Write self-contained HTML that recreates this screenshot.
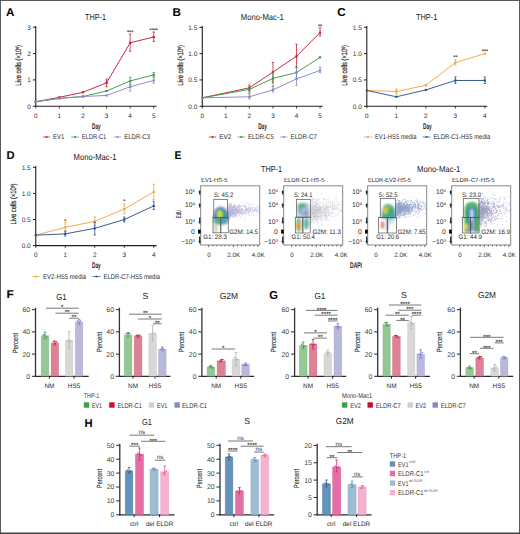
<!DOCTYPE html>
<html><head><meta charset="utf-8"><style>
html,body{margin:0;padding:0;background:#fff;overflow:hidden;}
svg{display:block;}
text{font-family:"Liberation Sans",sans-serif;text-rendering:geometricPrecision;}
</style></head><body>
<svg width="520" height="534" viewBox="0 0 520 534">
<rect x="0" y="0" width="520" height="534" fill="#fff"/>
<line x1="35.75" y1="26.00" x2="35.75" y2="106.75" stroke="#231f20" stroke-width="1.1"/>
<line x1="35.25" y1="106.25" x2="156.50" y2="106.25" stroke="#231f20" stroke-width="1.1"/>
<line x1="32.95" y1="106.25" x2="35.75" y2="106.25" stroke="#231f20" stroke-width="1.0"/>
<text x="30.75" y="108.58" font-size="6.5" text-anchor="end" fill="#333">0</text>
<line x1="32.95" y1="79.92" x2="35.75" y2="79.92" stroke="#231f20" stroke-width="1.0"/>
<text x="30.75" y="82.25" font-size="6.5" text-anchor="end" fill="#333">1</text>
<line x1="32.95" y1="53.59" x2="35.75" y2="53.59" stroke="#231f20" stroke-width="1.0"/>
<text x="30.75" y="55.92" font-size="6.5" text-anchor="end" fill="#333">2</text>
<line x1="32.95" y1="27.26" x2="35.75" y2="27.26" stroke="#231f20" stroke-width="1.0"/>
<text x="30.75" y="29.59" font-size="6.5" text-anchor="end" fill="#333">3</text>
<line x1="35.75" y1="106.25" x2="35.75" y2="108.45" stroke="#231f20" stroke-width="0.9"/>
<text x="35.75" y="117.54" font-size="6.4" text-anchor="middle" fill="#333">0</text>
<line x1="59.35" y1="106.25" x2="59.35" y2="108.45" stroke="#231f20" stroke-width="0.9"/>
<text x="59.35" y="117.54" font-size="6.4" text-anchor="middle" fill="#333">1</text>
<line x1="82.95" y1="106.25" x2="82.95" y2="108.45" stroke="#231f20" stroke-width="0.9"/>
<text x="82.95" y="117.54" font-size="6.4" text-anchor="middle" fill="#333">2</text>
<line x1="106.55" y1="106.25" x2="106.55" y2="108.45" stroke="#231f20" stroke-width="0.9"/>
<text x="106.55" y="117.54" font-size="6.4" text-anchor="middle" fill="#333">3</text>
<line x1="130.15" y1="106.25" x2="130.15" y2="108.45" stroke="#231f20" stroke-width="0.9"/>
<text x="130.15" y="117.54" font-size="6.4" text-anchor="middle" fill="#333">4</text>
<line x1="153.75" y1="106.25" x2="153.75" y2="108.45" stroke="#231f20" stroke-width="0.9"/>
<text x="153.75" y="117.54" font-size="6.4" text-anchor="middle" fill="#333">5</text>
<text x="95.50" y="20.08" font-size="8.6" text-anchor="middle" textLength="20.90" lengthAdjust="spacingAndGlyphs" fill="#222">THP-1</text>
<text x="0" y="2.83" font-size="7.9" text-anchor="middle" textLength="40.60" lengthAdjust="spacingAndGlyphs" fill="#222" stroke="#222" stroke-width="0.18" transform="translate(18.40,65.40) rotate(-90)">Live cells (×10<tspan font-size="4.4" dy="-2.4">6</tspan><tspan dy="2.4">)</tspan></text>
<text x="96.40" y="128.54" font-size="8.2" text-anchor="middle" font-weight="bold" textLength="8.60" lengthAdjust="spacingAndGlyphs" fill="#222">Day</text>
<path d="M35.75,101.77 L59.35,97.30 L82.95,92.30 L106.55,82.82 L130.15,42.79 L153.75,37.00" fill="none" stroke="#c81e3c" stroke-width="0.95"/>
<rect x="34.65" y="100.67" width="2.20" height="2.20" fill="#c81e3c"/>
<rect x="58.25" y="96.20" width="2.20" height="2.20" fill="#c81e3c"/>
<rect x="81.85" y="91.20" width="2.20" height="2.20" fill="#c81e3c"/>
<rect x="105.45" y="81.72" width="2.20" height="2.20" fill="#c81e3c"/>
<rect x="129.05" y="41.69" width="2.20" height="2.20" fill="#c81e3c"/>
<rect x="152.65" y="35.90" width="2.20" height="2.20" fill="#c81e3c"/>
<line x1="106.55" y1="79.10" x2="106.55" y2="86.80" stroke="#c81e3c" stroke-width="0.8"/>
<line x1="105.35" y1="79.10" x2="107.75" y2="79.10" stroke="#c81e3c" stroke-width="0.8"/>
<line x1="105.35" y1="86.80" x2="107.75" y2="86.80" stroke="#c81e3c" stroke-width="0.8"/>
<line x1="130.15" y1="34.10" x2="130.15" y2="51.30" stroke="#c81e3c" stroke-width="0.8"/>
<line x1="128.95" y1="34.10" x2="131.35" y2="34.10" stroke="#c81e3c" stroke-width="0.8"/>
<line x1="128.95" y1="51.30" x2="131.35" y2="51.30" stroke="#c81e3c" stroke-width="0.8"/>
<line x1="153.75" y1="32.00" x2="153.75" y2="41.40" stroke="#c81e3c" stroke-width="0.8"/>
<line x1="152.55" y1="32.00" x2="154.95" y2="32.00" stroke="#c81e3c" stroke-width="0.8"/>
<line x1="152.55" y1="41.40" x2="154.95" y2="41.40" stroke="#c81e3c" stroke-width="0.8"/>
<text x="130.15" y="33.93" font-size="5.4" text-anchor="middle" fill="#333" stroke="#333" stroke-width="0.12">***</text>
<text x="153.75" y="31.83" font-size="5.4" text-anchor="middle" fill="#333" stroke="#333" stroke-width="0.12">****</text>
<path d="M35.75,101.77 L59.35,98.35 L82.95,96.51 L106.55,90.98 L130.15,80.97 L153.75,74.92" fill="none" stroke="#3c9a48" stroke-width="0.95"/>
<rect x="34.65" y="100.67" width="2.20" height="2.20" fill="#3c9a48"/>
<rect x="58.25" y="97.25" width="2.20" height="2.20" fill="#3c9a48"/>
<rect x="81.85" y="95.41" width="2.20" height="2.20" fill="#3c9a48"/>
<rect x="105.45" y="89.88" width="2.20" height="2.20" fill="#3c9a48"/>
<rect x="129.05" y="79.87" width="2.20" height="2.20" fill="#3c9a48"/>
<rect x="152.65" y="73.82" width="2.20" height="2.20" fill="#3c9a48"/>
<line x1="130.15" y1="77.30" x2="130.15" y2="84.50" stroke="#3c9a48" stroke-width="0.8"/>
<line x1="128.95" y1="77.30" x2="131.35" y2="77.30" stroke="#3c9a48" stroke-width="0.8"/>
<line x1="128.95" y1="84.50" x2="131.35" y2="84.50" stroke="#3c9a48" stroke-width="0.8"/>
<line x1="153.75" y1="72.50" x2="153.75" y2="77.00" stroke="#3c9a48" stroke-width="0.8"/>
<line x1="152.55" y1="72.50" x2="154.95" y2="72.50" stroke="#3c9a48" stroke-width="0.8"/>
<line x1="152.55" y1="77.00" x2="154.95" y2="77.00" stroke="#3c9a48" stroke-width="0.8"/>
<path d="M35.75,101.77 L59.35,98.35 L82.95,96.51 L106.55,95.45 L130.15,86.77 L153.75,80.45" fill="none" stroke="#8a86c8" stroke-width="0.95"/>
<rect x="34.65" y="100.67" width="2.20" height="2.20" fill="#8a86c8"/>
<rect x="58.25" y="97.25" width="2.20" height="2.20" fill="#8a86c8"/>
<rect x="81.85" y="95.41" width="2.20" height="2.20" fill="#8a86c8"/>
<rect x="105.45" y="94.35" width="2.20" height="2.20" fill="#8a86c8"/>
<rect x="129.05" y="85.67" width="2.20" height="2.20" fill="#8a86c8"/>
<rect x="152.65" y="79.35" width="2.20" height="2.20" fill="#8a86c8"/>
<line x1="130.15" y1="81.20" x2="130.15" y2="91.00" stroke="#8a86c8" stroke-width="0.8"/>
<line x1="128.95" y1="81.20" x2="131.35" y2="81.20" stroke="#8a86c8" stroke-width="0.8"/>
<line x1="128.95" y1="91.00" x2="131.35" y2="91.00" stroke="#8a86c8" stroke-width="0.8"/>
<line x1="153.75" y1="77.70" x2="153.75" y2="83.30" stroke="#8a86c8" stroke-width="0.8"/>
<line x1="152.55" y1="77.70" x2="154.95" y2="77.70" stroke="#8a86c8" stroke-width="0.8"/>
<line x1="152.55" y1="83.30" x2="154.95" y2="83.30" stroke="#8a86c8" stroke-width="0.8"/>
<line x1="43.00" y1="137.00" x2="50.00" y2="137.00" stroke="#c81e3c" stroke-width="0.9" stroke-opacity="0.8"/>
<rect x="45.60" y="136.10" width="1.80" height="1.80" fill="#c81e3c"/>
<text x="53.00" y="139.47" font-size="6.9" textLength="11.25" lengthAdjust="spacingAndGlyphs" fill="#2a2a2a">EV1</text>
<line x1="71.25" y1="137.00" x2="78.75" y2="137.00" stroke="#3c9a48" stroke-width="0.9" stroke-opacity="0.8"/>
<rect x="74.10" y="136.10" width="1.80" height="1.80" fill="#3c9a48"/>
<text x="81.75" y="139.47" font-size="6.9" textLength="24.50" lengthAdjust="spacingAndGlyphs" fill="#2a2a2a">ELDR-C1</text>
<line x1="113.75" y1="137.00" x2="121.25" y2="137.00" stroke="#8a86c8" stroke-width="0.9" stroke-opacity="0.8"/>
<rect x="116.60" y="136.10" width="1.80" height="1.80" fill="#8a86c8"/>
<text x="124.25" y="139.47" font-size="6.9" textLength="25.75" lengthAdjust="spacingAndGlyphs" fill="#2a2a2a">ELDR-C3</text>
<line x1="202.30" y1="26.00" x2="202.30" y2="106.75" stroke="#231f20" stroke-width="1.1"/>
<line x1="201.80" y1="106.25" x2="322.70" y2="106.25" stroke="#231f20" stroke-width="1.1"/>
<line x1="199.50" y1="106.25" x2="202.30" y2="106.25" stroke="#231f20" stroke-width="1.0"/>
<text x="197.30" y="108.58" font-size="6.5" text-anchor="end" fill="#333">0.0</text>
<line x1="199.50" y1="79.95" x2="202.30" y2="79.95" stroke="#231f20" stroke-width="1.0"/>
<text x="197.30" y="82.28" font-size="6.5" text-anchor="end" fill="#333">0.5</text>
<line x1="199.50" y1="53.65" x2="202.30" y2="53.65" stroke="#231f20" stroke-width="1.0"/>
<text x="197.30" y="55.98" font-size="6.5" text-anchor="end" fill="#333">1.0</text>
<line x1="199.50" y1="27.35" x2="202.30" y2="27.35" stroke="#231f20" stroke-width="1.0"/>
<text x="197.30" y="29.68" font-size="6.5" text-anchor="end" fill="#333">1.5</text>
<line x1="202.30" y1="106.25" x2="202.30" y2="108.45" stroke="#231f20" stroke-width="0.9"/>
<text x="202.30" y="117.54" font-size="6.4" text-anchor="middle" fill="#333">0</text>
<line x1="225.85" y1="106.25" x2="225.85" y2="108.45" stroke="#231f20" stroke-width="0.9"/>
<text x="225.85" y="117.54" font-size="6.4" text-anchor="middle" fill="#333">1</text>
<line x1="249.40" y1="106.25" x2="249.40" y2="108.45" stroke="#231f20" stroke-width="0.9"/>
<text x="249.40" y="117.54" font-size="6.4" text-anchor="middle" fill="#333">2</text>
<line x1="272.95" y1="106.25" x2="272.95" y2="108.45" stroke="#231f20" stroke-width="0.9"/>
<text x="272.95" y="117.54" font-size="6.4" text-anchor="middle" fill="#333">3</text>
<line x1="296.50" y1="106.25" x2="296.50" y2="108.45" stroke="#231f20" stroke-width="0.9"/>
<text x="296.50" y="117.54" font-size="6.4" text-anchor="middle" fill="#333">4</text>
<line x1="320.05" y1="106.25" x2="320.05" y2="108.45" stroke="#231f20" stroke-width="0.9"/>
<text x="320.05" y="117.54" font-size="6.4" text-anchor="middle" fill="#333">5</text>
<text x="262.30" y="20.08" font-size="8.6" text-anchor="middle" textLength="42.90" lengthAdjust="spacingAndGlyphs" fill="#222">Mono-Mac-1</text>
<text x="0" y="2.83" font-size="7.9" text-anchor="middle" textLength="40.60" lengthAdjust="spacingAndGlyphs" fill="#222" stroke="#222" stroke-width="0.18" transform="translate(180.20,65.40) rotate(-90)">Live cells (×10<tspan font-size="4.4" dy="-2.4">6</tspan><tspan dy="2.4">)</tspan></text>
<text x="262.50" y="128.54" font-size="8.2" text-anchor="middle" font-weight="bold" textLength="8.60" lengthAdjust="spacingAndGlyphs" fill="#222">Day</text>
<path d="M202.30,97.83 L249.40,87.84 L272.95,72.06 L296.50,56.28 L320.05,32.61" fill="none" stroke="#c81e3c" stroke-width="0.95"/>
<rect x="201.20" y="96.73" width="2.20" height="2.20" fill="#c81e3c"/>
<rect x="248.30" y="86.74" width="2.20" height="2.20" fill="#c81e3c"/>
<rect x="271.85" y="70.96" width="2.20" height="2.20" fill="#c81e3c"/>
<rect x="295.40" y="55.18" width="2.20" height="2.20" fill="#c81e3c"/>
<rect x="318.95" y="31.51" width="2.20" height="2.20" fill="#c81e3c"/>
<line x1="249.40" y1="85.00" x2="249.40" y2="91.00" stroke="#c81e3c" stroke-width="0.8"/>
<line x1="248.20" y1="85.00" x2="250.60" y2="85.00" stroke="#c81e3c" stroke-width="0.8"/>
<line x1="248.20" y1="91.00" x2="250.60" y2="91.00" stroke="#c81e3c" stroke-width="0.8"/>
<line x1="272.95" y1="62.40" x2="272.95" y2="82.30" stroke="#c81e3c" stroke-width="0.8"/>
<line x1="271.75" y1="62.40" x2="274.15" y2="62.40" stroke="#c81e3c" stroke-width="0.8"/>
<line x1="271.75" y1="82.30" x2="274.15" y2="82.30" stroke="#c81e3c" stroke-width="0.8"/>
<line x1="296.50" y1="44.20" x2="296.50" y2="67.60" stroke="#c81e3c" stroke-width="0.8"/>
<line x1="295.30" y1="44.20" x2="297.70" y2="44.20" stroke="#c81e3c" stroke-width="0.8"/>
<line x1="295.30" y1="67.60" x2="297.70" y2="67.60" stroke="#c81e3c" stroke-width="0.8"/>
<line x1="320.05" y1="27.80" x2="320.05" y2="35.90" stroke="#c81e3c" stroke-width="0.8"/>
<line x1="318.85" y1="27.80" x2="321.25" y2="27.80" stroke="#c81e3c" stroke-width="0.8"/>
<line x1="318.85" y1="35.90" x2="321.25" y2="35.90" stroke="#c81e3c" stroke-width="0.8"/>
<text x="320.05" y="27.83" font-size="5.4" text-anchor="middle" fill="#333" stroke="#333" stroke-width="0.12">**</text>
<path d="M202.30,97.83 L249.40,89.42 L272.95,78.37 L296.50,72.59 L320.05,57.33" fill="none" stroke="#3c9a48" stroke-width="0.95"/>
<rect x="201.20" y="96.73" width="2.20" height="2.20" fill="#3c9a48"/>
<rect x="248.30" y="88.32" width="2.20" height="2.20" fill="#3c9a48"/>
<rect x="271.85" y="77.27" width="2.20" height="2.20" fill="#3c9a48"/>
<rect x="295.40" y="71.49" width="2.20" height="2.20" fill="#3c9a48"/>
<rect x="318.95" y="56.23" width="2.20" height="2.20" fill="#3c9a48"/>
<line x1="249.40" y1="87.00" x2="249.40" y2="93.00" stroke="#3c9a48" stroke-width="0.8"/>
<line x1="248.20" y1="87.00" x2="250.60" y2="87.00" stroke="#3c9a48" stroke-width="0.8"/>
<line x1="248.20" y1="93.00" x2="250.60" y2="93.00" stroke="#3c9a48" stroke-width="0.8"/>
<line x1="272.95" y1="72.00" x2="272.95" y2="86.60" stroke="#3c9a48" stroke-width="0.8"/>
<line x1="271.75" y1="72.00" x2="274.15" y2="72.00" stroke="#3c9a48" stroke-width="0.8"/>
<line x1="271.75" y1="86.60" x2="274.15" y2="86.60" stroke="#3c9a48" stroke-width="0.8"/>
<line x1="296.50" y1="66.70" x2="296.50" y2="78.00" stroke="#3c9a48" stroke-width="0.8"/>
<line x1="295.30" y1="66.70" x2="297.70" y2="66.70" stroke="#3c9a48" stroke-width="0.8"/>
<line x1="295.30" y1="78.00" x2="297.70" y2="78.00" stroke="#3c9a48" stroke-width="0.8"/>
<path d="M202.30,97.83 L249.40,96.78 L272.95,89.94 L296.50,78.90 L320.05,70.48" fill="none" stroke="#8a86c8" stroke-width="0.95"/>
<rect x="201.20" y="96.73" width="2.20" height="2.20" fill="#8a86c8"/>
<rect x="248.30" y="95.68" width="2.20" height="2.20" fill="#8a86c8"/>
<rect x="271.85" y="88.84" width="2.20" height="2.20" fill="#8a86c8"/>
<rect x="295.40" y="77.80" width="2.20" height="2.20" fill="#8a86c8"/>
<rect x="318.95" y="69.38" width="2.20" height="2.20" fill="#8a86c8"/>
<line x1="249.40" y1="94.00" x2="249.40" y2="99.00" stroke="#8a86c8" stroke-width="0.8"/>
<line x1="248.20" y1="94.00" x2="250.60" y2="94.00" stroke="#8a86c8" stroke-width="0.8"/>
<line x1="248.20" y1="99.00" x2="250.60" y2="99.00" stroke="#8a86c8" stroke-width="0.8"/>
<line x1="272.95" y1="88.00" x2="272.95" y2="92.00" stroke="#8a86c8" stroke-width="0.8"/>
<line x1="271.75" y1="88.00" x2="274.15" y2="88.00" stroke="#8a86c8" stroke-width="0.8"/>
<line x1="271.75" y1="92.00" x2="274.15" y2="92.00" stroke="#8a86c8" stroke-width="0.8"/>
<line x1="296.50" y1="67.70" x2="296.50" y2="85.40" stroke="#8a86c8" stroke-width="0.8"/>
<line x1="295.30" y1="67.70" x2="297.70" y2="67.70" stroke="#8a86c8" stroke-width="0.8"/>
<line x1="295.30" y1="85.40" x2="297.70" y2="85.40" stroke="#8a86c8" stroke-width="0.8"/>
<line x1="320.05" y1="67.00" x2="320.05" y2="72.80" stroke="#8a86c8" stroke-width="0.8"/>
<line x1="318.85" y1="67.00" x2="321.25" y2="67.00" stroke="#8a86c8" stroke-width="0.8"/>
<line x1="318.85" y1="72.80" x2="321.25" y2="72.80" stroke="#8a86c8" stroke-width="0.8"/>
<line x1="208.75" y1="137.00" x2="216.25" y2="137.00" stroke="#c81e3c" stroke-width="0.9" stroke-opacity="0.8"/>
<rect x="211.60" y="136.10" width="1.80" height="1.80" fill="#c81e3c"/>
<text x="219.25" y="139.47" font-size="6.9" textLength="12.00" lengthAdjust="spacingAndGlyphs" fill="#2a2a2a">EV2</text>
<line x1="237.50" y1="137.00" x2="245.00" y2="137.00" stroke="#3c9a48" stroke-width="0.9" stroke-opacity="0.8"/>
<rect x="240.35" y="136.10" width="1.80" height="1.80" fill="#3c9a48"/>
<text x="248.00" y="139.47" font-size="6.9" textLength="25.75" lengthAdjust="spacingAndGlyphs" fill="#2a2a2a">ELDR-C5</text>
<line x1="280.00" y1="137.00" x2="287.50" y2="137.00" stroke="#8a86c8" stroke-width="0.9" stroke-opacity="0.8"/>
<rect x="282.85" y="136.10" width="1.80" height="1.80" fill="#8a86c8"/>
<text x="290.50" y="139.47" font-size="6.9" textLength="26.50" lengthAdjust="spacingAndGlyphs" fill="#2a2a2a">ELDR-C7</text>
<line x1="366.80" y1="26.00" x2="366.80" y2="106.75" stroke="#231f20" stroke-width="1.1"/>
<line x1="366.30" y1="106.25" x2="487.30" y2="106.25" stroke="#231f20" stroke-width="1.1"/>
<line x1="364.00" y1="106.25" x2="366.80" y2="106.25" stroke="#231f20" stroke-width="1.0"/>
<text x="361.80" y="108.58" font-size="6.5" text-anchor="end" fill="#333">0.0</text>
<line x1="364.00" y1="79.95" x2="366.80" y2="79.95" stroke="#231f20" stroke-width="1.0"/>
<text x="361.80" y="82.28" font-size="6.5" text-anchor="end" fill="#333">0.5</text>
<line x1="364.00" y1="53.65" x2="366.80" y2="53.65" stroke="#231f20" stroke-width="1.0"/>
<text x="361.80" y="55.98" font-size="6.5" text-anchor="end" fill="#333">1.0</text>
<line x1="364.00" y1="27.35" x2="366.80" y2="27.35" stroke="#231f20" stroke-width="1.0"/>
<text x="361.80" y="29.68" font-size="6.5" text-anchor="end" fill="#333">1.5</text>
<line x1="366.90" y1="106.25" x2="366.90" y2="108.45" stroke="#231f20" stroke-width="0.9"/>
<text x="366.90" y="117.54" font-size="6.4" text-anchor="middle" fill="#333">0</text>
<line x1="396.40" y1="106.25" x2="396.40" y2="108.45" stroke="#231f20" stroke-width="0.9"/>
<text x="396.40" y="117.54" font-size="6.4" text-anchor="middle" fill="#333">1</text>
<line x1="425.90" y1="106.25" x2="425.90" y2="108.45" stroke="#231f20" stroke-width="0.9"/>
<text x="425.90" y="117.54" font-size="6.4" text-anchor="middle" fill="#333">2</text>
<line x1="455.40" y1="106.25" x2="455.40" y2="108.45" stroke="#231f20" stroke-width="0.9"/>
<text x="455.40" y="117.54" font-size="6.4" text-anchor="middle" fill="#333">3</text>
<line x1="484.90" y1="106.25" x2="484.90" y2="108.45" stroke="#231f20" stroke-width="0.9"/>
<text x="484.90" y="117.54" font-size="6.4" text-anchor="middle" fill="#333">4</text>
<text x="426.70" y="20.08" font-size="8.6" text-anchor="middle" textLength="21.30" lengthAdjust="spacingAndGlyphs" fill="#222">THP-1</text>
<text x="0" y="2.83" font-size="7.9" text-anchor="middle" textLength="40.60" lengthAdjust="spacingAndGlyphs" fill="#222" stroke="#222" stroke-width="0.18" transform="translate(344.40,65.40) rotate(-90)">Live cells (×10<tspan font-size="4.4" dy="-2.4">6</tspan><tspan dy="2.4">)</tspan></text>
<text x="427.30" y="128.84" font-size="8.2" text-anchor="middle" font-weight="bold" textLength="8.60" lengthAdjust="spacingAndGlyphs" fill="#222">Day</text>
<path d="M366.90,90.47 L396.40,91.52 L425.90,85.21 L455.40,62.59 L484.90,53.65" fill="none" stroke="#f2a640" stroke-width="0.95"/>
<rect x="365.80" y="89.37" width="2.20" height="2.20" fill="#f2a640"/>
<rect x="395.30" y="90.42" width="2.20" height="2.20" fill="#f2a640"/>
<rect x="424.80" y="84.11" width="2.20" height="2.20" fill="#f2a640"/>
<rect x="454.30" y="61.49" width="2.20" height="2.20" fill="#f2a640"/>
<rect x="483.80" y="52.55" width="2.20" height="2.20" fill="#f2a640"/>
<line x1="396.40" y1="89.00" x2="396.40" y2="94.00" stroke="#f2a640" stroke-width="0.8"/>
<line x1="395.20" y1="89.00" x2="397.60" y2="89.00" stroke="#f2a640" stroke-width="0.8"/>
<line x1="395.20" y1="94.00" x2="397.60" y2="94.00" stroke="#f2a640" stroke-width="0.8"/>
<line x1="455.40" y1="59.50" x2="455.40" y2="65.00" stroke="#f2a640" stroke-width="0.8"/>
<line x1="454.20" y1="59.50" x2="456.60" y2="59.50" stroke="#f2a640" stroke-width="0.8"/>
<line x1="454.20" y1="65.00" x2="456.60" y2="65.00" stroke="#f2a640" stroke-width="0.8"/>
<text x="455.40" y="58.83" font-size="5.4" text-anchor="middle" fill="#333" stroke="#333" stroke-width="0.12">**</text>
<text x="484.90" y="52.63" font-size="5.4" text-anchor="middle" fill="#333" stroke="#333" stroke-width="0.12">***</text>
<path d="M366.90,90.47 L396.40,96.78 L425.90,89.94 L455.40,80.48 L484.90,80.48" fill="none" stroke="#2c5688" stroke-width="0.95"/>
<rect x="365.80" y="89.37" width="2.20" height="2.20" fill="#2c5688"/>
<rect x="395.30" y="95.68" width="2.20" height="2.20" fill="#2c5688"/>
<rect x="424.80" y="88.84" width="2.20" height="2.20" fill="#2c5688"/>
<rect x="454.30" y="79.38" width="2.20" height="2.20" fill="#2c5688"/>
<rect x="483.80" y="79.38" width="2.20" height="2.20" fill="#2c5688"/>
<line x1="455.40" y1="76.90" x2="455.40" y2="83.50" stroke="#2c5688" stroke-width="0.8"/>
<line x1="454.20" y1="76.90" x2="456.60" y2="76.90" stroke="#2c5688" stroke-width="0.8"/>
<line x1="454.20" y1="83.50" x2="456.60" y2="83.50" stroke="#2c5688" stroke-width="0.8"/>
<line x1="484.90" y1="77.00" x2="484.90" y2="83.50" stroke="#2c5688" stroke-width="0.8"/>
<line x1="483.70" y1="77.00" x2="486.10" y2="77.00" stroke="#2c5688" stroke-width="0.8"/>
<line x1="483.70" y1="83.50" x2="486.10" y2="83.50" stroke="#2c5688" stroke-width="0.8"/>
<line x1="363.50" y1="137.00" x2="372.00" y2="137.00" stroke="#f2a640" stroke-width="0.9" stroke-opacity="0.8"/>
<rect x="366.85" y="136.10" width="1.80" height="1.80" fill="#f2a640"/>
<text x="375.00" y="139.47" font-size="6.9" textLength="41.50" lengthAdjust="spacingAndGlyphs" fill="#2a2a2a">EV1-HS5 media</text>
<line x1="422.70" y1="137.00" x2="430.40" y2="137.00" stroke="#2c5688" stroke-width="0.9" stroke-opacity="0.8"/>
<rect x="425.65" y="136.10" width="1.80" height="1.80" fill="#2c5688"/>
<text x="433.40" y="139.47" font-size="6.9" textLength="57.00" lengthAdjust="spacingAndGlyphs" fill="#2a2a2a">ELDR-C1-HS5 media</text>
<line x1="35.75" y1="166.00" x2="35.75" y2="246.10" stroke="#231f20" stroke-width="1.1"/>
<line x1="35.25" y1="245.60" x2="156.50" y2="245.60" stroke="#231f20" stroke-width="1.1"/>
<line x1="32.95" y1="245.60" x2="35.75" y2="245.60" stroke="#231f20" stroke-width="1.0"/>
<text x="30.75" y="247.93" font-size="6.5" text-anchor="end" fill="#333">0.0</text>
<line x1="32.95" y1="219.50" x2="35.75" y2="219.50" stroke="#231f20" stroke-width="1.0"/>
<text x="30.75" y="221.83" font-size="6.5" text-anchor="end" fill="#333">0.5</text>
<line x1="32.95" y1="193.40" x2="35.75" y2="193.40" stroke="#231f20" stroke-width="1.0"/>
<text x="30.75" y="195.73" font-size="6.5" text-anchor="end" fill="#333">1.0</text>
<line x1="32.95" y1="167.30" x2="35.75" y2="167.30" stroke="#231f20" stroke-width="1.0"/>
<text x="30.75" y="169.63" font-size="6.5" text-anchor="end" fill="#333">1.5</text>
<line x1="35.75" y1="245.60" x2="35.75" y2="247.80" stroke="#231f20" stroke-width="0.9"/>
<text x="35.75" y="256.89" font-size="6.4" text-anchor="middle" fill="#333">0</text>
<line x1="65.25" y1="245.60" x2="65.25" y2="247.80" stroke="#231f20" stroke-width="0.9"/>
<text x="65.25" y="256.89" font-size="6.4" text-anchor="middle" fill="#333">1</text>
<line x1="94.75" y1="245.60" x2="94.75" y2="247.80" stroke="#231f20" stroke-width="0.9"/>
<text x="94.75" y="256.89" font-size="6.4" text-anchor="middle" fill="#333">2</text>
<line x1="124.25" y1="245.60" x2="124.25" y2="247.80" stroke="#231f20" stroke-width="0.9"/>
<text x="124.25" y="256.89" font-size="6.4" text-anchor="middle" fill="#333">3</text>
<line x1="153.75" y1="245.60" x2="153.75" y2="247.80" stroke="#231f20" stroke-width="0.9"/>
<text x="153.75" y="256.89" font-size="6.4" text-anchor="middle" fill="#333">4</text>
<text x="95.00" y="160.08" font-size="8.6" text-anchor="middle" textLength="43.00" lengthAdjust="spacingAndGlyphs" fill="#222">Mono-Mac-1</text>
<text x="0" y="2.83" font-size="7.9" text-anchor="middle" textLength="41.00" lengthAdjust="spacingAndGlyphs" fill="#222" stroke="#222" stroke-width="0.18" transform="translate(13.50,204.00) rotate(-90)">Live cells (×10<tspan font-size="4.4" dy="-2.4">6</tspan><tspan dy="2.4">)</tspan></text>
<text x="96.40" y="268.14" font-size="8.2" text-anchor="middle" font-weight="bold" textLength="8.60" lengthAdjust="spacingAndGlyphs" fill="#222">Day</text>
<path d="M35.75,235.16 L65.25,227.33 L94.75,221.33 L124.25,209.06 L153.75,191.83" fill="none" stroke="#f2a640" stroke-width="0.95"/>
<rect x="34.65" y="234.06" width="2.20" height="2.20" fill="#f2a640"/>
<rect x="64.15" y="226.23" width="2.20" height="2.20" fill="#f2a640"/>
<rect x="93.65" y="220.23" width="2.20" height="2.20" fill="#f2a640"/>
<rect x="123.15" y="207.96" width="2.20" height="2.20" fill="#f2a640"/>
<rect x="152.65" y="190.73" width="2.20" height="2.20" fill="#f2a640"/>
<line x1="65.25" y1="222.50" x2="65.25" y2="231.00" stroke="#f2a640" stroke-width="0.8"/>
<line x1="64.05" y1="222.50" x2="66.45" y2="222.50" stroke="#f2a640" stroke-width="0.8"/>
<line x1="64.05" y1="231.00" x2="66.45" y2="231.00" stroke="#f2a640" stroke-width="0.8"/>
<line x1="94.75" y1="217.00" x2="94.75" y2="225.50" stroke="#f2a640" stroke-width="0.8"/>
<line x1="93.55" y1="217.00" x2="95.95" y2="217.00" stroke="#f2a640" stroke-width="0.8"/>
<line x1="93.55" y1="225.50" x2="95.95" y2="225.50" stroke="#f2a640" stroke-width="0.8"/>
<line x1="124.25" y1="203.75" x2="124.25" y2="213.75" stroke="#f2a640" stroke-width="0.8"/>
<line x1="123.05" y1="203.75" x2="125.45" y2="203.75" stroke="#f2a640" stroke-width="0.8"/>
<line x1="123.05" y1="213.75" x2="125.45" y2="213.75" stroke="#f2a640" stroke-width="0.8"/>
<line x1="153.75" y1="184.25" x2="153.75" y2="199.50" stroke="#f2a640" stroke-width="0.8"/>
<line x1="152.55" y1="184.25" x2="154.95" y2="184.25" stroke="#f2a640" stroke-width="0.8"/>
<line x1="152.55" y1="199.50" x2="154.95" y2="199.50" stroke="#f2a640" stroke-width="0.8"/>
<text x="65.25" y="223.03" font-size="5.4" text-anchor="middle" fill="#333" stroke="#333" stroke-width="0.12">*</text>
<text x="124.25" y="202.53" font-size="5.4" text-anchor="middle" fill="#333" stroke="#333" stroke-width="0.12">*</text>
<path d="M35.75,235.16 L65.25,233.85 L94.75,228.37 L124.25,219.50 L153.75,205.93" fill="none" stroke="#2c5688" stroke-width="0.95"/>
<rect x="34.65" y="234.06" width="2.20" height="2.20" fill="#2c5688"/>
<rect x="64.15" y="232.75" width="2.20" height="2.20" fill="#2c5688"/>
<rect x="93.65" y="227.27" width="2.20" height="2.20" fill="#2c5688"/>
<rect x="123.15" y="218.40" width="2.20" height="2.20" fill="#2c5688"/>
<rect x="152.65" y="204.83" width="2.20" height="2.20" fill="#2c5688"/>
<line x1="65.25" y1="231.00" x2="65.25" y2="236.00" stroke="#2c5688" stroke-width="0.8"/>
<line x1="64.05" y1="231.00" x2="66.45" y2="231.00" stroke="#2c5688" stroke-width="0.8"/>
<line x1="64.05" y1="236.00" x2="66.45" y2="236.00" stroke="#2c5688" stroke-width="0.8"/>
<line x1="94.75" y1="222.50" x2="94.75" y2="235.00" stroke="#2c5688" stroke-width="0.8"/>
<line x1="93.55" y1="222.50" x2="95.95" y2="222.50" stroke="#2c5688" stroke-width="0.8"/>
<line x1="93.55" y1="235.00" x2="95.95" y2="235.00" stroke="#2c5688" stroke-width="0.8"/>
<line x1="124.25" y1="217.00" x2="124.25" y2="222.00" stroke="#2c5688" stroke-width="0.8"/>
<line x1="123.05" y1="217.00" x2="125.45" y2="217.00" stroke="#2c5688" stroke-width="0.8"/>
<line x1="123.05" y1="222.00" x2="125.45" y2="222.00" stroke="#2c5688" stroke-width="0.8"/>
<line x1="153.75" y1="201.25" x2="153.75" y2="209.50" stroke="#2c5688" stroke-width="0.8"/>
<line x1="152.55" y1="201.25" x2="154.95" y2="201.25" stroke="#2c5688" stroke-width="0.8"/>
<line x1="152.55" y1="209.50" x2="154.95" y2="209.50" stroke="#2c5688" stroke-width="0.8"/>
<line x1="32.30" y1="276.50" x2="40.00" y2="276.50" stroke="#f2a640" stroke-width="0.9" stroke-opacity="0.8"/>
<rect x="35.25" y="275.60" width="1.80" height="1.80" fill="#f2a640"/>
<text x="43.00" y="278.97" font-size="6.9" textLength="43.20" lengthAdjust="spacingAndGlyphs" fill="#2a2a2a">EV2-HS5 media</text>
<line x1="92.30" y1="276.50" x2="100.60" y2="276.50" stroke="#2c5688" stroke-width="0.9" stroke-opacity="0.8"/>
<rect x="95.55" y="275.60" width="1.80" height="1.80" fill="#2c5688"/>
<text x="103.60" y="278.97" font-size="6.9" textLength="56.40" lengthAdjust="spacingAndGlyphs" fill="#2a2a2a">ELDR-C7-HS5 media</text>
<text x="6.10" y="15.98" font-size="11.4" font-weight="bold" textLength="8.40" lengthAdjust="spacingAndGlyphs" fill="#000">A</text>
<text x="172.60" y="15.78" font-size="11.4" font-weight="bold" textLength="8.40" lengthAdjust="spacingAndGlyphs" fill="#000">B</text>
<text x="337.30" y="16.08" font-size="11.4" font-weight="bold" textLength="8.40" lengthAdjust="spacingAndGlyphs" fill="#000">C</text>
<text x="6.40" y="158.83" font-size="11.4" font-weight="bold" textLength="8.10" lengthAdjust="spacingAndGlyphs" fill="#000">D</text>
<text x="174.60" y="158.68" font-size="11.4" font-weight="bold" textLength="7.00" lengthAdjust="spacingAndGlyphs" fill="#000">E</text>
<text x="6.40" y="297.93" font-size="11.4" font-weight="bold" textLength="7.30" lengthAdjust="spacingAndGlyphs" fill="#000">F</text>
<text x="269.30" y="299.28" font-size="11.4" font-weight="bold" textLength="8.70" lengthAdjust="spacingAndGlyphs" fill="#000">G</text>
<text x="84.60" y="426.93" font-size="11.4" font-weight="bold" textLength="8.10" lengthAdjust="spacingAndGlyphs" fill="#000">H</text>
<defs><filter id="bl" x="-50%" y="-50%" width="200%" height="200%"><feGaussianBlur stdDeviation="1.1"/></filter><filter id="bl2" x="-50%" y="-50%" width="200%" height="200%"><feGaussianBlur stdDeviation="0.9"/></filter></defs>
<rect x="200.70" y="185.80" width="59.0" height="59.2" fill="#fff" stroke="#7a7a7a" stroke-width="0.9"/>
<g fill="#5858a8" opacity="0.35"><circle cx="230.2" cy="213.7" r="0.5"/><circle cx="228.0" cy="214.8" r="0.5"/><circle cx="232.9" cy="210.6" r="0.5"/><circle cx="232.5" cy="212.0" r="0.5"/><circle cx="227.8" cy="210.5" r="0.5"/><circle cx="228.2" cy="211.9" r="0.5"/><circle cx="231.4" cy="212.0" r="0.5"/><circle cx="229.3" cy="210.1" r="0.5"/><circle cx="234.4" cy="214.6" r="0.5"/><circle cx="231.0" cy="210.1" r="0.5"/><circle cx="253.7" cy="215.5" r="0.5"/><circle cx="229.9" cy="213.0" r="0.5"/><circle cx="228.6" cy="213.2" r="0.5"/><circle cx="239.4" cy="212.5" r="0.5"/><circle cx="228.9" cy="207.9" r="0.5"/><circle cx="230.8" cy="209.4" r="0.5"/><circle cx="233.1" cy="212.1" r="0.5"/><circle cx="229.1" cy="211.8" r="0.5"/><circle cx="235.5" cy="208.9" r="0.5"/><circle cx="233.7" cy="212.3" r="0.5"/><circle cx="231.7" cy="209.8" r="0.5"/><circle cx="235.9" cy="215.8" r="0.5"/><circle cx="229.5" cy="208.4" r="0.5"/><circle cx="242.1" cy="209.2" r="0.5"/><circle cx="236.7" cy="209.2" r="0.5"/><circle cx="228.4" cy="219.1" r="0.5"/><circle cx="231.3" cy="211.4" r="0.5"/><circle cx="232.2" cy="209.7" r="0.5"/><circle cx="227.8" cy="209.1" r="0.5"/><circle cx="233.5" cy="207.1" r="0.5"/><circle cx="242.1" cy="209.1" r="0.5"/><circle cx="233.8" cy="215.2" r="0.5"/><circle cx="233.6" cy="206.0" r="0.5"/><circle cx="247.8" cy="211.9" r="0.5"/><circle cx="232.0" cy="210.8" r="0.5"/><circle cx="236.0" cy="210.2" r="0.5"/><circle cx="234.8" cy="216.3" r="0.5"/><circle cx="229.8" cy="211.2" r="0.5"/><circle cx="230.9" cy="211.0" r="0.5"/><circle cx="231.8" cy="210.8" r="0.5"/><circle cx="228.8" cy="212.2" r="0.5"/><circle cx="237.7" cy="211.6" r="0.5"/><circle cx="228.5" cy="211.5" r="0.5"/><circle cx="241.9" cy="213.6" r="0.5"/><circle cx="228.1" cy="208.1" r="0.5"/><circle cx="242.5" cy="211.9" r="0.5"/><circle cx="239.5" cy="212.4" r="0.5"/><circle cx="231.3" cy="209.6" r="0.5"/><circle cx="230.6" cy="216.6" r="0.5"/><circle cx="228.6" cy="206.8" r="0.5"/><circle cx="228.9" cy="211.7" r="0.5"/><circle cx="232.1" cy="213.3" r="0.5"/><circle cx="233.7" cy="211.2" r="0.5"/><circle cx="231.3" cy="211.6" r="0.5"/><circle cx="230.7" cy="205.0" r="0.5"/><circle cx="235.7" cy="208.3" r="0.5"/><circle cx="232.6" cy="208.1" r="0.5"/><circle cx="227.9" cy="208.6" r="0.5"/><circle cx="243.6" cy="211.8" r="0.5"/><circle cx="238.7" cy="205.3" r="0.5"/><circle cx="231.0" cy="210.3" r="0.5"/><circle cx="234.5" cy="211.9" r="0.5"/><circle cx="227.9" cy="213.2" r="0.5"/><circle cx="228.7" cy="212.2" r="0.5"/><circle cx="230.4" cy="211.4" r="0.5"/><circle cx="228.6" cy="211.5" r="0.5"/><circle cx="228.2" cy="211.0" r="0.5"/><circle cx="242.0" cy="211.3" r="0.5"/><circle cx="234.2" cy="212.4" r="0.5"/><circle cx="230.5" cy="213.1" r="0.5"/><circle cx="230.7" cy="215.2" r="0.5"/><circle cx="231.9" cy="210.1" r="0.5"/><circle cx="228.3" cy="211.6" r="0.5"/><circle cx="230.4" cy="210.9" r="0.5"/><circle cx="228.7" cy="216.7" r="0.5"/><circle cx="227.7" cy="214.8" r="0.5"/><circle cx="228.6" cy="210.4" r="0.5"/><circle cx="233.0" cy="214.6" r="0.5"/><circle cx="254.4" cy="210.7" r="0.5"/><circle cx="241.4" cy="210.1" r="0.5"/><circle cx="230.7" cy="209.3" r="0.5"/><circle cx="228.8" cy="211.9" r="0.5"/><circle cx="238.1" cy="207.6" r="0.5"/><circle cx="230.3" cy="212.2" r="0.5"/><circle cx="256.9" cy="215.1" r="0.5"/><circle cx="240.9" cy="212.6" r="0.5"/><circle cx="236.9" cy="206.2" r="0.5"/><circle cx="229.3" cy="208.8" r="0.5"/><circle cx="227.7" cy="211.2" r="0.5"/><circle cx="227.7" cy="211.1" r="0.5"/><circle cx="235.8" cy="213.2" r="0.5"/><circle cx="249.4" cy="204.2" r="0.5"/><circle cx="258.5" cy="212.1" r="0.5"/><circle cx="249.2" cy="209.1" r="0.5"/><circle cx="229.3" cy="212.9" r="0.5"/><circle cx="229.0" cy="212.5" r="0.5"/><circle cx="243.6" cy="214.4" r="0.5"/><circle cx="240.3" cy="206.8" r="0.5"/><circle cx="238.8" cy="211.5" r="0.5"/><circle cx="228.1" cy="208.2" r="0.5"/><circle cx="238.2" cy="205.8" r="0.5"/><circle cx="237.2" cy="209.3" r="0.5"/><circle cx="238.4" cy="211.2" r="0.5"/><circle cx="230.3" cy="213.7" r="0.5"/><circle cx="231.0" cy="204.2" r="0.5"/><circle cx="231.1" cy="215.6" r="0.5"/><circle cx="228.8" cy="210.0" r="0.5"/><circle cx="228.5" cy="215.0" r="0.5"/><circle cx="239.0" cy="215.9" r="0.5"/><circle cx="228.6" cy="215.1" r="0.5"/><circle cx="235.0" cy="204.2" r="0.5"/><circle cx="230.5" cy="209.9" r="0.5"/><circle cx="227.6" cy="211.0" r="0.5"/><circle cx="252.3" cy="208.2" r="0.5"/><circle cx="246.5" cy="207.8" r="0.5"/><circle cx="231.5" cy="214.9" r="0.5"/><circle cx="229.2" cy="207.6" r="0.5"/><circle cx="229.5" cy="210.8" r="0.5"/><circle cx="233.7" cy="213.2" r="0.5"/><circle cx="229.6" cy="210.1" r="0.5"/><circle cx="244.4" cy="211.4" r="0.5"/><circle cx="230.6" cy="207.8" r="0.5"/><circle cx="243.9" cy="211.6" r="0.5"/><circle cx="231.3" cy="214.2" r="0.5"/><circle cx="232.8" cy="209.6" r="0.5"/><circle cx="232.7" cy="214.2" r="0.5"/><circle cx="228.9" cy="211.8" r="0.5"/><circle cx="227.5" cy="212.0" r="0.5"/><circle cx="232.0" cy="209.6" r="0.5"/><circle cx="236.5" cy="208.7" r="0.5"/><circle cx="232.6" cy="210.4" r="0.5"/><circle cx="233.2" cy="211.5" r="0.5"/><circle cx="233.3" cy="209.9" r="0.5"/><circle cx="229.5" cy="210.6" r="0.5"/><circle cx="232.5" cy="216.0" r="0.5"/><circle cx="233.3" cy="211.6" r="0.5"/><circle cx="231.6" cy="205.1" r="0.5"/><circle cx="234.1" cy="207.8" r="0.5"/><circle cx="235.8" cy="211.0" r="0.5"/><circle cx="231.7" cy="208.2" r="0.5"/><circle cx="247.4" cy="209.8" r="0.5"/><circle cx="235.9" cy="215.9" r="0.5"/><circle cx="229.6" cy="206.7" r="0.5"/><circle cx="233.2" cy="216.2" r="0.5"/><circle cx="228.5" cy="209.6" r="0.5"/><circle cx="228.4" cy="210.4" r="0.5"/><circle cx="229.4" cy="211.8" r="0.5"/><circle cx="228.0" cy="209.1" r="0.5"/><circle cx="243.4" cy="206.4" r="0.5"/><circle cx="228.7" cy="210.6" r="0.5"/><circle cx="228.6" cy="207.4" r="0.5"/><circle cx="242.5" cy="212.7" r="0.5"/><circle cx="248.8" cy="210.0" r="0.5"/><circle cx="231.1" cy="202.9" r="0.5"/><circle cx="240.0" cy="211.6" r="0.5"/><circle cx="228.7" cy="208.4" r="0.5"/><circle cx="230.4" cy="212.8" r="0.5"/><circle cx="229.0" cy="209.6" r="0.5"/><circle cx="227.6" cy="215.6" r="0.5"/><circle cx="233.2" cy="210.7" r="0.5"/><circle cx="230.3" cy="211.6" r="0.5"/><circle cx="234.3" cy="210.1" r="0.5"/><circle cx="256.9" cy="209.9" r="0.5"/><circle cx="238.4" cy="212.3" r="0.5"/><circle cx="229.7" cy="211.2" r="0.5"/><circle cx="227.8" cy="211.9" r="0.5"/><circle cx="228.5" cy="209.3" r="0.5"/><circle cx="231.3" cy="215.7" r="0.5"/><circle cx="229.6" cy="208.7" r="0.5"/><circle cx="228.6" cy="214.6" r="0.5"/><circle cx="235.9" cy="209.3" r="0.5"/><circle cx="228.2" cy="215.5" r="0.5"/><circle cx="231.4" cy="212.8" r="0.5"/><circle cx="228.0" cy="215.2" r="0.5"/><circle cx="238.8" cy="209.4" r="0.5"/><circle cx="228.1" cy="212.1" r="0.5"/><circle cx="241.4" cy="210.0" r="0.5"/><circle cx="231.7" cy="209.4" r="0.5"/><circle cx="245.8" cy="213.6" r="0.5"/><circle cx="229.7" cy="213.7" r="0.5"/><circle cx="229.4" cy="213.9" r="0.5"/><circle cx="228.3" cy="211.9" r="0.5"/><circle cx="229.1" cy="212.2" r="0.5"/><circle cx="230.1" cy="209.8" r="0.5"/><circle cx="229.9" cy="215.8" r="0.5"/><circle cx="232.4" cy="212.4" r="0.5"/><circle cx="227.6" cy="213.8" r="0.5"/><circle cx="229.5" cy="215.9" r="0.5"/><circle cx="233.1" cy="211.7" r="0.5"/><circle cx="229.0" cy="205.0" r="0.5"/><circle cx="228.3" cy="212.5" r="0.5"/><circle cx="239.5" cy="207.9" r="0.5"/><circle cx="240.1" cy="212.2" r="0.5"/><circle cx="231.0" cy="207.1" r="0.5"/><circle cx="255.8" cy="209.9" r="0.5"/><circle cx="230.4" cy="213.5" r="0.5"/><circle cx="234.6" cy="207.3" r="0.5"/><circle cx="231.1" cy="210.8" r="0.5"/><circle cx="228.5" cy="212.2" r="0.5"/><circle cx="228.0" cy="211.4" r="0.5"/><circle cx="228.7" cy="209.3" r="0.5"/><circle cx="228.1" cy="214.5" r="0.5"/><circle cx="235.3" cy="206.4" r="0.5"/><circle cx="229.8" cy="211.5" r="0.5"/><circle cx="231.8" cy="213.6" r="0.5"/><circle cx="228.7" cy="209.4" r="0.5"/><circle cx="250.4" cy="211.1" r="0.5"/><circle cx="252.7" cy="208.2" r="0.5"/><circle cx="251.1" cy="209.7" r="0.5"/><circle cx="230.1" cy="211.3" r="0.5"/><circle cx="230.9" cy="211.4" r="0.5"/><circle cx="232.0" cy="209.4" r="0.5"/><circle cx="232.4" cy="211.2" r="0.5"/><circle cx="227.5" cy="211.4" r="0.5"/><circle cx="231.1" cy="212.5" r="0.5"/><circle cx="227.8" cy="213.8" r="0.5"/><circle cx="229.4" cy="211.7" r="0.5"/><circle cx="233.7" cy="206.6" r="0.5"/><circle cx="235.0" cy="210.3" r="0.5"/><circle cx="236.3" cy="213.1" r="0.5"/><circle cx="230.3" cy="209.4" r="0.5"/><circle cx="256.8" cy="212.7" r="0.5"/><circle cx="234.7" cy="214.8" r="0.5"/><circle cx="227.8" cy="214.5" r="0.5"/><circle cx="234.4" cy="206.1" r="0.5"/><circle cx="236.8" cy="211.6" r="0.5"/><circle cx="232.7" cy="209.8" r="0.5"/><circle cx="232.4" cy="213.8" r="0.5"/><circle cx="239.8" cy="206.5" r="0.5"/><circle cx="233.6" cy="214.5" r="0.5"/><circle cx="235.8" cy="208.4" r="0.5"/><circle cx="229.3" cy="212.9" r="0.5"/><circle cx="230.6" cy="211.6" r="0.5"/><circle cx="228.3" cy="213.3" r="0.5"/><circle cx="234.4" cy="208.1" r="0.5"/><circle cx="234.4" cy="209.8" r="0.5"/><circle cx="227.5" cy="208.6" r="0.5"/><circle cx="238.7" cy="210.9" r="0.5"/><circle cx="232.9" cy="207.9" r="0.5"/><circle cx="235.0" cy="215.3" r="0.5"/><circle cx="229.5" cy="213.2" r="0.5"/><circle cx="228.0" cy="211.0" r="0.5"/><circle cx="229.1" cy="215.9" r="0.5"/><circle cx="236.9" cy="214.3" r="0.5"/><circle cx="230.9" cy="210.8" r="0.5"/><circle cx="232.1" cy="209.3" r="0.5"/><circle cx="234.2" cy="206.8" r="0.5"/><circle cx="234.7" cy="212.5" r="0.5"/><circle cx="229.6" cy="212.1" r="0.5"/><circle cx="237.0" cy="209.8" r="0.5"/><circle cx="227.6" cy="214.9" r="0.5"/><circle cx="227.9" cy="211.0" r="0.5"/><circle cx="235.7" cy="215.2" r="0.5"/><circle cx="235.4" cy="210.2" r="0.5"/><circle cx="231.9" cy="214.5" r="0.5"/><circle cx="231.9" cy="215.6" r="0.5"/><circle cx="229.1" cy="215.4" r="0.5"/><circle cx="254.3" cy="210.6" r="0.5"/><circle cx="231.8" cy="211.1" r="0.5"/><circle cx="239.5" cy="213.9" r="0.5"/><circle cx="229.7" cy="210.8" r="0.5"/><circle cx="229.1" cy="213.2" r="0.5"/><circle cx="233.6" cy="210.5" r="0.5"/><circle cx="228.6" cy="204.6" r="0.5"/><circle cx="228.5" cy="210.4" r="0.5"/><circle cx="239.5" cy="205.1" r="0.5"/><circle cx="236.0" cy="210.8" r="0.5"/><circle cx="229.3" cy="214.0" r="0.5"/><circle cx="227.7" cy="209.6" r="0.5"/><circle cx="227.5" cy="208.4" r="0.5"/><circle cx="230.0" cy="211.5" r="0.5"/><circle cx="228.6" cy="210.1" r="0.5"/><circle cx="240.3" cy="212.9" r="0.5"/><circle cx="227.5" cy="211.5" r="0.5"/><circle cx="228.4" cy="206.1" r="0.5"/><circle cx="245.8" cy="209.2" r="0.5"/><circle cx="229.9" cy="205.5" r="0.5"/><circle cx="230.8" cy="203.3" r="0.5"/><circle cx="233.7" cy="217.6" r="0.5"/><circle cx="230.6" cy="209.3" r="0.5"/><circle cx="227.8" cy="212.5" r="0.5"/><circle cx="228.3" cy="212.6" r="0.5"/><circle cx="246.7" cy="208.6" r="0.5"/><circle cx="229.5" cy="211.1" r="0.5"/><circle cx="229.0" cy="214.8" r="0.5"/><circle cx="230.8" cy="216.9" r="0.5"/><circle cx="239.2" cy="209.3" r="0.5"/><circle cx="234.5" cy="216.8" r="0.5"/><circle cx="233.1" cy="207.8" r="0.5"/><circle cx="236.4" cy="215.4" r="0.5"/><circle cx="231.7" cy="212.7" r="0.5"/><circle cx="237.3" cy="209.6" r="0.5"/><circle cx="227.9" cy="209.7" r="0.5"/><circle cx="245.8" cy="212.8" r="0.5"/><circle cx="230.4" cy="213.6" r="0.5"/><circle cx="230.0" cy="210.8" r="0.5"/><circle cx="229.6" cy="203.8" r="0.5"/><circle cx="235.0" cy="210.0" r="0.5"/><circle cx="231.0" cy="214.7" r="0.5"/><circle cx="228.8" cy="212.4" r="0.5"/><circle cx="244.0" cy="212.3" r="0.5"/><circle cx="232.3" cy="212.4" r="0.5"/><circle cx="231.7" cy="212.5" r="0.5"/><circle cx="228.2" cy="212.9" r="0.5"/><circle cx="230.4" cy="213.1" r="0.5"/><circle cx="229.6" cy="212.5" r="0.5"/><circle cx="233.4" cy="214.7" r="0.5"/><circle cx="231.2" cy="208.3" r="0.5"/><circle cx="231.2" cy="208.6" r="0.5"/><circle cx="230.4" cy="210.9" r="0.5"/><circle cx="227.9" cy="210.2" r="0.5"/><circle cx="228.4" cy="218.7" r="0.5"/><circle cx="232.4" cy="207.4" r="0.5"/><circle cx="229.2" cy="207.4" r="0.5"/><circle cx="229.7" cy="211.4" r="0.5"/><circle cx="231.6" cy="214.1" r="0.5"/><circle cx="249.0" cy="213.7" r="0.5"/><circle cx="227.7" cy="206.9" r="0.5"/><circle cx="227.7" cy="210.0" r="0.5"/><circle cx="232.0" cy="205.5" r="0.5"/><circle cx="233.7" cy="214.0" r="0.5"/><circle cx="245.8" cy="210.6" r="0.5"/><circle cx="239.7" cy="215.5" r="0.5"/><circle cx="229.5" cy="205.5" r="0.5"/><circle cx="228.3" cy="213.4" r="0.5"/><circle cx="235.5" cy="213.9" r="0.5"/><circle cx="247.4" cy="209.8" r="0.5"/><circle cx="237.6" cy="207.0" r="0.5"/><circle cx="231.8" cy="210.5" r="0.5"/><circle cx="238.2" cy="210.7" r="0.5"/><circle cx="229.4" cy="214.9" r="0.5"/><circle cx="230.0" cy="209.4" r="0.5"/><circle cx="228.5" cy="211.4" r="0.5"/><circle cx="235.9" cy="215.1" r="0.5"/><circle cx="228.3" cy="214.5" r="0.5"/><circle cx="233.6" cy="212.7" r="0.5"/><circle cx="230.9" cy="212.0" r="0.5"/><circle cx="227.6" cy="215.2" r="0.5"/><circle cx="230.0" cy="204.5" r="0.5"/><circle cx="234.7" cy="212.9" r="0.5"/><circle cx="242.6" cy="208.7" r="0.5"/><circle cx="229.5" cy="211.7" r="0.5"/><circle cx="250.1" cy="209.7" r="0.5"/><circle cx="227.7" cy="209.2" r="0.5"/><circle cx="232.3" cy="209.9" r="0.5"/><circle cx="229.6" cy="208.8" r="0.5"/><circle cx="235.2" cy="212.9" r="0.5"/><circle cx="227.7" cy="210.6" r="0.5"/><circle cx="230.4" cy="207.6" r="0.5"/><circle cx="229.0" cy="213.5" r="0.5"/><circle cx="238.7" cy="210.7" r="0.5"/><circle cx="229.1" cy="208.1" r="0.5"/><circle cx="252.0" cy="208.3" r="0.5"/><circle cx="229.3" cy="216.2" r="0.5"/><circle cx="229.3" cy="211.6" r="0.5"/><circle cx="248.7" cy="208.1" r="0.5"/><circle cx="232.3" cy="212.0" r="0.5"/><circle cx="231.3" cy="213.1" r="0.5"/><circle cx="235.2" cy="212.6" r="0.5"/><circle cx="231.0" cy="210.8" r="0.5"/><circle cx="229.2" cy="212.9" r="0.5"/><circle cx="227.9" cy="211.2" r="0.5"/><circle cx="227.9" cy="206.8" r="0.5"/><circle cx="242.6" cy="214.5" r="0.5"/><circle cx="236.7" cy="217.5" r="0.5"/><circle cx="230.3" cy="211.3" r="0.5"/><circle cx="228.9" cy="215.7" r="0.5"/><circle cx="227.7" cy="209.7" r="0.5"/><circle cx="235.1" cy="209.2" r="0.5"/><circle cx="230.3" cy="213.2" r="0.5"/><circle cx="228.8" cy="213.7" r="0.5"/><circle cx="230.5" cy="211.4" r="0.5"/><circle cx="249.3" cy="215.6" r="0.5"/><circle cx="229.1" cy="216.5" r="0.5"/><circle cx="230.6" cy="213.6" r="0.5"/><circle cx="231.5" cy="206.6" r="0.5"/><circle cx="227.9" cy="208.8" r="0.5"/><circle cx="245.1" cy="211.1" r="0.5"/><circle cx="229.0" cy="207.5" r="0.5"/><circle cx="227.7" cy="216.0" r="0.5"/><circle cx="231.2" cy="213.1" r="0.5"/><circle cx="227.8" cy="207.1" r="0.5"/><circle cx="227.7" cy="217.3" r="0.5"/><circle cx="229.6" cy="213.8" r="0.5"/><circle cx="237.1" cy="213.1" r="0.5"/><circle cx="229.7" cy="209.9" r="0.5"/><circle cx="249.6" cy="208.8" r="0.5"/><circle cx="236.3" cy="209.6" r="0.5"/><circle cx="230.2" cy="211.3" r="0.5"/><circle cx="237.4" cy="211.2" r="0.5"/><circle cx="244.9" cy="206.2" r="0.5"/><circle cx="227.7" cy="206.5" r="0.5"/><circle cx="229.4" cy="204.5" r="0.5"/><circle cx="249.0" cy="211.5" r="0.5"/><circle cx="230.9" cy="211.3" r="0.5"/><circle cx="232.3" cy="214.2" r="0.5"/><circle cx="245.9" cy="212.6" r="0.5"/><circle cx="236.9" cy="215.6" r="0.5"/><circle cx="239.6" cy="211.4" r="0.5"/><circle cx="230.3" cy="207.6" r="0.5"/><circle cx="230.2" cy="208.2" r="0.5"/><circle cx="228.1" cy="215.2" r="0.5"/><circle cx="229.0" cy="211.5" r="0.5"/><circle cx="228.0" cy="209.4" r="0.5"/><circle cx="227.7" cy="209.1" r="0.5"/><circle cx="255.0" cy="209.3" r="0.5"/><circle cx="242.5" cy="212.9" r="0.5"/><circle cx="228.1" cy="211.3" r="0.5"/><circle cx="228.2" cy="207.1" r="0.5"/><circle cx="231.6" cy="211.3" r="0.5"/><circle cx="229.4" cy="208.0" r="0.5"/><circle cx="235.3" cy="213.1" r="0.5"/><circle cx="237.1" cy="213.4" r="0.5"/><circle cx="228.4" cy="208.1" r="0.5"/><circle cx="240.4" cy="209.9" r="0.5"/><circle cx="230.8" cy="214.8" r="0.5"/><circle cx="236.9" cy="211.7" r="0.5"/><circle cx="229.5" cy="213.4" r="0.5"/><circle cx="228.7" cy="214.2" r="0.5"/><circle cx="230.3" cy="208.9" r="0.5"/><circle cx="231.0" cy="214.7" r="0.5"/><circle cx="229.3" cy="211.2" r="0.5"/><circle cx="239.1" cy="206.0" r="0.5"/><circle cx="228.3" cy="204.4" r="0.5"/><circle cx="232.0" cy="213.5" r="0.5"/><circle cx="244.7" cy="205.8" r="0.5"/><circle cx="227.8" cy="211.1" r="0.5"/><circle cx="229.0" cy="212.8" r="0.5"/><circle cx="252.8" cy="204.6" r="0.5"/><circle cx="230.8" cy="208.1" r="0.5"/><circle cx="241.6" cy="208.7" r="0.5"/><circle cx="238.0" cy="211.7" r="0.5"/><circle cx="247.9" cy="213.4" r="0.5"/><circle cx="234.3" cy="213.5" r="0.5"/><circle cx="229.2" cy="210.4" r="0.5"/><circle cx="229.1" cy="212.6" r="0.5"/><circle cx="229.6" cy="208.1" r="0.5"/><circle cx="229.1" cy="209.0" r="0.5"/><circle cx="227.6" cy="209.5" r="0.5"/><circle cx="228.9" cy="215.2" r="0.5"/><circle cx="230.1" cy="212.8" r="0.5"/><circle cx="233.1" cy="216.0" r="0.5"/><circle cx="228.0" cy="213.7" r="0.5"/><circle cx="233.1" cy="212.9" r="0.5"/><circle cx="234.6" cy="212.6" r="0.5"/><circle cx="235.8" cy="212.0" r="0.5"/><circle cx="231.2" cy="210.8" r="0.5"/><circle cx="248.9" cy="212.8" r="0.5"/></g>
<g fill="#7878b0" opacity="0.3"><circle cx="236.0" cy="207.4" r="0.5"/><circle cx="238.6" cy="208.8" r="0.5"/><circle cx="233.5" cy="210.2" r="0.5"/><circle cx="250.8" cy="209.3" r="0.5"/><circle cx="238.8" cy="211.4" r="0.5"/><circle cx="239.9" cy="210.2" r="0.5"/><circle cx="242.8" cy="210.2" r="0.5"/><circle cx="246.4" cy="210.7" r="0.5"/><circle cx="245.6" cy="208.8" r="0.5"/><circle cx="237.4" cy="208.3" r="0.5"/><circle cx="235.3" cy="210.1" r="0.5"/><circle cx="241.8" cy="211.2" r="0.5"/><circle cx="240.8" cy="209.2" r="0.5"/><circle cx="256.1" cy="211.0" r="0.5"/><circle cx="232.2" cy="209.9" r="0.5"/><circle cx="230.9" cy="209.9" r="0.5"/><circle cx="245.5" cy="214.1" r="0.5"/><circle cx="257.8" cy="211.8" r="0.5"/><circle cx="234.0" cy="215.0" r="0.5"/><circle cx="238.3" cy="213.4" r="0.5"/><circle cx="233.2" cy="205.4" r="0.5"/><circle cx="233.9" cy="207.1" r="0.5"/><circle cx="237.7" cy="212.3" r="0.5"/><circle cx="232.1" cy="210.5" r="0.5"/><circle cx="230.7" cy="205.5" r="0.5"/><circle cx="230.6" cy="208.4" r="0.5"/><circle cx="242.8" cy="212.7" r="0.5"/><circle cx="245.8" cy="208.4" r="0.5"/><circle cx="244.0" cy="212.8" r="0.5"/><circle cx="238.9" cy="208.1" r="0.5"/><circle cx="239.2" cy="207.0" r="0.5"/><circle cx="230.4" cy="207.8" r="0.5"/><circle cx="234.3" cy="207.7" r="0.5"/><circle cx="253.1" cy="209.8" r="0.5"/><circle cx="233.2" cy="206.8" r="0.5"/><circle cx="240.3" cy="211.2" r="0.5"/><circle cx="239.0" cy="211.0" r="0.5"/><circle cx="231.5" cy="206.8" r="0.5"/><circle cx="230.7" cy="211.8" r="0.5"/><circle cx="246.2" cy="214.1" r="0.5"/><circle cx="254.1" cy="211.6" r="0.5"/><circle cx="241.5" cy="213.4" r="0.5"/><circle cx="237.6" cy="211.3" r="0.5"/><circle cx="251.1" cy="210.1" r="0.5"/><circle cx="240.8" cy="216.7" r="0.5"/><circle cx="232.9" cy="208.4" r="0.5"/><circle cx="254.8" cy="210.1" r="0.5"/><circle cx="236.9" cy="209.6" r="0.5"/><circle cx="252.6" cy="212.8" r="0.5"/><circle cx="235.1" cy="215.9" r="0.5"/><circle cx="257.1" cy="211.2" r="0.5"/><circle cx="233.7" cy="210.0" r="0.5"/><circle cx="236.1" cy="213.9" r="0.5"/><circle cx="230.6" cy="211.2" r="0.5"/><circle cx="248.2" cy="210.9" r="0.5"/><circle cx="254.6" cy="207.8" r="0.5"/><circle cx="232.0" cy="205.9" r="0.5"/><circle cx="237.1" cy="209.2" r="0.5"/><circle cx="231.8" cy="214.9" r="0.5"/><circle cx="238.0" cy="209.8" r="0.5"/><circle cx="255.6" cy="208.1" r="0.5"/><circle cx="243.8" cy="219.4" r="0.5"/><circle cx="237.1" cy="210.4" r="0.5"/><circle cx="233.1" cy="206.9" r="0.5"/><circle cx="251.8" cy="214.8" r="0.5"/><circle cx="234.7" cy="212.0" r="0.5"/><circle cx="246.3" cy="213.7" r="0.5"/><circle cx="247.4" cy="209.0" r="0.5"/><circle cx="236.0" cy="211.0" r="0.5"/><circle cx="232.6" cy="210.4" r="0.5"/><circle cx="245.3" cy="206.1" r="0.5"/><circle cx="232.3" cy="211.0" r="0.5"/><circle cx="230.4" cy="215.1" r="0.5"/><circle cx="230.0" cy="209.6" r="0.5"/><circle cx="237.1" cy="211.3" r="0.5"/><circle cx="234.1" cy="206.6" r="0.5"/><circle cx="233.7" cy="208.1" r="0.5"/><circle cx="245.6" cy="207.9" r="0.5"/><circle cx="234.5" cy="211.1" r="0.5"/><circle cx="246.3" cy="210.7" r="0.5"/><circle cx="234.9" cy="207.0" r="0.5"/><circle cx="230.2" cy="208.0" r="0.5"/><circle cx="236.9" cy="206.8" r="0.5"/><circle cx="246.6" cy="202.4" r="0.5"/><circle cx="251.2" cy="211.8" r="0.5"/><circle cx="234.6" cy="211.0" r="0.5"/><circle cx="242.1" cy="209.2" r="0.5"/><circle cx="238.3" cy="210.1" r="0.5"/><circle cx="254.1" cy="210.2" r="0.5"/><circle cx="230.2" cy="203.3" r="0.5"/><circle cx="232.5" cy="208.0" r="0.5"/><circle cx="233.6" cy="207.3" r="0.5"/><circle cx="246.4" cy="207.1" r="0.5"/><circle cx="256.9" cy="210.1" r="0.5"/><circle cx="235.7" cy="212.6" r="0.5"/><circle cx="230.8" cy="214.7" r="0.5"/><circle cx="250.1" cy="205.7" r="0.5"/><circle cx="230.1" cy="213.5" r="0.5"/><circle cx="240.0" cy="205.5" r="0.5"/><circle cx="251.7" cy="207.0" r="0.5"/><circle cx="231.8" cy="211.1" r="0.5"/><circle cx="234.2" cy="213.1" r="0.5"/><circle cx="252.2" cy="209.9" r="0.5"/><circle cx="249.0" cy="212.2" r="0.5"/><circle cx="234.9" cy="206.0" r="0.5"/><circle cx="242.9" cy="204.5" r="0.5"/><circle cx="241.9" cy="212.0" r="0.5"/><circle cx="234.9" cy="205.0" r="0.5"/><circle cx="233.9" cy="203.8" r="0.5"/><circle cx="234.3" cy="210.5" r="0.5"/><circle cx="251.8" cy="214.2" r="0.5"/><circle cx="236.3" cy="208.3" r="0.5"/><circle cx="245.9" cy="207.9" r="0.5"/><circle cx="240.1" cy="212.5" r="0.5"/><circle cx="239.2" cy="209.3" r="0.5"/><circle cx="235.9" cy="206.0" r="0.5"/><circle cx="233.8" cy="209.3" r="0.5"/><circle cx="232.5" cy="211.8" r="0.5"/><circle cx="236.8" cy="210.6" r="0.5"/><circle cx="230.7" cy="211.1" r="0.5"/><circle cx="248.9" cy="206.1" r="0.5"/><circle cx="251.4" cy="205.5" r="0.5"/><circle cx="231.1" cy="207.9" r="0.5"/><circle cx="257.2" cy="207.2" r="0.5"/><circle cx="257.4" cy="209.8" r="0.5"/><circle cx="233.7" cy="209.8" r="0.5"/><circle cx="231.9" cy="216.4" r="0.5"/><circle cx="256.7" cy="210.2" r="0.5"/><circle cx="246.1" cy="211.6" r="0.5"/><circle cx="235.4" cy="206.1" r="0.5"/><circle cx="231.7" cy="214.8" r="0.5"/><circle cx="233.7" cy="213.4" r="0.5"/><circle cx="236.2" cy="209.5" r="0.5"/><circle cx="234.7" cy="210.5" r="0.5"/><circle cx="235.3" cy="209.5" r="0.5"/><circle cx="236.2" cy="207.1" r="0.5"/><circle cx="245.4" cy="209.4" r="0.5"/><circle cx="230.5" cy="207.5" r="0.5"/><circle cx="253.7" cy="210.9" r="0.5"/><circle cx="236.8" cy="209.0" r="0.5"/><circle cx="233.9" cy="206.4" r="0.5"/><circle cx="233.0" cy="213.5" r="0.5"/><circle cx="230.0" cy="212.1" r="0.5"/><circle cx="230.1" cy="206.8" r="0.5"/><circle cx="255.5" cy="209.2" r="0.5"/><circle cx="233.3" cy="207.4" r="0.5"/><circle cx="258.5" cy="208.9" r="0.5"/><circle cx="234.8" cy="212.7" r="0.5"/><circle cx="233.9" cy="209.4" r="0.5"/><circle cx="249.2" cy="207.8" r="0.5"/><circle cx="246.2" cy="209.5" r="0.5"/><circle cx="231.3" cy="211.6" r="0.5"/><circle cx="254.7" cy="204.2" r="0.5"/><circle cx="245.8" cy="207.6" r="0.5"/><circle cx="238.0" cy="212.6" r="0.5"/><circle cx="230.4" cy="213.9" r="0.5"/><circle cx="233.7" cy="209.7" r="0.5"/><circle cx="241.1" cy="216.7" r="0.5"/><circle cx="237.6" cy="211.8" r="0.5"/><circle cx="239.9" cy="208.4" r="0.5"/><circle cx="242.1" cy="209.9" r="0.5"/><circle cx="246.6" cy="204.2" r="0.5"/><circle cx="236.9" cy="209.2" r="0.5"/><circle cx="247.4" cy="209.4" r="0.5"/><circle cx="239.2" cy="208.0" r="0.5"/><circle cx="253.8" cy="207.6" r="0.5"/><circle cx="239.9" cy="209.1" r="0.5"/><circle cx="235.7" cy="212.2" r="0.5"/><circle cx="249.4" cy="210.4" r="0.5"/><circle cx="232.7" cy="208.8" r="0.5"/><circle cx="234.6" cy="208.4" r="0.5"/><circle cx="232.8" cy="213.8" r="0.5"/><circle cx="236.4" cy="213.4" r="0.5"/><circle cx="250.9" cy="217.3" r="0.5"/><circle cx="231.7" cy="211.8" r="0.5"/><circle cx="237.8" cy="209.7" r="0.5"/><circle cx="239.1" cy="205.0" r="0.5"/><circle cx="233.5" cy="209.3" r="0.5"/><circle cx="233.7" cy="209.1" r="0.5"/><circle cx="237.9" cy="213.2" r="0.5"/><circle cx="255.0" cy="209.7" r="0.5"/><circle cx="248.9" cy="204.8" r="0.5"/><circle cx="240.0" cy="209.9" r="0.5"/><circle cx="232.4" cy="207.8" r="0.5"/><circle cx="251.6" cy="207.2" r="0.5"/><circle cx="252.1" cy="211.0" r="0.5"/><circle cx="238.7" cy="210.7" r="0.5"/><circle cx="253.8" cy="207.1" r="0.5"/><circle cx="248.2" cy="203.5" r="0.5"/><circle cx="246.4" cy="206.9" r="0.5"/><circle cx="245.8" cy="210.3" r="0.5"/><circle cx="231.6" cy="205.5" r="0.5"/><circle cx="250.0" cy="212.0" r="0.5"/><circle cx="245.9" cy="209.5" r="0.5"/><circle cx="239.7" cy="213.3" r="0.5"/><circle cx="245.5" cy="205.5" r="0.5"/><circle cx="233.2" cy="207.2" r="0.5"/><circle cx="237.9" cy="205.4" r="0.5"/><circle cx="240.8" cy="210.7" r="0.5"/><circle cx="242.5" cy="209.6" r="0.5"/><circle cx="232.8" cy="211.8" r="0.5"/><circle cx="241.7" cy="202.3" r="0.5"/><circle cx="231.7" cy="206.8" r="0.5"/><circle cx="250.2" cy="207.5" r="0.5"/><circle cx="241.5" cy="206.0" r="0.5"/><circle cx="241.8" cy="205.2" r="0.5"/><circle cx="238.5" cy="212.1" r="0.5"/><circle cx="248.5" cy="208.7" r="0.5"/><circle cx="238.0" cy="210.2" r="0.5"/><circle cx="237.0" cy="212.5" r="0.5"/><circle cx="238.2" cy="210.9" r="0.5"/><circle cx="230.2" cy="207.6" r="0.5"/><circle cx="249.2" cy="211.0" r="0.5"/><circle cx="236.9" cy="209.9" r="0.5"/><circle cx="251.6" cy="211.5" r="0.5"/><circle cx="255.9" cy="208.6" r="0.5"/><circle cx="238.0" cy="210.4" r="0.5"/><circle cx="254.0" cy="210.7" r="0.5"/><circle cx="256.5" cy="206.5" r="0.5"/><circle cx="243.2" cy="207.0" r="0.5"/><circle cx="234.1" cy="213.2" r="0.5"/><circle cx="246.3" cy="208.9" r="0.5"/><circle cx="257.3" cy="210.3" r="0.5"/><circle cx="235.6" cy="206.9" r="0.5"/><circle cx="242.7" cy="214.0" r="0.5"/><circle cx="237.0" cy="214.4" r="0.5"/><circle cx="234.7" cy="213.3" r="0.5"/><circle cx="238.9" cy="210.1" r="0.5"/><circle cx="250.5" cy="209.5" r="0.5"/><circle cx="235.3" cy="210.3" r="0.5"/><circle cx="240.4" cy="212.6" r="0.5"/><circle cx="239.0" cy="206.9" r="0.5"/><circle cx="237.2" cy="206.5" r="0.5"/><circle cx="258.2" cy="207.9" r="0.5"/><circle cx="258.5" cy="207.1" r="0.5"/><circle cx="246.0" cy="210.0" r="0.5"/><circle cx="247.1" cy="209.5" r="0.5"/><circle cx="232.5" cy="211.8" r="0.5"/><circle cx="234.3" cy="210.7" r="0.5"/><circle cx="232.7" cy="207.4" r="0.5"/><circle cx="245.0" cy="210.5" r="0.5"/><circle cx="254.8" cy="210.1" r="0.5"/><circle cx="248.9" cy="207.6" r="0.5"/><circle cx="242.1" cy="209.6" r="0.5"/><circle cx="243.0" cy="209.5" r="0.5"/><circle cx="232.4" cy="212.7" r="0.5"/><circle cx="240.9" cy="213.2" r="0.5"/><circle cx="232.5" cy="211.6" r="0.5"/><circle cx="240.8" cy="205.9" r="0.5"/><circle cx="230.1" cy="212.4" r="0.5"/><circle cx="243.2" cy="206.7" r="0.5"/><circle cx="247.5" cy="211.1" r="0.5"/><circle cx="238.7" cy="207.4" r="0.5"/><circle cx="246.2" cy="211.6" r="0.5"/><circle cx="230.5" cy="206.7" r="0.5"/><circle cx="236.4" cy="213.9" r="0.5"/><circle cx="240.6" cy="209.4" r="0.5"/><circle cx="245.7" cy="210.6" r="0.5"/><circle cx="236.6" cy="212.1" r="0.5"/><circle cx="240.3" cy="207.5" r="0.5"/><circle cx="241.9" cy="210.1" r="0.5"/><circle cx="239.1" cy="207.8" r="0.5"/><circle cx="238.8" cy="204.3" r="0.5"/><circle cx="235.5" cy="208.2" r="0.5"/><circle cx="258.1" cy="205.7" r="0.5"/><circle cx="235.1" cy="212.3" r="0.5"/><circle cx="241.3" cy="214.4" r="0.5"/><circle cx="255.1" cy="208.3" r="0.5"/><circle cx="236.4" cy="209.0" r="0.5"/><circle cx="244.1" cy="212.1" r="0.5"/><circle cx="246.1" cy="209.7" r="0.5"/><circle cx="250.5" cy="208.4" r="0.5"/><circle cx="235.7" cy="209.9" r="0.5"/><circle cx="230.1" cy="213.2" r="0.5"/><circle cx="245.0" cy="216.3" r="0.5"/><circle cx="247.2" cy="211.2" r="0.5"/><circle cx="245.1" cy="202.8" r="0.5"/><circle cx="245.3" cy="206.1" r="0.5"/><circle cx="244.5" cy="206.1" r="0.5"/><circle cx="248.3" cy="210.5" r="0.5"/><circle cx="239.8" cy="214.5" r="0.5"/><circle cx="253.0" cy="210.7" r="0.5"/><circle cx="230.6" cy="211.7" r="0.5"/><circle cx="253.8" cy="213.1" r="0.5"/><circle cx="237.4" cy="207.7" r="0.5"/><circle cx="257.7" cy="209.8" r="0.5"/><circle cx="234.8" cy="206.2" r="0.5"/><circle cx="235.8" cy="207.7" r="0.5"/><circle cx="239.0" cy="211.3" r="0.5"/><circle cx="246.4" cy="210.5" r="0.5"/><circle cx="243.4" cy="209.3" r="0.5"/><circle cx="230.6" cy="214.7" r="0.5"/><circle cx="243.7" cy="213.6" r="0.5"/><circle cx="237.8" cy="210.2" r="0.5"/><circle cx="244.3" cy="218.0" r="0.5"/><circle cx="240.3" cy="206.4" r="0.5"/><circle cx="238.5" cy="213.7" r="0.5"/><circle cx="233.8" cy="213.0" r="0.5"/></g>
<g filter="url(#bl2)"><path d="M213.2,219.5 C213.5,211 215.5,207 220.5,206.8 C225.5,207 228.5,211 229.2,219.5 Z" fill="#4a58b8" opacity="0.8"/><path d="M215.2,219 C215.5,212 217.5,208.8 220.5,208.8 C223.5,208.8 226,212 226.8,219 Z" fill="#2ea888" opacity="0.9"/><ellipse cx="219.8" cy="214.2" rx="2.5" ry="4.0" fill="#d0e020" opacity="1" transform="rotate(0 219.8 214.2)"/><ellipse cx="220.8" cy="221.5" rx="7.5" ry="3.2" fill="#4a90b8" opacity="0.85" transform="rotate(0 220.8 221.5)"/><ellipse cx="217.5" cy="221.5" rx="3.0" ry="2.2" fill="#50b870" opacity="0.7" transform="rotate(0 217.5 221.5)"/><ellipse cx="224.5" cy="222.0" rx="2.5" ry="2.0" fill="#40a8a0" opacity="0.6" transform="rotate(0 224.5 222.0)"/><ellipse cx="215.8" cy="228.0" rx="1.9" ry="4.8" fill="#a8b060" opacity="0.55" transform="rotate(0 215.8 228.0)"/></g>
<rect x="213.80" y="199.40" width="13.70" height="18.40" fill="none" stroke="#555" stroke-width="0.7"/>
<rect x="213.00" y="217.60" width="7.80" height="15.20" fill="none" stroke="#555" stroke-width="0.7"/>
<rect x="220.80" y="217.60" width="7.40" height="15.20" fill="none" stroke="#555" stroke-width="0.7"/>
<text x="201.00" y="181.65" font-size="6.0" textLength="26.40" lengthAdjust="spacingAndGlyphs" fill="#2a2a2a">EV1-HS-5</text>
<text x="214.00" y="197.33" font-size="6.5" textLength="19.50" lengthAdjust="spacingAndGlyphs" fill="#2a2a2a">S: 45.2</text>
<text x="203.20" y="239.33" font-size="6.5" textLength="23.70" lengthAdjust="spacingAndGlyphs" fill="#2a2a2a">G1: 28.3</text>
<text x="229.20" y="233.63" font-size="6.5" textLength="28.80" lengthAdjust="spacingAndGlyphs" fill="#2a2a2a">G2M: 14.5</text>
<text x="194.90" y="194.43" font-size="6.8" text-anchor="end" fill="#333">10<tspan font-size="4" dy="-2.2">5</tspan></text>
<text x="194.90" y="207.43" font-size="6.8" text-anchor="end" fill="#333">10<tspan font-size="4" dy="-2.2">4</tspan></text>
<text x="194.90" y="224.43" font-size="6.8" text-anchor="end" fill="#333">10<tspan font-size="4" dy="-2.2">3</tspan></text>
<text x="194.90" y="234.03" font-size="6.8" text-anchor="end" fill="#333">0</text>
<text x="194.90" y="243.93" font-size="6.8" text-anchor="end" fill="#333">−10<tspan font-size="4" dy="-2.2">3</tspan></text>
<line x1="199.70" y1="190.50" x2="199.70" y2="194.50" stroke="#222" stroke-width="1.2"/>
<line x1="199.70" y1="203.50" x2="199.70" y2="207.50" stroke="#222" stroke-width="1.2"/>
<line x1="199.70" y1="217.50" x2="199.70" y2="223.50" stroke="#222" stroke-width="1.2"/>
<line x1="199.70" y1="236.50" x2="199.70" y2="243.50" stroke="#222" stroke-width="1.2"/>
<line x1="198.50" y1="192.00" x2="200.70" y2="192.00" stroke="#222" stroke-width="0.9"/>
<line x1="198.50" y1="205.00" x2="200.70" y2="205.00" stroke="#222" stroke-width="0.9"/>
<line x1="198.50" y1="222.00" x2="200.70" y2="222.00" stroke="#222" stroke-width="0.9"/>
<line x1="198.50" y1="241.50" x2="200.70" y2="241.50" stroke="#222" stroke-width="0.9"/>
<rect x="198.10" y="229.60" width="2.60" height="4.00" fill="#000"/>
<line x1="208.70" y1="245.00" x2="208.70" y2="247.20" stroke="#333" stroke-width="0.7"/>
<line x1="212.80" y1="245.00" x2="212.80" y2="246.40" stroke="#333" stroke-width="0.7"/>
<line x1="216.90" y1="245.00" x2="216.90" y2="246.40" stroke="#333" stroke-width="0.7"/>
<line x1="221.00" y1="245.00" x2="221.00" y2="246.40" stroke="#333" stroke-width="0.7"/>
<line x1="225.10" y1="245.00" x2="225.10" y2="246.40" stroke="#333" stroke-width="0.7"/>
<line x1="229.20" y1="245.00" x2="229.20" y2="246.40" stroke="#333" stroke-width="0.7"/>
<line x1="233.30" y1="245.00" x2="233.30" y2="247.20" stroke="#333" stroke-width="0.7"/>
<line x1="237.40" y1="245.00" x2="237.40" y2="246.40" stroke="#333" stroke-width="0.7"/>
<line x1="241.50" y1="245.00" x2="241.50" y2="246.40" stroke="#333" stroke-width="0.7"/>
<line x1="245.60" y1="245.00" x2="245.60" y2="246.40" stroke="#333" stroke-width="0.7"/>
<line x1="249.70" y1="245.00" x2="249.70" y2="246.40" stroke="#333" stroke-width="0.7"/>
<line x1="253.80" y1="245.00" x2="253.80" y2="246.40" stroke="#333" stroke-width="0.7"/>
<line x1="257.90" y1="245.00" x2="257.90" y2="247.20" stroke="#333" stroke-width="0.7"/>
<text x="209.00" y="257.26" font-size="6.3" text-anchor="middle" fill="#333">0</text>
<text x="233.70" y="257.26" font-size="6.3" text-anchor="middle" fill="#333">2.0K</text>
<text x="258.20" y="257.26" font-size="6.3" text-anchor="middle" fill="#333">4.0K</text>
<rect x="283.70" y="185.80" width="59.0" height="59.2" fill="#fff" stroke="#7a7a7a" stroke-width="0.9"/>
<g fill="#808094" opacity="0.32"><circle cx="311.5" cy="213.4" r="0.5"/><circle cx="320.4" cy="211.8" r="0.5"/><circle cx="311.2" cy="215.2" r="0.5"/><circle cx="328.3" cy="210.3" r="0.5"/><circle cx="311.2" cy="221.6" r="0.5"/><circle cx="312.5" cy="213.7" r="0.5"/><circle cx="321.9" cy="212.2" r="0.5"/><circle cx="323.4" cy="213.0" r="0.5"/><circle cx="321.3" cy="217.1" r="0.5"/><circle cx="310.8" cy="205.9" r="0.5"/><circle cx="318.9" cy="210.4" r="0.5"/><circle cx="334.2" cy="204.2" r="0.5"/><circle cx="312.6" cy="221.2" r="0.5"/><circle cx="310.1" cy="211.0" r="0.5"/><circle cx="310.1" cy="207.1" r="0.5"/><circle cx="310.7" cy="204.7" r="0.5"/><circle cx="313.4" cy="212.2" r="0.5"/><circle cx="327.8" cy="207.6" r="0.5"/><circle cx="316.0" cy="217.2" r="0.5"/><circle cx="317.7" cy="214.0" r="0.5"/><circle cx="315.2" cy="211.0" r="0.5"/><circle cx="324.4" cy="208.5" r="0.5"/><circle cx="314.1" cy="207.8" r="0.5"/><circle cx="314.9" cy="206.3" r="0.5"/><circle cx="314.4" cy="215.5" r="0.5"/><circle cx="323.8" cy="198.4" r="0.5"/><circle cx="317.5" cy="211.6" r="0.5"/><circle cx="320.9" cy="214.0" r="0.5"/><circle cx="318.4" cy="207.6" r="0.5"/><circle cx="313.3" cy="206.1" r="0.5"/><circle cx="315.0" cy="216.5" r="0.5"/><circle cx="320.4" cy="208.3" r="0.5"/><circle cx="318.3" cy="219.9" r="0.5"/><circle cx="313.0" cy="206.6" r="0.5"/><circle cx="310.0" cy="212.5" r="0.5"/><circle cx="318.0" cy="217.8" r="0.5"/><circle cx="325.2" cy="212.4" r="0.5"/><circle cx="326.1" cy="210.0" r="0.5"/><circle cx="325.0" cy="216.0" r="0.5"/><circle cx="312.9" cy="207.3" r="0.5"/><circle cx="327.1" cy="213.9" r="0.5"/><circle cx="332.1" cy="202.5" r="0.5"/><circle cx="313.8" cy="218.6" r="0.5"/><circle cx="324.4" cy="214.8" r="0.5"/><circle cx="312.0" cy="212.8" r="0.5"/><circle cx="312.4" cy="200.0" r="0.5"/><circle cx="318.4" cy="209.3" r="0.5"/><circle cx="312.1" cy="207.2" r="0.5"/><circle cx="312.6" cy="212.8" r="0.5"/><circle cx="315.5" cy="202.6" r="0.5"/><circle cx="310.8" cy="216.2" r="0.5"/><circle cx="312.4" cy="203.8" r="0.5"/><circle cx="317.8" cy="221.2" r="0.5"/><circle cx="316.6" cy="205.3" r="0.5"/><circle cx="315.8" cy="209.3" r="0.5"/><circle cx="311.9" cy="210.9" r="0.5"/><circle cx="311.8" cy="211.2" r="0.5"/><circle cx="317.5" cy="207.1" r="0.5"/><circle cx="314.6" cy="209.3" r="0.5"/><circle cx="310.4" cy="212.6" r="0.5"/><circle cx="319.0" cy="213.8" r="0.5"/><circle cx="323.9" cy="215.5" r="0.5"/><circle cx="313.8" cy="218.7" r="0.5"/><circle cx="316.6" cy="213.6" r="0.5"/><circle cx="328.1" cy="203.7" r="0.5"/><circle cx="312.7" cy="213.3" r="0.5"/><circle cx="323.6" cy="199.5" r="0.5"/><circle cx="323.1" cy="217.4" r="0.5"/><circle cx="325.4" cy="215.3" r="0.5"/><circle cx="310.3" cy="212.0" r="0.5"/><circle cx="312.0" cy="213.7" r="0.5"/><circle cx="310.5" cy="215.0" r="0.5"/><circle cx="317.3" cy="216.3" r="0.5"/><circle cx="336.5" cy="205.4" r="0.5"/><circle cx="331.7" cy="217.2" r="0.5"/><circle cx="314.6" cy="215.4" r="0.5"/><circle cx="311.1" cy="217.0" r="0.5"/><circle cx="317.5" cy="211.0" r="0.5"/><circle cx="319.2" cy="219.8" r="0.5"/><circle cx="314.5" cy="210.2" r="0.5"/><circle cx="315.4" cy="220.0" r="0.5"/><circle cx="312.3" cy="216.8" r="0.5"/><circle cx="313.9" cy="213.5" r="0.5"/><circle cx="331.0" cy="219.1" r="0.5"/><circle cx="310.4" cy="207.0" r="0.5"/><circle cx="323.9" cy="209.3" r="0.5"/><circle cx="310.5" cy="218.6" r="0.5"/><circle cx="335.2" cy="217.3" r="0.5"/><circle cx="320.2" cy="209.6" r="0.5"/><circle cx="322.8" cy="218.5" r="0.5"/><circle cx="311.0" cy="211.0" r="0.5"/><circle cx="311.2" cy="216.6" r="0.5"/><circle cx="315.9" cy="214.3" r="0.5"/><circle cx="311.4" cy="216.4" r="0.5"/><circle cx="320.2" cy="220.5" r="0.5"/><circle cx="312.0" cy="213.5" r="0.5"/><circle cx="310.3" cy="216.4" r="0.5"/><circle cx="334.5" cy="208.4" r="0.5"/><circle cx="328.1" cy="213.1" r="0.5"/><circle cx="315.3" cy="210.4" r="0.5"/><circle cx="310.9" cy="222.4" r="0.5"/><circle cx="318.9" cy="207.4" r="0.5"/><circle cx="315.4" cy="206.9" r="0.5"/><circle cx="315.8" cy="220.9" r="0.5"/><circle cx="318.9" cy="214.4" r="0.5"/><circle cx="310.5" cy="216.0" r="0.5"/><circle cx="321.3" cy="208.7" r="0.5"/><circle cx="328.4" cy="209.8" r="0.5"/><circle cx="312.8" cy="209.9" r="0.5"/><circle cx="312.8" cy="214.3" r="0.5"/><circle cx="326.5" cy="209.3" r="0.5"/><circle cx="316.1" cy="215.1" r="0.5"/><circle cx="313.4" cy="214.8" r="0.5"/><circle cx="310.5" cy="219.4" r="0.5"/><circle cx="312.1" cy="207.7" r="0.5"/><circle cx="315.8" cy="211.3" r="0.5"/><circle cx="312.0" cy="216.9" r="0.5"/><circle cx="314.1" cy="231.9" r="0.5"/><circle cx="333.3" cy="209.1" r="0.5"/><circle cx="310.9" cy="210.0" r="0.5"/><circle cx="310.5" cy="224.3" r="0.5"/><circle cx="321.7" cy="207.5" r="0.5"/><circle cx="310.1" cy="227.7" r="0.5"/><circle cx="324.8" cy="209.6" r="0.5"/><circle cx="310.0" cy="215.5" r="0.5"/><circle cx="326.1" cy="207.6" r="0.5"/><circle cx="315.1" cy="211.8" r="0.5"/><circle cx="331.9" cy="211.8" r="0.5"/><circle cx="311.3" cy="219.9" r="0.5"/><circle cx="311.8" cy="213.9" r="0.5"/><circle cx="312.0" cy="204.2" r="0.5"/><circle cx="310.7" cy="219.3" r="0.5"/><circle cx="316.2" cy="216.2" r="0.5"/><circle cx="312.9" cy="214.7" r="0.5"/><circle cx="321.1" cy="219.0" r="0.5"/><circle cx="325.0" cy="208.0" r="0.5"/><circle cx="310.6" cy="211.1" r="0.5"/><circle cx="321.9" cy="204.2" r="0.5"/><circle cx="310.5" cy="217.7" r="0.5"/><circle cx="325.0" cy="205.8" r="0.5"/><circle cx="328.0" cy="219.9" r="0.5"/><circle cx="316.1" cy="224.3" r="0.5"/><circle cx="315.8" cy="213.5" r="0.5"/><circle cx="328.5" cy="210.4" r="0.5"/><circle cx="326.0" cy="214.6" r="0.5"/><circle cx="314.1" cy="215.2" r="0.5"/><circle cx="318.1" cy="216.6" r="0.5"/><circle cx="310.0" cy="207.1" r="0.5"/><circle cx="316.5" cy="211.5" r="0.5"/><circle cx="311.2" cy="210.6" r="0.5"/><circle cx="328.1" cy="201.0" r="0.5"/><circle cx="313.5" cy="211.3" r="0.5"/><circle cx="322.5" cy="206.3" r="0.5"/><circle cx="310.6" cy="222.5" r="0.5"/><circle cx="316.1" cy="202.5" r="0.5"/><circle cx="316.5" cy="205.5" r="0.5"/><circle cx="310.2" cy="211.7" r="0.5"/><circle cx="340.8" cy="209.9" r="0.5"/><circle cx="311.0" cy="216.3" r="0.5"/><circle cx="312.6" cy="213.2" r="0.5"/><circle cx="310.9" cy="211.7" r="0.5"/><circle cx="320.8" cy="212.1" r="0.5"/><circle cx="318.2" cy="213.0" r="0.5"/><circle cx="317.7" cy="203.6" r="0.5"/><circle cx="311.0" cy="211.7" r="0.5"/><circle cx="328.3" cy="210.5" r="0.5"/><circle cx="311.2" cy="211.2" r="0.5"/><circle cx="316.1" cy="207.8" r="0.5"/><circle cx="311.2" cy="212.8" r="0.5"/><circle cx="314.7" cy="217.2" r="0.5"/><circle cx="327.8" cy="216.5" r="0.5"/><circle cx="311.4" cy="204.7" r="0.5"/><circle cx="311.6" cy="208.8" r="0.5"/><circle cx="325.7" cy="216.2" r="0.5"/><circle cx="314.9" cy="210.3" r="0.5"/><circle cx="326.5" cy="205.6" r="0.5"/><circle cx="335.5" cy="209.1" r="0.5"/><circle cx="323.5" cy="209.2" r="0.5"/><circle cx="313.7" cy="216.0" r="0.5"/><circle cx="315.1" cy="222.2" r="0.5"/><circle cx="332.0" cy="209.2" r="0.5"/><circle cx="325.2" cy="212.2" r="0.5"/><circle cx="316.6" cy="210.7" r="0.5"/><circle cx="338.5" cy="213.4" r="0.5"/><circle cx="314.9" cy="210.7" r="0.5"/><circle cx="319.0" cy="207.5" r="0.5"/><circle cx="310.6" cy="218.0" r="0.5"/><circle cx="315.1" cy="211.3" r="0.5"/><circle cx="311.4" cy="212.8" r="0.5"/><circle cx="341.5" cy="211.4" r="0.5"/><circle cx="319.0" cy="199.2" r="0.5"/><circle cx="324.9" cy="219.8" r="0.5"/><circle cx="310.3" cy="205.4" r="0.5"/><circle cx="319.2" cy="211.1" r="0.5"/><circle cx="312.9" cy="220.9" r="0.5"/><circle cx="317.0" cy="219.0" r="0.5"/><circle cx="312.6" cy="209.2" r="0.5"/><circle cx="316.6" cy="199.9" r="0.5"/><circle cx="313.1" cy="218.1" r="0.5"/><circle cx="313.3" cy="210.9" r="0.5"/><circle cx="318.1" cy="209.8" r="0.5"/><circle cx="338.1" cy="205.3" r="0.5"/><circle cx="315.7" cy="211.9" r="0.5"/><circle cx="316.9" cy="213.9" r="0.5"/><circle cx="311.3" cy="215.1" r="0.5"/><circle cx="313.1" cy="208.8" r="0.5"/><circle cx="312.5" cy="215.2" r="0.5"/><circle cx="310.8" cy="202.8" r="0.5"/><circle cx="318.5" cy="209.0" r="0.5"/><circle cx="317.6" cy="209.9" r="0.5"/><circle cx="321.2" cy="208.7" r="0.5"/><circle cx="315.6" cy="205.1" r="0.5"/><circle cx="315.7" cy="210.1" r="0.5"/><circle cx="313.3" cy="212.8" r="0.5"/><circle cx="316.5" cy="216.1" r="0.5"/><circle cx="314.3" cy="211.7" r="0.5"/><circle cx="313.9" cy="212.1" r="0.5"/><circle cx="327.8" cy="211.4" r="0.5"/><circle cx="316.1" cy="219.3" r="0.5"/><circle cx="313.0" cy="217.2" r="0.5"/><circle cx="323.3" cy="211.0" r="0.5"/><circle cx="311.6" cy="223.0" r="0.5"/><circle cx="315.2" cy="216.9" r="0.5"/><circle cx="310.6" cy="208.4" r="0.5"/><circle cx="322.0" cy="215.4" r="0.5"/><circle cx="311.0" cy="215.0" r="0.5"/><circle cx="322.1" cy="225.3" r="0.5"/><circle cx="311.5" cy="210.2" r="0.5"/><circle cx="320.1" cy="216.2" r="0.5"/><circle cx="318.6" cy="218.0" r="0.5"/><circle cx="316.6" cy="204.0" r="0.5"/><circle cx="322.1" cy="211.2" r="0.5"/><circle cx="315.8" cy="203.0" r="0.5"/><circle cx="323.8" cy="208.2" r="0.5"/><circle cx="311.2" cy="201.1" r="0.5"/><circle cx="328.4" cy="220.2" r="0.5"/><circle cx="317.9" cy="212.3" r="0.5"/><circle cx="316.2" cy="219.2" r="0.5"/><circle cx="314.9" cy="210.8" r="0.5"/><circle cx="323.8" cy="216.6" r="0.5"/><circle cx="314.3" cy="207.1" r="0.5"/><circle cx="315.4" cy="203.8" r="0.5"/><circle cx="313.1" cy="214.9" r="0.5"/><circle cx="314.5" cy="207.4" r="0.5"/><circle cx="313.5" cy="210.7" r="0.5"/><circle cx="323.9" cy="215.1" r="0.5"/><circle cx="315.3" cy="207.1" r="0.5"/><circle cx="311.8" cy="211.8" r="0.5"/><circle cx="317.7" cy="215.0" r="0.5"/><circle cx="317.8" cy="222.6" r="0.5"/><circle cx="313.5" cy="219.1" r="0.5"/><circle cx="326.7" cy="218.3" r="0.5"/><circle cx="312.1" cy="200.9" r="0.5"/><circle cx="315.0" cy="213.1" r="0.5"/><circle cx="310.4" cy="212.5" r="0.5"/><circle cx="317.5" cy="199.7" r="0.5"/><circle cx="323.4" cy="211.6" r="0.5"/><circle cx="317.0" cy="218.8" r="0.5"/><circle cx="316.6" cy="212.1" r="0.5"/><circle cx="320.4" cy="207.8" r="0.5"/><circle cx="318.1" cy="215.3" r="0.5"/><circle cx="313.9" cy="220.4" r="0.5"/><circle cx="316.7" cy="209.5" r="0.5"/><circle cx="310.9" cy="209.0" r="0.5"/><circle cx="317.4" cy="216.1" r="0.5"/><circle cx="317.7" cy="222.4" r="0.5"/><circle cx="316.0" cy="202.5" r="0.5"/><circle cx="315.2" cy="199.4" r="0.5"/><circle cx="313.8" cy="199.6" r="0.5"/><circle cx="316.8" cy="213.5" r="0.5"/><circle cx="313.4" cy="209.5" r="0.5"/><circle cx="311.1" cy="207.0" r="0.5"/><circle cx="330.2" cy="206.8" r="0.5"/><circle cx="329.7" cy="207.8" r="0.5"/><circle cx="313.1" cy="214.2" r="0.5"/><circle cx="316.4" cy="208.7" r="0.5"/><circle cx="311.8" cy="212.7" r="0.5"/><circle cx="319.0" cy="207.8" r="0.5"/><circle cx="319.1" cy="217.4" r="0.5"/><circle cx="323.9" cy="212.8" r="0.5"/><circle cx="313.3" cy="212.4" r="0.5"/><circle cx="313.3" cy="212.2" r="0.5"/><circle cx="326.6" cy="204.0" r="0.5"/><circle cx="312.0" cy="208.6" r="0.5"/><circle cx="316.2" cy="208.2" r="0.5"/><circle cx="319.4" cy="210.5" r="0.5"/><circle cx="316.8" cy="219.4" r="0.5"/><circle cx="314.8" cy="212.3" r="0.5"/><circle cx="311.2" cy="218.0" r="0.5"/><circle cx="311.0" cy="220.6" r="0.5"/><circle cx="310.9" cy="216.1" r="0.5"/><circle cx="325.6" cy="217.0" r="0.5"/><circle cx="318.5" cy="212.7" r="0.5"/><circle cx="310.1" cy="211.1" r="0.5"/><circle cx="323.2" cy="207.6" r="0.5"/><circle cx="313.9" cy="220.4" r="0.5"/><circle cx="311.7" cy="212.5" r="0.5"/><circle cx="331.1" cy="213.0" r="0.5"/><circle cx="317.9" cy="208.6" r="0.5"/><circle cx="314.4" cy="217.4" r="0.5"/><circle cx="310.5" cy="218.6" r="0.5"/><circle cx="338.9" cy="204.9" r="0.5"/><circle cx="315.2" cy="209.3" r="0.5"/><circle cx="310.4" cy="210.1" r="0.5"/><circle cx="334.0" cy="213.0" r="0.5"/><circle cx="330.6" cy="206.7" r="0.5"/><circle cx="325.2" cy="208.7" r="0.5"/><circle cx="339.0" cy="216.6" r="0.5"/><circle cx="316.2" cy="216.2" r="0.5"/><circle cx="314.4" cy="211.2" r="0.5"/><circle cx="321.4" cy="212.5" r="0.5"/><circle cx="328.7" cy="215.4" r="0.5"/><circle cx="316.0" cy="213.4" r="0.5"/><circle cx="311.7" cy="208.8" r="0.5"/><circle cx="314.0" cy="218.2" r="0.5"/><circle cx="313.1" cy="226.2" r="0.5"/><circle cx="317.4" cy="217.2" r="0.5"/><circle cx="314.4" cy="217.0" r="0.5"/><circle cx="314.6" cy="215.0" r="0.5"/><circle cx="325.7" cy="212.2" r="0.5"/><circle cx="313.9" cy="212.6" r="0.5"/><circle cx="313.0" cy="216.2" r="0.5"/><circle cx="312.4" cy="220.6" r="0.5"/><circle cx="313.8" cy="214.3" r="0.5"/><circle cx="311.5" cy="212.2" r="0.5"/><circle cx="312.8" cy="210.3" r="0.5"/><circle cx="326.2" cy="215.2" r="0.5"/><circle cx="326.3" cy="215.3" r="0.5"/><circle cx="324.7" cy="214.0" r="0.5"/><circle cx="321.5" cy="215.9" r="0.5"/><circle cx="314.3" cy="216.1" r="0.5"/><circle cx="337.1" cy="208.8" r="0.5"/><circle cx="316.3" cy="213.1" r="0.5"/><circle cx="311.3" cy="218.8" r="0.5"/><circle cx="321.0" cy="210.9" r="0.5"/><circle cx="318.0" cy="223.8" r="0.5"/><circle cx="314.1" cy="212.7" r="0.5"/><circle cx="312.2" cy="220.3" r="0.5"/><circle cx="328.5" cy="215.5" r="0.5"/><circle cx="317.0" cy="216.8" r="0.5"/><circle cx="312.8" cy="213.4" r="0.5"/><circle cx="319.6" cy="206.5" r="0.5"/><circle cx="317.5" cy="210.1" r="0.5"/><circle cx="310.8" cy="218.0" r="0.5"/><circle cx="311.8" cy="215.7" r="0.5"/><circle cx="319.8" cy="207.9" r="0.5"/><circle cx="311.0" cy="208.1" r="0.5"/><circle cx="316.2" cy="210.3" r="0.5"/><circle cx="313.2" cy="217.0" r="0.5"/><circle cx="312.3" cy="214.6" r="0.5"/><circle cx="311.2" cy="211.9" r="0.5"/><circle cx="314.6" cy="208.1" r="0.5"/><circle cx="331.6" cy="212.2" r="0.5"/><circle cx="327.8" cy="199.6" r="0.5"/><circle cx="311.3" cy="212.6" r="0.5"/><circle cx="320.2" cy="213.1" r="0.5"/><circle cx="319.8" cy="208.4" r="0.5"/><circle cx="319.7" cy="216.4" r="0.5"/><circle cx="320.8" cy="211.8" r="0.5"/><circle cx="313.9" cy="223.2" r="0.5"/><circle cx="318.9" cy="213.1" r="0.5"/><circle cx="331.9" cy="212.8" r="0.5"/><circle cx="321.9" cy="211.2" r="0.5"/><circle cx="310.4" cy="211.4" r="0.5"/><circle cx="311.6" cy="214.3" r="0.5"/><circle cx="314.3" cy="216.9" r="0.5"/><circle cx="310.4" cy="210.0" r="0.5"/><circle cx="311.8" cy="220.1" r="0.5"/><circle cx="326.5" cy="203.1" r="0.5"/><circle cx="312.6" cy="209.0" r="0.5"/><circle cx="315.1" cy="210.3" r="0.5"/><circle cx="310.0" cy="208.3" r="0.5"/><circle cx="326.2" cy="211.8" r="0.5"/><circle cx="310.4" cy="208.5" r="0.5"/><circle cx="327.3" cy="209.6" r="0.5"/><circle cx="312.5" cy="211.6" r="0.5"/><circle cx="311.1" cy="213.8" r="0.5"/><circle cx="332.1" cy="206.7" r="0.5"/><circle cx="322.5" cy="218.8" r="0.5"/><circle cx="314.5" cy="216.8" r="0.5"/><circle cx="322.4" cy="213.6" r="0.5"/><circle cx="310.8" cy="209.0" r="0.5"/><circle cx="336.3" cy="198.6" r="0.5"/><circle cx="320.6" cy="217.6" r="0.5"/><circle cx="322.1" cy="215.3" r="0.5"/><circle cx="315.4" cy="205.6" r="0.5"/><circle cx="310.5" cy="211.1" r="0.5"/><circle cx="316.5" cy="206.7" r="0.5"/><circle cx="333.7" cy="216.6" r="0.5"/><circle cx="310.4" cy="219.6" r="0.5"/><circle cx="320.9" cy="213.2" r="0.5"/><circle cx="317.1" cy="208.1" r="0.5"/><circle cx="341.4" cy="204.8" r="0.5"/><circle cx="312.6" cy="207.4" r="0.5"/><circle cx="310.6" cy="209.4" r="0.5"/><circle cx="312.0" cy="217.2" r="0.5"/><circle cx="313.3" cy="218.2" r="0.5"/><circle cx="320.0" cy="218.3" r="0.5"/><circle cx="312.4" cy="213.1" r="0.5"/><circle cx="315.3" cy="219.0" r="0.5"/><circle cx="334.7" cy="207.3" r="0.5"/><circle cx="329.4" cy="214.4" r="0.5"/><circle cx="311.4" cy="208.3" r="0.5"/><circle cx="325.2" cy="209.3" r="0.5"/><circle cx="317.2" cy="212.4" r="0.5"/><circle cx="319.9" cy="208.5" r="0.5"/><circle cx="318.2" cy="202.9" r="0.5"/><circle cx="326.0" cy="213.3" r="0.5"/><circle cx="311.1" cy="211.6" r="0.5"/><circle cx="312.1" cy="217.8" r="0.5"/><circle cx="310.6" cy="212.2" r="0.5"/><circle cx="320.9" cy="215.3" r="0.5"/><circle cx="315.3" cy="216.1" r="0.5"/><circle cx="315.7" cy="215.5" r="0.5"/><circle cx="314.1" cy="213.6" r="0.5"/><circle cx="310.1" cy="214.8" r="0.5"/><circle cx="321.4" cy="209.3" r="0.5"/><circle cx="316.0" cy="211.2" r="0.5"/><circle cx="315.1" cy="214.9" r="0.5"/><circle cx="310.1" cy="219.4" r="0.5"/><circle cx="332.7" cy="205.5" r="0.5"/><circle cx="334.6" cy="203.9" r="0.5"/><circle cx="319.5" cy="211.8" r="0.5"/><circle cx="311.3" cy="217.0" r="0.5"/><circle cx="310.3" cy="214.6" r="0.5"/><circle cx="313.2" cy="202.2" r="0.5"/><circle cx="311.8" cy="205.9" r="0.5"/><circle cx="333.5" cy="202.1" r="0.5"/><circle cx="311.7" cy="215.0" r="0.5"/><circle cx="322.2" cy="201.4" r="0.5"/><circle cx="313.6" cy="216.7" r="0.5"/><circle cx="313.5" cy="222.0" r="0.5"/><circle cx="314.1" cy="207.5" r="0.5"/><circle cx="326.0" cy="209.4" r="0.5"/><circle cx="312.5" cy="219.6" r="0.5"/><circle cx="318.9" cy="213.8" r="0.5"/><circle cx="325.4" cy="207.9" r="0.5"/><circle cx="336.1" cy="198.4" r="0.5"/><circle cx="316.1" cy="209.0" r="0.5"/><circle cx="313.2" cy="212.6" r="0.5"/><circle cx="317.8" cy="219.4" r="0.5"/><circle cx="311.6" cy="216.9" r="0.5"/><circle cx="315.3" cy="214.7" r="0.5"/><circle cx="310.4" cy="212.5" r="0.5"/><circle cx="315.2" cy="215.6" r="0.5"/><circle cx="310.0" cy="221.2" r="0.5"/><circle cx="326.5" cy="217.0" r="0.5"/><circle cx="315.0" cy="204.8" r="0.5"/><circle cx="313.0" cy="209.2" r="0.5"/><circle cx="314.9" cy="206.8" r="0.5"/><circle cx="313.7" cy="205.0" r="0.5"/><circle cx="325.7" cy="214.2" r="0.5"/><circle cx="331.1" cy="212.8" r="0.5"/><circle cx="315.3" cy="216.3" r="0.5"/><circle cx="317.5" cy="210.0" r="0.5"/><circle cx="310.8" cy="215.9" r="0.5"/><circle cx="313.5" cy="198.4" r="0.5"/><circle cx="331.5" cy="214.0" r="0.5"/><circle cx="328.1" cy="224.7" r="0.5"/><circle cx="318.7" cy="209.7" r="0.5"/><circle cx="325.0" cy="218.9" r="0.5"/><circle cx="318.5" cy="215.0" r="0.5"/><circle cx="313.2" cy="200.4" r="0.5"/><circle cx="315.9" cy="206.4" r="0.5"/><circle cx="319.4" cy="210.3" r="0.5"/><circle cx="329.5" cy="215.5" r="0.5"/><circle cx="310.3" cy="216.1" r="0.5"/><circle cx="315.3" cy="220.0" r="0.5"/><circle cx="310.8" cy="210.1" r="0.5"/><circle cx="317.8" cy="207.6" r="0.5"/><circle cx="314.8" cy="205.4" r="0.5"/><circle cx="314.5" cy="211.1" r="0.5"/><circle cx="311.1" cy="217.8" r="0.5"/><circle cx="317.1" cy="222.6" r="0.5"/><circle cx="311.1" cy="215.6" r="0.5"/><circle cx="310.9" cy="209.7" r="0.5"/><circle cx="316.8" cy="212.1" r="0.5"/><circle cx="317.3" cy="218.5" r="0.5"/><circle cx="312.3" cy="210.3" r="0.5"/><circle cx="316.5" cy="211.0" r="0.5"/><circle cx="318.0" cy="217.0" r="0.5"/><circle cx="310.7" cy="215.6" r="0.5"/><circle cx="315.2" cy="216.9" r="0.5"/><circle cx="321.3" cy="206.4" r="0.5"/><circle cx="322.7" cy="224.1" r="0.5"/><circle cx="321.5" cy="222.7" r="0.5"/><circle cx="311.0" cy="215.5" r="0.5"/><circle cx="311.7" cy="208.0" r="0.5"/></g>
<g fill="#9090a4" opacity="0.3"><circle cx="314.6" cy="206.4" r="0.5"/><circle cx="338.9" cy="210.7" r="0.5"/><circle cx="320.4" cy="210.5" r="0.5"/><circle cx="312.3" cy="207.1" r="0.5"/><circle cx="318.4" cy="207.4" r="0.5"/><circle cx="334.1" cy="198.4" r="0.5"/><circle cx="329.5" cy="213.0" r="0.5"/><circle cx="315.3" cy="209.5" r="0.5"/><circle cx="338.0" cy="202.8" r="0.5"/><circle cx="332.5" cy="209.1" r="0.5"/><circle cx="320.4" cy="206.9" r="0.5"/><circle cx="336.1" cy="215.2" r="0.5"/><circle cx="312.8" cy="207.4" r="0.5"/><circle cx="328.7" cy="213.4" r="0.5"/><circle cx="341.2" cy="210.8" r="0.5"/><circle cx="314.2" cy="216.5" r="0.5"/><circle cx="317.3" cy="206.1" r="0.5"/><circle cx="315.9" cy="200.6" r="0.5"/><circle cx="327.7" cy="211.6" r="0.5"/><circle cx="314.2" cy="212.2" r="0.5"/><circle cx="341.0" cy="207.4" r="0.5"/><circle cx="315.7" cy="205.7" r="0.5"/><circle cx="332.9" cy="206.5" r="0.5"/><circle cx="320.6" cy="215.4" r="0.5"/><circle cx="325.9" cy="216.6" r="0.5"/><circle cx="333.1" cy="212.3" r="0.5"/><circle cx="312.3" cy="198.6" r="0.5"/><circle cx="319.5" cy="212.7" r="0.5"/><circle cx="341.0" cy="210.2" r="0.5"/><circle cx="332.5" cy="203.5" r="0.5"/><circle cx="315.1" cy="213.2" r="0.5"/><circle cx="329.0" cy="214.6" r="0.5"/><circle cx="313.4" cy="208.2" r="0.5"/><circle cx="328.0" cy="211.3" r="0.5"/><circle cx="320.1" cy="210.0" r="0.5"/><circle cx="323.4" cy="204.5" r="0.5"/><circle cx="319.9" cy="206.9" r="0.5"/><circle cx="312.1" cy="206.0" r="0.5"/><circle cx="312.4" cy="207.8" r="0.5"/><circle cx="323.1" cy="210.4" r="0.5"/><circle cx="314.8" cy="209.6" r="0.5"/><circle cx="332.0" cy="207.4" r="0.5"/><circle cx="324.5" cy="212.7" r="0.5"/><circle cx="317.5" cy="203.9" r="0.5"/><circle cx="338.5" cy="208.7" r="0.5"/><circle cx="330.1" cy="201.2" r="0.5"/><circle cx="320.1" cy="207.4" r="0.5"/><circle cx="337.9" cy="203.5" r="0.5"/><circle cx="336.2" cy="200.5" r="0.5"/><circle cx="319.8" cy="208.8" r="0.5"/><circle cx="326.4" cy="207.1" r="0.5"/><circle cx="319.4" cy="210.2" r="0.5"/><circle cx="319.0" cy="215.0" r="0.5"/><circle cx="320.2" cy="208.8" r="0.5"/><circle cx="317.0" cy="209.9" r="0.5"/><circle cx="314.6" cy="214.4" r="0.5"/><circle cx="312.1" cy="213.8" r="0.5"/><circle cx="322.6" cy="205.0" r="0.5"/><circle cx="327.1" cy="207.5" r="0.5"/><circle cx="313.2" cy="212.8" r="0.5"/><circle cx="318.5" cy="206.5" r="0.5"/><circle cx="326.4" cy="216.1" r="0.5"/><circle cx="327.8" cy="217.9" r="0.5"/><circle cx="313.5" cy="212.7" r="0.5"/><circle cx="319.9" cy="210.0" r="0.5"/><circle cx="313.3" cy="199.2" r="0.5"/><circle cx="317.8" cy="210.5" r="0.5"/><circle cx="317.4" cy="212.4" r="0.5"/><circle cx="317.6" cy="209.9" r="0.5"/><circle cx="333.9" cy="208.8" r="0.5"/><circle cx="316.0" cy="214.5" r="0.5"/><circle cx="328.6" cy="213.1" r="0.5"/><circle cx="315.9" cy="204.2" r="0.5"/><circle cx="335.8" cy="214.2" r="0.5"/><circle cx="313.5" cy="208.3" r="0.5"/><circle cx="314.6" cy="206.5" r="0.5"/><circle cx="315.8" cy="199.7" r="0.5"/><circle cx="330.4" cy="205.8" r="0.5"/><circle cx="336.9" cy="211.8" r="0.5"/><circle cx="330.8" cy="201.9" r="0.5"/><circle cx="319.4" cy="213.5" r="0.5"/><circle cx="313.1" cy="208.6" r="0.5"/><circle cx="329.7" cy="209.0" r="0.5"/><circle cx="319.3" cy="202.5" r="0.5"/><circle cx="317.3" cy="209.7" r="0.5"/><circle cx="323.2" cy="220.2" r="0.5"/><circle cx="326.9" cy="209.5" r="0.5"/><circle cx="335.2" cy="210.1" r="0.5"/><circle cx="319.2" cy="211.7" r="0.5"/><circle cx="314.8" cy="211.3" r="0.5"/><circle cx="338.2" cy="215.1" r="0.5"/><circle cx="321.9" cy="213.9" r="0.5"/><circle cx="325.9" cy="203.2" r="0.5"/><circle cx="331.3" cy="204.7" r="0.5"/><circle cx="328.6" cy="204.3" r="0.5"/><circle cx="317.4" cy="216.6" r="0.5"/><circle cx="334.4" cy="208.5" r="0.5"/><circle cx="318.7" cy="200.7" r="0.5"/><circle cx="338.7" cy="212.8" r="0.5"/><circle cx="317.9" cy="208.6" r="0.5"/><circle cx="325.3" cy="211.1" r="0.5"/><circle cx="312.2" cy="209.0" r="0.5"/><circle cx="323.6" cy="204.0" r="0.5"/><circle cx="320.1" cy="202.0" r="0.5"/><circle cx="313.7" cy="218.2" r="0.5"/><circle cx="312.5" cy="211.1" r="0.5"/><circle cx="324.5" cy="210.1" r="0.5"/><circle cx="326.6" cy="213.5" r="0.5"/><circle cx="320.2" cy="220.0" r="0.5"/><circle cx="314.9" cy="213.3" r="0.5"/><circle cx="315.2" cy="218.2" r="0.5"/><circle cx="317.0" cy="211.1" r="0.5"/><circle cx="319.6" cy="209.3" r="0.5"/><circle cx="341.0" cy="202.8" r="0.5"/><circle cx="314.1" cy="209.6" r="0.5"/><circle cx="330.7" cy="206.3" r="0.5"/><circle cx="321.3" cy="210.2" r="0.5"/><circle cx="327.0" cy="207.2" r="0.5"/><circle cx="321.5" cy="219.6" r="0.5"/><circle cx="329.8" cy="202.4" r="0.5"/><circle cx="316.6" cy="209.5" r="0.5"/><circle cx="322.2" cy="212.9" r="0.5"/><circle cx="316.7" cy="212.0" r="0.5"/><circle cx="330.5" cy="216.2" r="0.5"/><circle cx="318.4" cy="212.9" r="0.5"/><circle cx="327.2" cy="208.4" r="0.5"/><circle cx="315.1" cy="216.3" r="0.5"/><circle cx="317.6" cy="201.8" r="0.5"/><circle cx="337.1" cy="209.3" r="0.5"/><circle cx="319.2" cy="205.6" r="0.5"/><circle cx="324.0" cy="211.1" r="0.5"/><circle cx="332.7" cy="206.1" r="0.5"/><circle cx="328.4" cy="202.1" r="0.5"/><circle cx="316.2" cy="213.1" r="0.5"/><circle cx="339.2" cy="204.1" r="0.5"/><circle cx="318.4" cy="211.8" r="0.5"/><circle cx="312.2" cy="212.4" r="0.5"/><circle cx="336.0" cy="206.1" r="0.5"/><circle cx="313.8" cy="213.5" r="0.5"/><circle cx="313.7" cy="216.4" r="0.5"/><circle cx="319.5" cy="216.2" r="0.5"/><circle cx="340.3" cy="207.9" r="0.5"/><circle cx="333.0" cy="213.7" r="0.5"/><circle cx="316.7" cy="210.9" r="0.5"/><circle cx="322.1" cy="209.8" r="0.5"/><circle cx="318.8" cy="211.1" r="0.5"/><circle cx="324.0" cy="207.0" r="0.5"/><circle cx="314.6" cy="206.9" r="0.5"/><circle cx="332.8" cy="209.3" r="0.5"/><circle cx="314.9" cy="209.3" r="0.5"/><circle cx="314.1" cy="203.9" r="0.5"/><circle cx="319.9" cy="198.0" r="0.5"/><circle cx="319.7" cy="209.5" r="0.5"/><circle cx="316.4" cy="219.7" r="0.5"/><circle cx="335.7" cy="205.5" r="0.5"/><circle cx="317.7" cy="211.2" r="0.5"/><circle cx="313.3" cy="213.4" r="0.5"/><circle cx="312.8" cy="204.8" r="0.5"/><circle cx="326.6" cy="208.3" r="0.5"/><circle cx="320.1" cy="216.8" r="0.5"/><circle cx="331.1" cy="208.6" r="0.5"/><circle cx="326.1" cy="201.3" r="0.5"/><circle cx="318.9" cy="204.4" r="0.5"/><circle cx="321.8" cy="213.9" r="0.5"/><circle cx="320.8" cy="208.3" r="0.5"/><circle cx="321.5" cy="220.2" r="0.5"/><circle cx="312.1" cy="224.0" r="0.5"/><circle cx="328.8" cy="211.7" r="0.5"/><circle cx="329.0" cy="206.6" r="0.5"/><circle cx="320.5" cy="209.3" r="0.5"/><circle cx="314.2" cy="213.1" r="0.5"/><circle cx="312.9" cy="199.2" r="0.5"/><circle cx="333.3" cy="204.6" r="0.5"/><circle cx="326.3" cy="215.0" r="0.5"/><circle cx="318.8" cy="209.5" r="0.5"/><circle cx="336.7" cy="207.5" r="0.5"/><circle cx="316.8" cy="203.9" r="0.5"/><circle cx="320.6" cy="203.1" r="0.5"/><circle cx="334.4" cy="203.0" r="0.5"/><circle cx="329.1" cy="212.1" r="0.5"/><circle cx="332.4" cy="204.9" r="0.5"/><circle cx="326.1" cy="214.9" r="0.5"/><circle cx="316.5" cy="206.6" r="0.5"/><circle cx="323.5" cy="207.8" r="0.5"/><circle cx="323.7" cy="202.9" r="0.5"/><circle cx="316.5" cy="216.7" r="0.5"/><circle cx="325.5" cy="217.6" r="0.5"/><circle cx="325.4" cy="199.6" r="0.5"/><circle cx="316.9" cy="207.9" r="0.5"/><circle cx="315.4" cy="212.1" r="0.5"/><circle cx="330.4" cy="203.2" r="0.5"/><circle cx="312.8" cy="203.7" r="0.5"/><circle cx="320.6" cy="213.7" r="0.5"/><circle cx="314.4" cy="201.7" r="0.5"/><circle cx="315.0" cy="209.7" r="0.5"/><circle cx="319.9" cy="211.5" r="0.5"/><circle cx="341.3" cy="201.6" r="0.5"/><circle cx="313.7" cy="209.1" r="0.5"/><circle cx="321.1" cy="216.8" r="0.5"/><circle cx="322.7" cy="208.8" r="0.5"/><circle cx="323.7" cy="211.3" r="0.5"/><circle cx="314.9" cy="201.7" r="0.5"/><circle cx="332.5" cy="203.9" r="0.5"/><circle cx="316.9" cy="214.0" r="0.5"/><circle cx="320.3" cy="206.5" r="0.5"/><circle cx="312.3" cy="214.1" r="0.5"/><circle cx="316.0" cy="208.0" r="0.5"/><circle cx="315.5" cy="208.9" r="0.5"/><circle cx="334.8" cy="207.0" r="0.5"/><circle cx="317.0" cy="213.9" r="0.5"/><circle cx="316.1" cy="201.7" r="0.5"/><circle cx="329.3" cy="212.4" r="0.5"/><circle cx="320.4" cy="214.4" r="0.5"/><circle cx="320.2" cy="210.6" r="0.5"/><circle cx="334.4" cy="206.3" r="0.5"/><circle cx="330.8" cy="213.0" r="0.5"/><circle cx="327.6" cy="212.4" r="0.5"/><circle cx="334.4" cy="220.2" r="0.5"/><circle cx="320.4" cy="206.9" r="0.5"/><circle cx="313.3" cy="206.0" r="0.5"/><circle cx="337.4" cy="203.0" r="0.5"/><circle cx="324.4" cy="213.0" r="0.5"/><circle cx="328.2" cy="207.2" r="0.5"/><circle cx="323.2" cy="199.6" r="0.5"/><circle cx="321.6" cy="211.3" r="0.5"/><circle cx="323.6" cy="213.0" r="0.5"/><circle cx="324.2" cy="205.4" r="0.5"/><circle cx="324.9" cy="212.1" r="0.5"/><circle cx="336.3" cy="200.9" r="0.5"/><circle cx="321.2" cy="216.4" r="0.5"/><circle cx="326.5" cy="210.5" r="0.5"/><circle cx="338.4" cy="207.7" r="0.5"/><circle cx="316.5" cy="207.1" r="0.5"/><circle cx="313.4" cy="210.8" r="0.5"/><circle cx="313.7" cy="207.7" r="0.5"/><circle cx="337.2" cy="205.9" r="0.5"/><circle cx="332.6" cy="207.3" r="0.5"/><circle cx="334.3" cy="206.1" r="0.5"/><circle cx="333.1" cy="208.1" r="0.5"/><circle cx="321.7" cy="193.7" r="0.5"/><circle cx="325.1" cy="212.3" r="0.5"/><circle cx="312.1" cy="214.0" r="0.5"/><circle cx="317.5" cy="209.2" r="0.5"/><circle cx="318.8" cy="209.0" r="0.5"/><circle cx="326.6" cy="218.4" r="0.5"/><circle cx="324.9" cy="207.3" r="0.5"/><circle cx="318.5" cy="210.1" r="0.5"/><circle cx="317.3" cy="200.1" r="0.5"/><circle cx="316.1" cy="215.5" r="0.5"/><circle cx="320.4" cy="211.2" r="0.5"/><circle cx="323.2" cy="202.3" r="0.5"/><circle cx="320.2" cy="209.6" r="0.5"/><circle cx="341.1" cy="210.5" r="0.5"/><circle cx="326.6" cy="219.2" r="0.5"/><circle cx="312.9" cy="207.5" r="0.5"/><circle cx="321.5" cy="214.7" r="0.5"/><circle cx="327.0" cy="206.7" r="0.5"/><circle cx="340.6" cy="210.7" r="0.5"/><circle cx="318.2" cy="207.2" r="0.5"/><circle cx="328.1" cy="199.7" r="0.5"/><circle cx="322.9" cy="213.9" r="0.5"/><circle cx="313.1" cy="203.4" r="0.5"/><circle cx="312.9" cy="212.8" r="0.5"/><circle cx="315.6" cy="212.6" r="0.5"/><circle cx="324.4" cy="205.4" r="0.5"/><circle cx="332.2" cy="206.1" r="0.5"/><circle cx="316.3" cy="205.8" r="0.5"/><circle cx="316.2" cy="218.4" r="0.5"/><circle cx="313.9" cy="217.0" r="0.5"/><circle cx="321.6" cy="206.9" r="0.5"/><circle cx="332.8" cy="208.9" r="0.5"/><circle cx="333.4" cy="209.3" r="0.5"/><circle cx="312.8" cy="212.1" r="0.5"/><circle cx="316.8" cy="205.9" r="0.5"/><circle cx="327.7" cy="205.7" r="0.5"/><circle cx="315.0" cy="215.5" r="0.5"/><circle cx="315.0" cy="218.3" r="0.5"/><circle cx="340.9" cy="212.1" r="0.5"/><circle cx="312.6" cy="209.3" r="0.5"/><circle cx="320.6" cy="206.9" r="0.5"/><circle cx="326.2" cy="205.8" r="0.5"/><circle cx="313.8" cy="202.0" r="0.5"/><circle cx="322.1" cy="210.8" r="0.5"/><circle cx="332.4" cy="215.0" r="0.5"/><circle cx="314.3" cy="215.9" r="0.5"/><circle cx="325.5" cy="208.4" r="0.5"/><circle cx="318.2" cy="204.6" r="0.5"/><circle cx="324.4" cy="215.6" r="0.5"/><circle cx="328.4" cy="206.3" r="0.5"/><circle cx="314.7" cy="209.2" r="0.5"/><circle cx="317.7" cy="217.0" r="0.5"/><circle cx="316.6" cy="203.5" r="0.5"/><circle cx="319.6" cy="216.1" r="0.5"/><circle cx="312.9" cy="207.4" r="0.5"/><circle cx="319.3" cy="205.7" r="0.5"/><circle cx="336.4" cy="208.7" r="0.5"/><circle cx="315.5" cy="210.6" r="0.5"/><circle cx="313.3" cy="205.8" r="0.5"/><circle cx="326.7" cy="213.7" r="0.5"/><circle cx="339.9" cy="210.8" r="0.5"/><circle cx="328.3" cy="207.1" r="0.5"/><circle cx="325.0" cy="209.0" r="0.5"/><circle cx="313.8" cy="208.2" r="0.5"/><circle cx="327.5" cy="206.3" r="0.5"/><circle cx="319.8" cy="204.0" r="0.5"/><circle cx="315.2" cy="214.9" r="0.5"/><circle cx="315.3" cy="213.9" r="0.5"/><circle cx="313.8" cy="210.2" r="0.5"/><circle cx="325.8" cy="212.5" r="0.5"/><circle cx="314.3" cy="206.8" r="0.5"/><circle cx="325.8" cy="209.2" r="0.5"/><circle cx="324.7" cy="206.5" r="0.5"/><circle cx="321.3" cy="211.5" r="0.5"/><circle cx="316.1" cy="212.2" r="0.5"/><circle cx="324.5" cy="209.4" r="0.5"/><circle cx="324.1" cy="210.5" r="0.5"/><circle cx="333.0" cy="201.6" r="0.5"/><circle cx="316.7" cy="209.5" r="0.5"/><circle cx="317.5" cy="206.6" r="0.5"/><circle cx="312.6" cy="205.2" r="0.5"/><circle cx="318.2" cy="213.1" r="0.5"/><circle cx="316.8" cy="212.8" r="0.5"/><circle cx="328.3" cy="210.0" r="0.5"/><circle cx="313.2" cy="202.2" r="0.5"/><circle cx="317.1" cy="197.9" r="0.5"/><circle cx="312.8" cy="201.6" r="0.5"/><circle cx="329.3" cy="205.0" r="0.5"/><circle cx="319.5" cy="200.7" r="0.5"/><circle cx="312.2" cy="212.7" r="0.5"/><circle cx="313.7" cy="212.5" r="0.5"/><circle cx="317.1" cy="208.7" r="0.5"/><circle cx="315.0" cy="202.2" r="0.5"/><circle cx="319.6" cy="211.4" r="0.5"/><circle cx="316.5" cy="212.1" r="0.5"/><circle cx="319.2" cy="226.3" r="0.5"/><circle cx="340.2" cy="204.6" r="0.5"/></g>
<g filter="url(#bl2)"><path d="M297.5,217 L297.5,205 Q297.5,202.5 301,202.5 L306,202.5 Q309.5,202.5 309.5,206 L309.5,217 Z" fill="#8aa8c8" opacity="0.55"/><ellipse cx="303.3" cy="210.5" rx="5.5" ry="5.5" fill="#7a98b8" opacity="0.4" transform="rotate(0 303.3 210.5)"/><ellipse cx="302.0" cy="205.5" rx="4.2" ry="2.0" fill="#40a860" opacity="0.75" transform="rotate(0 302.0 205.5)"/><ellipse cx="299.5" cy="209.0" rx="2.5" ry="4.0" fill="#58a890" opacity="0.45" transform="rotate(0 299.5 209.0)"/><ellipse cx="306.5" cy="214.0" rx="3.0" ry="2.5" fill="#9080b8" opacity="0.55" transform="rotate(0 306.5 214.0)"/><ellipse cx="298.7" cy="225.0" rx="2.7" ry="7.0" fill="#3a9a70" opacity="0.75" transform="rotate(0 298.7 225.0)"/><ellipse cx="298.4" cy="226.0" rx="1.7" ry="3.8" fill="#e8c020" opacity="1" transform="rotate(0 298.4 226.0)"/><ellipse cx="298.3" cy="226.5" rx="0.9" ry="2.2" fill="#e06020" opacity="0.9" transform="rotate(0 298.3 226.5)"/><ellipse cx="306.3" cy="223.5" rx="2.8" ry="6.0" fill="#40a090" opacity="0.75" transform="rotate(0 306.3 223.5)"/></g>
<rect x="296.40" y="199.60" width="14.10" height="17.40" fill="none" stroke="#555" stroke-width="0.7"/>
<rect x="295.30" y="217.60" width="7.00" height="15.40" fill="none" stroke="#555" stroke-width="0.7"/>
<rect x="303.00" y="217.60" width="7.20" height="15.40" fill="none" stroke="#555" stroke-width="0.7"/>
<text x="284.00" y="181.65" font-size="6.0" textLength="40.40" lengthAdjust="spacingAndGlyphs" fill="#2a2a2a">ELDR-C1-HS-5</text>
<text x="293.90" y="197.33" font-size="6.5" textLength="18.50" lengthAdjust="spacingAndGlyphs" fill="#2a2a2a">S: 24.1</text>
<text x="291.60" y="239.33" font-size="6.5" textLength="23.20" lengthAdjust="spacingAndGlyphs" fill="#2a2a2a">G1: 50.4</text>
<text x="312.40" y="233.63" font-size="6.5" textLength="28.60" lengthAdjust="spacingAndGlyphs" fill="#2a2a2a">G2M: 11.3</text>
<text x="277.90" y="194.43" font-size="6.8" text-anchor="end" fill="#333">10<tspan font-size="4" dy="-2.2">5</tspan></text>
<text x="277.90" y="207.43" font-size="6.8" text-anchor="end" fill="#333">10<tspan font-size="4" dy="-2.2">4</tspan></text>
<text x="277.90" y="224.43" font-size="6.8" text-anchor="end" fill="#333">10<tspan font-size="4" dy="-2.2">3</tspan></text>
<text x="277.90" y="234.03" font-size="6.8" text-anchor="end" fill="#333">0</text>
<text x="277.90" y="243.93" font-size="6.8" text-anchor="end" fill="#333">−10<tspan font-size="4" dy="-2.2">3</tspan></text>
<line x1="282.70" y1="190.50" x2="282.70" y2="194.50" stroke="#222" stroke-width="1.2"/>
<line x1="282.70" y1="203.50" x2="282.70" y2="207.50" stroke="#222" stroke-width="1.2"/>
<line x1="282.70" y1="217.50" x2="282.70" y2="223.50" stroke="#222" stroke-width="1.2"/>
<line x1="282.70" y1="236.50" x2="282.70" y2="243.50" stroke="#222" stroke-width="1.2"/>
<line x1="281.50" y1="192.00" x2="283.70" y2="192.00" stroke="#222" stroke-width="0.9"/>
<line x1="281.50" y1="205.00" x2="283.70" y2="205.00" stroke="#222" stroke-width="0.9"/>
<line x1="281.50" y1="222.00" x2="283.70" y2="222.00" stroke="#222" stroke-width="0.9"/>
<line x1="281.50" y1="241.50" x2="283.70" y2="241.50" stroke="#222" stroke-width="0.9"/>
<rect x="281.10" y="229.60" width="2.60" height="4.00" fill="#000"/>
<line x1="291.70" y1="245.00" x2="291.70" y2="247.20" stroke="#333" stroke-width="0.7"/>
<line x1="295.80" y1="245.00" x2="295.80" y2="246.40" stroke="#333" stroke-width="0.7"/>
<line x1="299.90" y1="245.00" x2="299.90" y2="246.40" stroke="#333" stroke-width="0.7"/>
<line x1="304.00" y1="245.00" x2="304.00" y2="246.40" stroke="#333" stroke-width="0.7"/>
<line x1="308.10" y1="245.00" x2="308.10" y2="246.40" stroke="#333" stroke-width="0.7"/>
<line x1="312.20" y1="245.00" x2="312.20" y2="246.40" stroke="#333" stroke-width="0.7"/>
<line x1="316.30" y1="245.00" x2="316.30" y2="247.20" stroke="#333" stroke-width="0.7"/>
<line x1="320.40" y1="245.00" x2="320.40" y2="246.40" stroke="#333" stroke-width="0.7"/>
<line x1="324.50" y1="245.00" x2="324.50" y2="246.40" stroke="#333" stroke-width="0.7"/>
<line x1="328.60" y1="245.00" x2="328.60" y2="246.40" stroke="#333" stroke-width="0.7"/>
<line x1="332.70" y1="245.00" x2="332.70" y2="246.40" stroke="#333" stroke-width="0.7"/>
<line x1="336.80" y1="245.00" x2="336.80" y2="246.40" stroke="#333" stroke-width="0.7"/>
<line x1="340.90" y1="245.00" x2="340.90" y2="247.20" stroke="#333" stroke-width="0.7"/>
<text x="292.00" y="257.26" font-size="6.3" text-anchor="middle" fill="#333">0</text>
<text x="316.70" y="257.26" font-size="6.3" text-anchor="middle" fill="#333">2.0K</text>
<text x="341.20" y="257.26" font-size="6.3" text-anchor="middle" fill="#333">4.0K</text>
<rect x="367.70" y="185.80" width="59.0" height="59.2" fill="#fff" stroke="#7a7a7a" stroke-width="0.9"/>
<g fill="#34549a" opacity="0.45"><circle cx="400.1" cy="203.0" r="0.5"/><circle cx="412.2" cy="207.6" r="0.5"/><circle cx="405.2" cy="206.8" r="0.5"/><circle cx="402.4" cy="207.0" r="0.5"/><circle cx="408.6" cy="208.3" r="0.5"/><circle cx="404.3" cy="207.0" r="0.5"/><circle cx="398.5" cy="213.8" r="0.5"/><circle cx="403.3" cy="216.1" r="0.5"/><circle cx="405.1" cy="212.6" r="0.5"/><circle cx="414.9" cy="212.0" r="0.5"/><circle cx="412.0" cy="207.3" r="0.5"/><circle cx="406.8" cy="201.7" r="0.5"/><circle cx="401.7" cy="202.9" r="0.5"/><circle cx="406.2" cy="210.7" r="0.5"/><circle cx="409.8" cy="205.2" r="0.5"/><circle cx="400.8" cy="217.1" r="0.5"/><circle cx="415.9" cy="213.7" r="0.5"/><circle cx="406.3" cy="214.1" r="0.5"/><circle cx="397.5" cy="210.6" r="0.5"/><circle cx="397.0" cy="207.2" r="0.5"/><circle cx="399.8" cy="209.3" r="0.5"/><circle cx="412.2" cy="211.4" r="0.5"/><circle cx="403.6" cy="207.7" r="0.5"/><circle cx="406.2" cy="204.9" r="0.5"/><circle cx="406.5" cy="204.9" r="0.5"/><circle cx="407.7" cy="200.6" r="0.5"/><circle cx="399.1" cy="213.3" r="0.5"/><circle cx="408.2" cy="210.6" r="0.5"/><circle cx="398.4" cy="203.8" r="0.5"/><circle cx="406.5" cy="204.5" r="0.5"/><circle cx="395.5" cy="208.9" r="0.5"/><circle cx="396.3" cy="209.4" r="0.5"/><circle cx="407.2" cy="204.1" r="0.5"/><circle cx="399.8" cy="211.3" r="0.5"/><circle cx="398.4" cy="209.9" r="0.5"/><circle cx="408.5" cy="211.0" r="0.5"/><circle cx="402.3" cy="208.3" r="0.5"/><circle cx="397.7" cy="210.6" r="0.5"/><circle cx="404.0" cy="203.8" r="0.5"/><circle cx="407.0" cy="209.9" r="0.5"/><circle cx="396.4" cy="209.0" r="0.5"/><circle cx="407.6" cy="207.1" r="0.5"/><circle cx="396.9" cy="208.2" r="0.5"/><circle cx="398.7" cy="217.6" r="0.5"/><circle cx="397.3" cy="212.9" r="0.5"/><circle cx="411.2" cy="204.6" r="0.5"/><circle cx="399.0" cy="200.6" r="0.5"/><circle cx="400.4" cy="208.9" r="0.5"/><circle cx="396.7" cy="215.3" r="0.5"/><circle cx="400.7" cy="211.0" r="0.5"/><circle cx="415.8" cy="207.1" r="0.5"/><circle cx="399.7" cy="209.9" r="0.5"/><circle cx="398.5" cy="206.7" r="0.5"/><circle cx="396.2" cy="203.0" r="0.5"/><circle cx="400.5" cy="206.7" r="0.5"/><circle cx="398.8" cy="215.6" r="0.5"/><circle cx="403.2" cy="205.5" r="0.5"/><circle cx="396.1" cy="206.8" r="0.5"/><circle cx="417.7" cy="204.3" r="0.5"/><circle cx="398.6" cy="206.6" r="0.5"/><circle cx="398.8" cy="205.0" r="0.5"/><circle cx="400.7" cy="205.6" r="0.5"/><circle cx="400.3" cy="202.3" r="0.5"/><circle cx="398.7" cy="210.3" r="0.5"/><circle cx="408.1" cy="207.8" r="0.5"/><circle cx="403.6" cy="205.1" r="0.5"/><circle cx="405.2" cy="207.0" r="0.5"/><circle cx="411.0" cy="206.9" r="0.5"/><circle cx="395.8" cy="203.9" r="0.5"/><circle cx="398.3" cy="214.6" r="0.5"/><circle cx="411.0" cy="214.0" r="0.5"/><circle cx="396.6" cy="205.6" r="0.5"/><circle cx="395.8" cy="207.1" r="0.5"/><circle cx="399.0" cy="209.0" r="0.5"/><circle cx="397.8" cy="204.4" r="0.5"/><circle cx="405.6" cy="207.2" r="0.5"/><circle cx="399.3" cy="213.2" r="0.5"/><circle cx="422.3" cy="202.6" r="0.5"/><circle cx="403.4" cy="203.6" r="0.5"/><circle cx="398.9" cy="214.3" r="0.5"/><circle cx="403.7" cy="207.3" r="0.5"/><circle cx="397.8" cy="211.6" r="0.5"/><circle cx="407.7" cy="211.8" r="0.5"/><circle cx="406.5" cy="207.1" r="0.5"/><circle cx="400.6" cy="210.4" r="0.5"/><circle cx="410.2" cy="210.7" r="0.5"/><circle cx="396.8" cy="214.1" r="0.5"/><circle cx="398.1" cy="211.9" r="0.5"/><circle cx="398.9" cy="210.0" r="0.5"/><circle cx="419.4" cy="208.8" r="0.5"/><circle cx="398.1" cy="208.7" r="0.5"/><circle cx="415.6" cy="208.1" r="0.5"/><circle cx="399.5" cy="211.8" r="0.5"/><circle cx="396.3" cy="209.2" r="0.5"/><circle cx="398.9" cy="212.5" r="0.5"/><circle cx="418.7" cy="206.5" r="0.5"/><circle cx="412.3" cy="209.8" r="0.5"/><circle cx="399.7" cy="211.5" r="0.5"/><circle cx="406.1" cy="204.1" r="0.5"/><circle cx="398.1" cy="212.5" r="0.5"/><circle cx="399.9" cy="213.6" r="0.5"/><circle cx="401.2" cy="206.1" r="0.5"/><circle cx="397.8" cy="204.2" r="0.5"/><circle cx="398.7" cy="212.7" r="0.5"/><circle cx="397.9" cy="207.1" r="0.5"/><circle cx="402.5" cy="208.3" r="0.5"/><circle cx="395.8" cy="215.3" r="0.5"/><circle cx="407.8" cy="205.1" r="0.5"/><circle cx="415.2" cy="205.8" r="0.5"/><circle cx="397.7" cy="209.3" r="0.5"/><circle cx="401.1" cy="210.1" r="0.5"/><circle cx="405.3" cy="206.8" r="0.5"/><circle cx="407.0" cy="205.0" r="0.5"/><circle cx="396.3" cy="207.7" r="0.5"/><circle cx="419.4" cy="211.2" r="0.5"/><circle cx="402.5" cy="206.6" r="0.5"/><circle cx="399.0" cy="203.6" r="0.5"/><circle cx="415.2" cy="207.0" r="0.5"/><circle cx="399.0" cy="206.0" r="0.5"/><circle cx="407.0" cy="206.8" r="0.5"/><circle cx="409.9" cy="209.5" r="0.5"/><circle cx="400.8" cy="203.8" r="0.5"/><circle cx="411.7" cy="206.9" r="0.5"/><circle cx="396.5" cy="208.7" r="0.5"/><circle cx="399.2" cy="210.1" r="0.5"/><circle cx="400.4" cy="211.9" r="0.5"/><circle cx="401.5" cy="204.7" r="0.5"/><circle cx="399.1" cy="206.6" r="0.5"/><circle cx="408.5" cy="206.7" r="0.5"/><circle cx="406.4" cy="209.2" r="0.5"/><circle cx="403.3" cy="206.9" r="0.5"/><circle cx="405.3" cy="201.1" r="0.5"/><circle cx="411.5" cy="207.5" r="0.5"/><circle cx="405.0" cy="210.5" r="0.5"/><circle cx="410.3" cy="203.3" r="0.5"/><circle cx="396.5" cy="207.9" r="0.5"/><circle cx="402.1" cy="203.6" r="0.5"/><circle cx="397.8" cy="213.4" r="0.5"/><circle cx="407.7" cy="209.9" r="0.5"/><circle cx="397.7" cy="209.8" r="0.5"/><circle cx="396.2" cy="211.8" r="0.5"/><circle cx="403.4" cy="214.6" r="0.5"/><circle cx="398.6" cy="208.2" r="0.5"/><circle cx="403.9" cy="214.3" r="0.5"/><circle cx="398.3" cy="212.0" r="0.5"/><circle cx="395.5" cy="208.2" r="0.5"/><circle cx="397.8" cy="207.9" r="0.5"/><circle cx="395.9" cy="205.4" r="0.5"/><circle cx="407.0" cy="209.6" r="0.5"/><circle cx="395.8" cy="210.2" r="0.5"/><circle cx="397.3" cy="207.8" r="0.5"/><circle cx="402.4" cy="207.0" r="0.5"/><circle cx="401.4" cy="211.4" r="0.5"/><circle cx="397.2" cy="209.9" r="0.5"/><circle cx="408.3" cy="205.7" r="0.5"/><circle cx="407.1" cy="207.3" r="0.5"/><circle cx="406.0" cy="208.0" r="0.5"/><circle cx="395.7" cy="205.9" r="0.5"/><circle cx="396.0" cy="209.3" r="0.5"/><circle cx="402.5" cy="207.9" r="0.5"/><circle cx="399.1" cy="204.6" r="0.5"/><circle cx="400.5" cy="206.8" r="0.5"/><circle cx="409.7" cy="206.5" r="0.5"/><circle cx="398.3" cy="201.0" r="0.5"/><circle cx="425.5" cy="209.4" r="0.5"/><circle cx="396.5" cy="211.1" r="0.5"/><circle cx="399.7" cy="206.8" r="0.5"/><circle cx="399.7" cy="204.1" r="0.5"/><circle cx="398.4" cy="210.4" r="0.5"/><circle cx="397.8" cy="212.4" r="0.5"/><circle cx="397.0" cy="209.0" r="0.5"/><circle cx="399.5" cy="204.9" r="0.5"/><circle cx="397.0" cy="208.7" r="0.5"/><circle cx="397.7" cy="207.1" r="0.5"/><circle cx="401.3" cy="206.1" r="0.5"/><circle cx="405.1" cy="199.6" r="0.5"/><circle cx="416.2" cy="211.8" r="0.5"/><circle cx="404.4" cy="205.8" r="0.5"/><circle cx="396.0" cy="209.6" r="0.5"/><circle cx="409.4" cy="208.4" r="0.5"/><circle cx="404.5" cy="206.6" r="0.5"/><circle cx="398.6" cy="207.2" r="0.5"/><circle cx="396.8" cy="202.3" r="0.5"/><circle cx="398.1" cy="201.4" r="0.5"/><circle cx="395.8" cy="210.9" r="0.5"/><circle cx="411.5" cy="210.4" r="0.5"/><circle cx="406.9" cy="206.6" r="0.5"/><circle cx="396.3" cy="209.8" r="0.5"/><circle cx="396.7" cy="210.0" r="0.5"/><circle cx="412.5" cy="208.5" r="0.5"/><circle cx="407.6" cy="204.3" r="0.5"/><circle cx="396.5" cy="212.8" r="0.5"/><circle cx="400.5" cy="211.7" r="0.5"/><circle cx="397.1" cy="209.3" r="0.5"/><circle cx="412.3" cy="208.2" r="0.5"/><circle cx="404.2" cy="217.4" r="0.5"/><circle cx="399.5" cy="205.8" r="0.5"/><circle cx="404.7" cy="203.8" r="0.5"/><circle cx="408.4" cy="212.1" r="0.5"/><circle cx="396.5" cy="211.7" r="0.5"/><circle cx="401.7" cy="209.0" r="0.5"/><circle cx="398.8" cy="215.5" r="0.5"/><circle cx="406.3" cy="208.6" r="0.5"/><circle cx="399.9" cy="215.8" r="0.5"/><circle cx="400.8" cy="210.8" r="0.5"/><circle cx="396.0" cy="207.3" r="0.5"/><circle cx="410.7" cy="211.9" r="0.5"/><circle cx="400.1" cy="207.5" r="0.5"/><circle cx="397.5" cy="207.5" r="0.5"/><circle cx="412.0" cy="206.3" r="0.5"/><circle cx="401.8" cy="209.8" r="0.5"/><circle cx="396.4" cy="210.5" r="0.5"/><circle cx="401.7" cy="212.3" r="0.5"/><circle cx="402.6" cy="207.7" r="0.5"/><circle cx="396.0" cy="205.9" r="0.5"/><circle cx="404.5" cy="212.0" r="0.5"/><circle cx="399.1" cy="210.3" r="0.5"/><circle cx="403.3" cy="208.0" r="0.5"/><circle cx="402.8" cy="206.2" r="0.5"/><circle cx="403.7" cy="206.7" r="0.5"/><circle cx="412.3" cy="207.8" r="0.5"/><circle cx="401.9" cy="211.1" r="0.5"/><circle cx="397.3" cy="204.6" r="0.5"/><circle cx="407.7" cy="211.8" r="0.5"/><circle cx="402.5" cy="208.6" r="0.5"/><circle cx="396.2" cy="208.5" r="0.5"/><circle cx="421.7" cy="206.7" r="0.5"/><circle cx="395.8" cy="208.6" r="0.5"/><circle cx="397.4" cy="211.4" r="0.5"/><circle cx="403.3" cy="207.6" r="0.5"/><circle cx="414.2" cy="202.3" r="0.5"/><circle cx="397.6" cy="203.4" r="0.5"/><circle cx="396.7" cy="215.0" r="0.5"/><circle cx="396.3" cy="210.1" r="0.5"/><circle cx="420.8" cy="205.9" r="0.5"/><circle cx="407.0" cy="206.0" r="0.5"/><circle cx="396.7" cy="207.7" r="0.5"/><circle cx="406.3" cy="208.1" r="0.5"/><circle cx="410.9" cy="207.8" r="0.5"/><circle cx="408.8" cy="207.8" r="0.5"/><circle cx="401.2" cy="210.6" r="0.5"/><circle cx="402.3" cy="205.1" r="0.5"/><circle cx="401.8" cy="209.2" r="0.5"/><circle cx="395.9" cy="208.2" r="0.5"/><circle cx="401.0" cy="208.0" r="0.5"/><circle cx="395.6" cy="212.8" r="0.5"/><circle cx="405.1" cy="214.7" r="0.5"/><circle cx="407.2" cy="209.1" r="0.5"/><circle cx="399.8" cy="212.5" r="0.5"/><circle cx="397.1" cy="212.7" r="0.5"/><circle cx="399.4" cy="216.2" r="0.5"/><circle cx="401.0" cy="214.8" r="0.5"/><circle cx="398.5" cy="213.7" r="0.5"/><circle cx="408.8" cy="211.0" r="0.5"/><circle cx="408.7" cy="210.5" r="0.5"/><circle cx="398.0" cy="211.1" r="0.5"/><circle cx="405.6" cy="211.1" r="0.5"/><circle cx="422.4" cy="210.0" r="0.5"/><circle cx="405.8" cy="209.6" r="0.5"/><circle cx="396.3" cy="209.5" r="0.5"/><circle cx="403.8" cy="205.2" r="0.5"/><circle cx="399.8" cy="206.6" r="0.5"/><circle cx="399.2" cy="205.3" r="0.5"/><circle cx="412.9" cy="204.3" r="0.5"/><circle cx="404.7" cy="210.6" r="0.5"/><circle cx="408.2" cy="200.8" r="0.5"/><circle cx="404.3" cy="213.5" r="0.5"/><circle cx="408.8" cy="208.9" r="0.5"/><circle cx="399.4" cy="210.6" r="0.5"/><circle cx="415.5" cy="205.6" r="0.5"/><circle cx="399.6" cy="208.3" r="0.5"/><circle cx="398.0" cy="206.7" r="0.5"/><circle cx="398.5" cy="208.5" r="0.5"/><circle cx="399.6" cy="210.4" r="0.5"/><circle cx="423.2" cy="201.7" r="0.5"/><circle cx="405.6" cy="201.8" r="0.5"/><circle cx="408.2" cy="213.7" r="0.5"/><circle cx="397.7" cy="209.0" r="0.5"/><circle cx="397.5" cy="208.7" r="0.5"/><circle cx="397.3" cy="209.6" r="0.5"/><circle cx="410.7" cy="210.3" r="0.5"/><circle cx="405.8" cy="206.8" r="0.5"/><circle cx="405.9" cy="212.9" r="0.5"/><circle cx="400.8" cy="205.0" r="0.5"/><circle cx="396.3" cy="210.8" r="0.5"/><circle cx="402.4" cy="206.0" r="0.5"/><circle cx="398.7" cy="200.5" r="0.5"/><circle cx="396.7" cy="207.3" r="0.5"/><circle cx="400.8" cy="206.4" r="0.5"/><circle cx="415.0" cy="203.7" r="0.5"/><circle cx="399.2" cy="213.5" r="0.5"/><circle cx="419.5" cy="203.9" r="0.5"/><circle cx="396.2" cy="210.1" r="0.5"/><circle cx="412.1" cy="210.2" r="0.5"/><circle cx="395.6" cy="209.1" r="0.5"/><circle cx="396.9" cy="204.5" r="0.5"/><circle cx="403.7" cy="210.5" r="0.5"/><circle cx="405.1" cy="208.4" r="0.5"/><circle cx="397.6" cy="206.7" r="0.5"/><circle cx="395.7" cy="208.6" r="0.5"/><circle cx="397.6" cy="207.1" r="0.5"/><circle cx="418.8" cy="203.9" r="0.5"/><circle cx="403.0" cy="205.0" r="0.5"/><circle cx="401.9" cy="207.8" r="0.5"/><circle cx="396.0" cy="206.7" r="0.5"/><circle cx="396.0" cy="212.6" r="0.5"/><circle cx="396.6" cy="209.7" r="0.5"/><circle cx="396.3" cy="200.4" r="0.5"/><circle cx="403.6" cy="208.9" r="0.5"/><circle cx="397.7" cy="209.5" r="0.5"/><circle cx="396.2" cy="207.3" r="0.5"/><circle cx="398.0" cy="204.8" r="0.5"/><circle cx="399.6" cy="211.8" r="0.5"/><circle cx="404.6" cy="214.9" r="0.5"/><circle cx="398.4" cy="213.6" r="0.5"/><circle cx="408.0" cy="214.3" r="0.5"/><circle cx="397.3" cy="210.5" r="0.5"/><circle cx="409.0" cy="209.5" r="0.5"/><circle cx="397.8" cy="204.4" r="0.5"/><circle cx="395.6" cy="212.2" r="0.5"/><circle cx="396.7" cy="216.2" r="0.5"/><circle cx="403.0" cy="204.3" r="0.5"/><circle cx="396.9" cy="206.7" r="0.5"/><circle cx="396.6" cy="217.3" r="0.5"/><circle cx="398.9" cy="214.6" r="0.5"/><circle cx="402.9" cy="206.4" r="0.5"/><circle cx="396.0" cy="208.4" r="0.5"/><circle cx="395.6" cy="210.6" r="0.5"/><circle cx="418.6" cy="205.3" r="0.5"/><circle cx="398.7" cy="208.8" r="0.5"/><circle cx="406.4" cy="206.4" r="0.5"/><circle cx="397.5" cy="206.5" r="0.5"/><circle cx="396.3" cy="212.5" r="0.5"/><circle cx="397.5" cy="210.1" r="0.5"/><circle cx="398.9" cy="206.4" r="0.5"/><circle cx="405.6" cy="208.6" r="0.5"/><circle cx="397.2" cy="211.5" r="0.5"/><circle cx="398.9" cy="205.9" r="0.5"/><circle cx="400.0" cy="212.6" r="0.5"/><circle cx="409.8" cy="212.6" r="0.5"/><circle cx="408.2" cy="209.5" r="0.5"/><circle cx="397.4" cy="212.9" r="0.5"/><circle cx="396.4" cy="210.1" r="0.5"/><circle cx="399.8" cy="208.6" r="0.5"/><circle cx="396.4" cy="207.9" r="0.5"/><circle cx="400.1" cy="210.1" r="0.5"/><circle cx="399.6" cy="211.2" r="0.5"/><circle cx="396.4" cy="212.3" r="0.5"/><circle cx="399.9" cy="210.3" r="0.5"/><circle cx="414.8" cy="206.0" r="0.5"/><circle cx="397.3" cy="208.8" r="0.5"/><circle cx="405.0" cy="202.0" r="0.5"/><circle cx="418.5" cy="204.1" r="0.5"/><circle cx="409.2" cy="214.1" r="0.5"/><circle cx="400.7" cy="214.1" r="0.5"/><circle cx="397.4" cy="212.5" r="0.5"/><circle cx="397.2" cy="215.3" r="0.5"/><circle cx="396.1" cy="208.7" r="0.5"/><circle cx="399.8" cy="216.7" r="0.5"/><circle cx="404.7" cy="211.7" r="0.5"/><circle cx="398.2" cy="210.9" r="0.5"/><circle cx="397.1" cy="207.6" r="0.5"/><circle cx="396.4" cy="206.6" r="0.5"/><circle cx="424.5" cy="203.9" r="0.5"/><circle cx="395.6" cy="209.7" r="0.5"/><circle cx="402.9" cy="207.9" r="0.5"/><circle cx="399.9" cy="208.9" r="0.5"/><circle cx="404.9" cy="206.0" r="0.5"/><circle cx="400.3" cy="208.3" r="0.5"/><circle cx="402.0" cy="207.6" r="0.5"/><circle cx="406.9" cy="206.6" r="0.5"/><circle cx="415.9" cy="206.6" r="0.5"/><circle cx="398.7" cy="202.4" r="0.5"/><circle cx="411.8" cy="208.6" r="0.5"/><circle cx="401.9" cy="211.0" r="0.5"/><circle cx="411.7" cy="209.6" r="0.5"/><circle cx="395.8" cy="210.6" r="0.5"/><circle cx="399.5" cy="210.4" r="0.5"/><circle cx="405.2" cy="210.1" r="0.5"/><circle cx="401.6" cy="212.0" r="0.5"/><circle cx="403.5" cy="207.3" r="0.5"/><circle cx="395.6" cy="211.8" r="0.5"/><circle cx="400.0" cy="208.2" r="0.5"/><circle cx="400.5" cy="212.6" r="0.5"/><circle cx="402.3" cy="210.0" r="0.5"/><circle cx="397.1" cy="215.6" r="0.5"/><circle cx="418.2" cy="207.4" r="0.5"/><circle cx="398.2" cy="206.6" r="0.5"/><circle cx="403.2" cy="210.3" r="0.5"/><circle cx="395.7" cy="208.1" r="0.5"/><circle cx="407.8" cy="209.5" r="0.5"/><circle cx="395.5" cy="207.5" r="0.5"/><circle cx="399.7" cy="207.3" r="0.5"/><circle cx="401.3" cy="208.4" r="0.5"/><circle cx="397.4" cy="207.5" r="0.5"/><circle cx="396.4" cy="211.3" r="0.5"/><circle cx="396.5" cy="208.9" r="0.5"/><circle cx="400.7" cy="202.7" r="0.5"/><circle cx="395.9" cy="206.0" r="0.5"/><circle cx="397.4" cy="211.5" r="0.5"/><circle cx="399.7" cy="212.9" r="0.5"/><circle cx="399.2" cy="212.9" r="0.5"/><circle cx="409.3" cy="204.6" r="0.5"/><circle cx="417.5" cy="205.9" r="0.5"/><circle cx="399.2" cy="217.1" r="0.5"/><circle cx="395.9" cy="210.8" r="0.5"/><circle cx="395.6" cy="208.7" r="0.5"/><circle cx="397.9" cy="207.1" r="0.5"/><circle cx="409.8" cy="216.4" r="0.5"/><circle cx="399.3" cy="202.5" r="0.5"/><circle cx="407.0" cy="206.9" r="0.5"/><circle cx="402.9" cy="206.9" r="0.5"/><circle cx="397.5" cy="209.1" r="0.5"/><circle cx="403.0" cy="203.4" r="0.5"/><circle cx="411.5" cy="204.4" r="0.5"/><circle cx="418.5" cy="207.2" r="0.5"/><circle cx="411.4" cy="208.9" r="0.5"/><circle cx="401.4" cy="211.0" r="0.5"/><circle cx="397.6" cy="214.0" r="0.5"/><circle cx="397.4" cy="206.5" r="0.5"/><circle cx="403.4" cy="211.6" r="0.5"/><circle cx="396.0" cy="209.2" r="0.5"/><circle cx="400.0" cy="204.2" r="0.5"/><circle cx="403.3" cy="208.7" r="0.5"/><circle cx="400.0" cy="208.5" r="0.5"/><circle cx="403.4" cy="207.3" r="0.5"/><circle cx="396.9" cy="204.6" r="0.5"/><circle cx="417.8" cy="207.4" r="0.5"/><circle cx="399.4" cy="206.6" r="0.5"/><circle cx="417.7" cy="207.8" r="0.5"/><circle cx="418.3" cy="210.1" r="0.5"/><circle cx="411.6" cy="208.2" r="0.5"/><circle cx="398.6" cy="214.6" r="0.5"/><circle cx="403.1" cy="208.8" r="0.5"/><circle cx="397.3" cy="207.5" r="0.5"/><circle cx="397.2" cy="209.2" r="0.5"/><circle cx="396.5" cy="210.3" r="0.5"/><circle cx="399.1" cy="207.9" r="0.5"/><circle cx="401.6" cy="209.4" r="0.5"/><circle cx="415.5" cy="204.3" r="0.5"/><circle cx="404.0" cy="207.0" r="0.5"/><circle cx="399.5" cy="210.8" r="0.5"/><circle cx="395.6" cy="213.0" r="0.5"/><circle cx="403.4" cy="210.3" r="0.5"/><circle cx="418.5" cy="209.5" r="0.5"/><circle cx="405.7" cy="210.8" r="0.5"/><circle cx="402.5" cy="204.5" r="0.5"/><circle cx="404.0" cy="210.7" r="0.5"/><circle cx="405.7" cy="207.8" r="0.5"/><circle cx="398.0" cy="209.0" r="0.5"/><circle cx="401.9" cy="215.0" r="0.5"/><circle cx="408.8" cy="211.1" r="0.5"/><circle cx="397.0" cy="206.1" r="0.5"/><circle cx="395.6" cy="204.1" r="0.5"/><circle cx="397.7" cy="208.0" r="0.5"/><circle cx="396.0" cy="211.5" r="0.5"/><circle cx="403.8" cy="208.6" r="0.5"/><circle cx="395.5" cy="209.8" r="0.5"/><circle cx="404.2" cy="211.1" r="0.5"/><circle cx="414.6" cy="207.4" r="0.5"/><circle cx="420.0" cy="208.4" r="0.5"/><circle cx="400.7" cy="211.3" r="0.5"/><circle cx="398.2" cy="205.8" r="0.5"/><circle cx="397.6" cy="211.2" r="0.5"/><circle cx="395.9" cy="211.2" r="0.5"/><circle cx="396.2" cy="210.4" r="0.5"/><circle cx="402.3" cy="207.8" r="0.5"/><circle cx="406.5" cy="205.7" r="0.5"/><circle cx="404.6" cy="206.2" r="0.5"/><circle cx="397.0" cy="212.6" r="0.5"/><circle cx="414.0" cy="206.3" r="0.5"/><circle cx="396.7" cy="209.0" r="0.5"/><circle cx="403.8" cy="204.5" r="0.5"/><circle cx="397.3" cy="212.8" r="0.5"/><circle cx="406.7" cy="208.6" r="0.5"/><circle cx="401.7" cy="207.3" r="0.5"/><circle cx="397.0" cy="207.7" r="0.5"/><circle cx="406.5" cy="202.3" r="0.5"/><circle cx="397.3" cy="213.5" r="0.5"/><circle cx="401.3" cy="211.6" r="0.5"/><circle cx="396.5" cy="211.0" r="0.5"/><circle cx="396.3" cy="213.6" r="0.5"/><circle cx="402.5" cy="208.8" r="0.5"/><circle cx="399.4" cy="211.7" r="0.5"/><circle cx="400.8" cy="208.7" r="0.5"/><circle cx="404.5" cy="207.6" r="0.5"/><circle cx="397.2" cy="208.1" r="0.5"/><circle cx="403.7" cy="213.2" r="0.5"/><circle cx="402.2" cy="210.6" r="0.5"/><circle cx="398.1" cy="207.9" r="0.5"/><circle cx="403.1" cy="208.5" r="0.5"/><circle cx="397.3" cy="211.3" r="0.5"/><circle cx="405.8" cy="210.8" r="0.5"/><circle cx="417.8" cy="202.0" r="0.5"/><circle cx="406.6" cy="207.1" r="0.5"/><circle cx="404.4" cy="211.2" r="0.5"/><circle cx="395.9" cy="208.3" r="0.5"/><circle cx="395.9" cy="208.5" r="0.5"/><circle cx="400.5" cy="213.5" r="0.5"/><circle cx="410.2" cy="214.1" r="0.5"/><circle cx="399.8" cy="209.5" r="0.5"/><circle cx="400.4" cy="210.5" r="0.5"/><circle cx="400.7" cy="205.4" r="0.5"/><circle cx="400.8" cy="213.0" r="0.5"/><circle cx="406.0" cy="209.3" r="0.5"/><circle cx="398.9" cy="209.9" r="0.5"/><circle cx="400.1" cy="208.9" r="0.5"/><circle cx="397.3" cy="214.3" r="0.5"/><circle cx="398.2" cy="203.9" r="0.5"/><circle cx="405.8" cy="209.0" r="0.5"/><circle cx="398.8" cy="201.7" r="0.5"/><circle cx="414.5" cy="209.8" r="0.5"/><circle cx="402.3" cy="211.7" r="0.5"/><circle cx="402.6" cy="210.9" r="0.5"/><circle cx="397.8" cy="218.5" r="0.5"/><circle cx="412.3" cy="209.7" r="0.5"/><circle cx="396.5" cy="204.8" r="0.5"/><circle cx="398.0" cy="210.2" r="0.5"/><circle cx="396.0" cy="209.5" r="0.5"/><circle cx="399.5" cy="203.2" r="0.5"/><circle cx="396.1" cy="208.2" r="0.5"/><circle cx="418.7" cy="207.7" r="0.5"/><circle cx="395.9" cy="208.1" r="0.5"/><circle cx="396.5" cy="215.0" r="0.5"/><circle cx="396.3" cy="211.2" r="0.5"/><circle cx="400.8" cy="209.7" r="0.5"/><circle cx="408.0" cy="209.0" r="0.5"/><circle cx="405.6" cy="210.1" r="0.5"/><circle cx="399.4" cy="208.1" r="0.5"/><circle cx="397.4" cy="210.8" r="0.5"/><circle cx="420.5" cy="208.5" r="0.5"/><circle cx="404.9" cy="210.1" r="0.5"/><circle cx="411.1" cy="210.8" r="0.5"/><circle cx="417.4" cy="204.7" r="0.5"/><circle cx="402.0" cy="207.8" r="0.5"/><circle cx="404.3" cy="212.1" r="0.5"/><circle cx="404.8" cy="209.9" r="0.5"/><circle cx="417.7" cy="208.5" r="0.5"/><circle cx="396.3" cy="210.6" r="0.5"/><circle cx="397.5" cy="206.4" r="0.5"/><circle cx="397.6" cy="199.1" r="0.5"/><circle cx="396.6" cy="211.4" r="0.5"/><circle cx="409.0" cy="207.0" r="0.5"/><circle cx="405.1" cy="210.2" r="0.5"/><circle cx="398.4" cy="210.5" r="0.5"/><circle cx="407.6" cy="211.3" r="0.5"/><circle cx="409.4" cy="207.4" r="0.5"/><circle cx="405.6" cy="208.1" r="0.5"/><circle cx="402.0" cy="215.5" r="0.5"/><circle cx="398.3" cy="204.2" r="0.5"/><circle cx="408.7" cy="209.0" r="0.5"/><circle cx="398.7" cy="206.7" r="0.5"/><circle cx="398.8" cy="207.1" r="0.5"/><circle cx="396.3" cy="212.0" r="0.5"/><circle cx="397.3" cy="212.2" r="0.5"/><circle cx="402.6" cy="206.8" r="0.5"/><circle cx="410.8" cy="207.8" r="0.5"/><circle cx="413.1" cy="204.8" r="0.5"/><circle cx="406.9" cy="213.6" r="0.5"/><circle cx="405.3" cy="208.0" r="0.5"/><circle cx="407.2" cy="208.0" r="0.5"/><circle cx="398.9" cy="214.1" r="0.5"/><circle cx="408.3" cy="210.8" r="0.5"/><circle cx="398.4" cy="212.3" r="0.5"/><circle cx="407.5" cy="204.4" r="0.5"/><circle cx="408.7" cy="213.3" r="0.5"/><circle cx="410.3" cy="212.9" r="0.5"/><circle cx="405.0" cy="214.5" r="0.5"/><circle cx="403.4" cy="207.9" r="0.5"/><circle cx="409.8" cy="206.9" r="0.5"/><circle cx="401.1" cy="205.9" r="0.5"/><circle cx="406.2" cy="209.1" r="0.5"/><circle cx="406.2" cy="209.8" r="0.5"/><circle cx="398.4" cy="207.4" r="0.5"/><circle cx="397.5" cy="211.7" r="0.5"/><circle cx="395.7" cy="211.3" r="0.5"/><circle cx="406.6" cy="208.3" r="0.5"/><circle cx="396.0" cy="210.7" r="0.5"/><circle cx="405.0" cy="209.6" r="0.5"/><circle cx="399.1" cy="212.7" r="0.5"/><circle cx="406.9" cy="210.9" r="0.5"/><circle cx="402.5" cy="207.8" r="0.5"/><circle cx="411.3" cy="200.4" r="0.5"/><circle cx="404.8" cy="209.7" r="0.5"/><circle cx="398.1" cy="212.3" r="0.5"/><circle cx="396.3" cy="206.2" r="0.5"/><circle cx="401.7" cy="210.7" r="0.5"/><circle cx="400.1" cy="205.3" r="0.5"/><circle cx="399.3" cy="212.7" r="0.5"/><circle cx="397.1" cy="205.9" r="0.5"/><circle cx="398.6" cy="203.5" r="0.5"/><circle cx="403.8" cy="215.0" r="0.5"/><circle cx="396.4" cy="210.2" r="0.5"/><circle cx="401.8" cy="208.3" r="0.5"/><circle cx="399.5" cy="208.3" r="0.5"/><circle cx="396.2" cy="205.9" r="0.5"/><circle cx="400.7" cy="211.4" r="0.5"/><circle cx="398.6" cy="203.7" r="0.5"/><circle cx="397.3" cy="209.1" r="0.5"/><circle cx="397.2" cy="203.2" r="0.5"/><circle cx="410.5" cy="211.3" r="0.5"/><circle cx="398.9" cy="208.9" r="0.5"/><circle cx="404.2" cy="210.5" r="0.5"/><circle cx="398.0" cy="208.2" r="0.5"/><circle cx="398.3" cy="208.9" r="0.5"/><circle cx="401.0" cy="206.7" r="0.5"/><circle cx="400.4" cy="208.0" r="0.5"/><circle cx="417.5" cy="205.2" r="0.5"/><circle cx="396.9" cy="207.1" r="0.5"/><circle cx="412.4" cy="202.0" r="0.5"/><circle cx="409.7" cy="206.0" r="0.5"/><circle cx="398.6" cy="211.2" r="0.5"/><circle cx="395.7" cy="208.4" r="0.5"/><circle cx="400.4" cy="214.8" r="0.5"/><circle cx="417.2" cy="202.6" r="0.5"/><circle cx="400.5" cy="212.9" r="0.5"/><circle cx="396.6" cy="207.6" r="0.5"/><circle cx="402.5" cy="209.8" r="0.5"/><circle cx="402.0" cy="205.4" r="0.5"/><circle cx="397.6" cy="208.7" r="0.5"/><circle cx="400.5" cy="212.4" r="0.5"/><circle cx="399.9" cy="209.3" r="0.5"/><circle cx="398.4" cy="209.3" r="0.5"/><circle cx="404.3" cy="208.4" r="0.5"/><circle cx="397.6" cy="206.8" r="0.5"/><circle cx="400.6" cy="211.0" r="0.5"/><circle cx="411.9" cy="211.7" r="0.5"/><circle cx="397.1" cy="204.6" r="0.5"/><circle cx="405.2" cy="205.6" r="0.5"/><circle cx="404.2" cy="207.8" r="0.5"/><circle cx="408.3" cy="205.3" r="0.5"/><circle cx="413.6" cy="215.0" r="0.5"/><circle cx="399.6" cy="211.7" r="0.5"/><circle cx="396.1" cy="214.9" r="0.5"/><circle cx="403.4" cy="211.1" r="0.5"/><circle cx="396.6" cy="204.7" r="0.5"/><circle cx="398.4" cy="209.4" r="0.5"/><circle cx="397.1" cy="206.8" r="0.5"/><circle cx="396.7" cy="205.4" r="0.5"/><circle cx="398.0" cy="211.7" r="0.5"/><circle cx="396.7" cy="209.6" r="0.5"/><circle cx="397.0" cy="210.7" r="0.5"/><circle cx="398.2" cy="207.0" r="0.5"/><circle cx="400.1" cy="208.9" r="0.5"/><circle cx="399.6" cy="212.9" r="0.5"/><circle cx="415.8" cy="206.4" r="0.5"/><circle cx="400.0" cy="210.4" r="0.5"/><circle cx="396.6" cy="213.7" r="0.5"/><circle cx="396.8" cy="214.1" r="0.5"/><circle cx="419.4" cy="209.0" r="0.5"/><circle cx="399.1" cy="206.9" r="0.5"/><circle cx="398.5" cy="212.0" r="0.5"/><circle cx="403.7" cy="207.0" r="0.5"/><circle cx="409.5" cy="209.0" r="0.5"/><circle cx="401.4" cy="215.4" r="0.5"/><circle cx="404.6" cy="208.7" r="0.5"/><circle cx="398.6" cy="203.9" r="0.5"/><circle cx="399.1" cy="203.5" r="0.5"/><circle cx="399.5" cy="207.7" r="0.5"/><circle cx="403.1" cy="212.7" r="0.5"/><circle cx="404.8" cy="210.2" r="0.5"/><circle cx="398.7" cy="208.5" r="0.5"/><circle cx="408.9" cy="209.1" r="0.5"/><circle cx="403.4" cy="204.2" r="0.5"/><circle cx="398.4" cy="213.2" r="0.5"/><circle cx="399.1" cy="207.6" r="0.5"/><circle cx="396.9" cy="214.8" r="0.5"/><circle cx="406.8" cy="213.0" r="0.5"/><circle cx="395.7" cy="207.8" r="0.5"/><circle cx="400.3" cy="212.4" r="0.5"/><circle cx="398.7" cy="211.6" r="0.5"/><circle cx="400.8" cy="206.9" r="0.5"/><circle cx="414.1" cy="204.8" r="0.5"/><circle cx="398.3" cy="206.2" r="0.5"/><circle cx="398.9" cy="204.5" r="0.5"/><circle cx="397.6" cy="205.5" r="0.5"/><circle cx="398.7" cy="206.7" r="0.5"/><circle cx="412.6" cy="209.5" r="0.5"/><circle cx="400.9" cy="208.4" r="0.5"/><circle cx="407.6" cy="211.1" r="0.5"/><circle cx="396.7" cy="209.1" r="0.5"/><circle cx="397.0" cy="208.7" r="0.5"/><circle cx="395.9" cy="210.1" r="0.5"/><circle cx="397.3" cy="207.5" r="0.5"/><circle cx="395.9" cy="209.0" r="0.5"/><circle cx="404.4" cy="213.9" r="0.5"/><circle cx="412.4" cy="211.5" r="0.5"/><circle cx="413.4" cy="205.9" r="0.5"/><circle cx="396.2" cy="212.7" r="0.5"/><circle cx="397.0" cy="207.7" r="0.5"/></g>
<g fill="#5a70a8" opacity="0.32"><circle cx="421.4" cy="208.2" r="0.5"/><circle cx="399.7" cy="204.1" r="0.5"/><circle cx="398.7" cy="209.5" r="0.5"/><circle cx="398.4" cy="208.2" r="0.5"/><circle cx="418.9" cy="204.4" r="0.5"/><circle cx="401.0" cy="205.8" r="0.5"/><circle cx="401.4" cy="202.4" r="0.5"/><circle cx="405.6" cy="211.3" r="0.5"/><circle cx="406.4" cy="206.2" r="0.5"/><circle cx="403.0" cy="208.3" r="0.5"/><circle cx="418.8" cy="207.0" r="0.5"/><circle cx="400.8" cy="209.6" r="0.5"/><circle cx="405.3" cy="206.8" r="0.5"/><circle cx="410.8" cy="205.0" r="0.5"/><circle cx="417.4" cy="210.4" r="0.5"/><circle cx="424.6" cy="206.3" r="0.5"/><circle cx="412.6" cy="198.1" r="0.5"/><circle cx="413.6" cy="208.8" r="0.5"/><circle cx="405.0" cy="199.0" r="0.5"/><circle cx="401.3" cy="206.4" r="0.5"/><circle cx="406.2" cy="206.7" r="0.5"/><circle cx="425.5" cy="204.9" r="0.5"/><circle cx="424.2" cy="205.0" r="0.5"/><circle cx="425.2" cy="205.3" r="0.5"/><circle cx="407.1" cy="204.1" r="0.5"/><circle cx="420.2" cy="201.0" r="0.5"/><circle cx="406.9" cy="216.9" r="0.5"/><circle cx="414.2" cy="204.5" r="0.5"/><circle cx="403.3" cy="210.8" r="0.5"/><circle cx="422.1" cy="202.2" r="0.5"/><circle cx="403.2" cy="205.2" r="0.5"/><circle cx="409.4" cy="205.1" r="0.5"/><circle cx="399.5" cy="216.8" r="0.5"/><circle cx="422.3" cy="203.2" r="0.5"/><circle cx="412.5" cy="211.0" r="0.5"/><circle cx="407.5" cy="203.7" r="0.5"/><circle cx="399.8" cy="211.1" r="0.5"/><circle cx="403.5" cy="213.5" r="0.5"/><circle cx="407.9" cy="212.3" r="0.5"/><circle cx="420.0" cy="205.5" r="0.5"/><circle cx="415.8" cy="212.9" r="0.5"/><circle cx="399.7" cy="200.6" r="0.5"/><circle cx="402.1" cy="207.4" r="0.5"/><circle cx="416.1" cy="205.4" r="0.5"/><circle cx="412.4" cy="206.3" r="0.5"/><circle cx="406.7" cy="211.3" r="0.5"/><circle cx="400.1" cy="205.9" r="0.5"/><circle cx="421.5" cy="209.5" r="0.5"/><circle cx="398.9" cy="212.4" r="0.5"/><circle cx="400.4" cy="205.6" r="0.5"/><circle cx="415.2" cy="203.9" r="0.5"/><circle cx="398.6" cy="205.7" r="0.5"/><circle cx="408.8" cy="207.6" r="0.5"/><circle cx="419.6" cy="205.3" r="0.5"/><circle cx="401.5" cy="212.3" r="0.5"/><circle cx="400.2" cy="213.2" r="0.5"/><circle cx="401.5" cy="203.4" r="0.5"/><circle cx="401.0" cy="207.3" r="0.5"/><circle cx="402.9" cy="208.3" r="0.5"/><circle cx="414.1" cy="215.2" r="0.5"/><circle cx="410.9" cy="200.6" r="0.5"/><circle cx="402.5" cy="200.8" r="0.5"/><circle cx="408.6" cy="211.4" r="0.5"/><circle cx="401.0" cy="205.1" r="0.5"/><circle cx="406.8" cy="201.9" r="0.5"/><circle cx="401.1" cy="210.3" r="0.5"/><circle cx="409.6" cy="210.2" r="0.5"/><circle cx="403.3" cy="203.5" r="0.5"/><circle cx="422.4" cy="209.5" r="0.5"/><circle cx="413.1" cy="210.9" r="0.5"/><circle cx="405.8" cy="214.3" r="0.5"/><circle cx="412.8" cy="206.0" r="0.5"/><circle cx="404.4" cy="210.5" r="0.5"/><circle cx="398.5" cy="208.1" r="0.5"/><circle cx="403.7" cy="209.1" r="0.5"/><circle cx="414.9" cy="196.7" r="0.5"/><circle cx="417.7" cy="202.0" r="0.5"/><circle cx="405.6" cy="212.5" r="0.5"/><circle cx="411.3" cy="204.6" r="0.5"/><circle cx="413.8" cy="202.8" r="0.5"/><circle cx="404.1" cy="210.1" r="0.5"/><circle cx="399.1" cy="212.7" r="0.5"/><circle cx="401.9" cy="207.5" r="0.5"/><circle cx="410.0" cy="212.4" r="0.5"/><circle cx="416.8" cy="211.4" r="0.5"/><circle cx="417.6" cy="217.6" r="0.5"/><circle cx="417.3" cy="200.1" r="0.5"/><circle cx="419.2" cy="207.1" r="0.5"/><circle cx="407.5" cy="206.8" r="0.5"/><circle cx="398.2" cy="212.5" r="0.5"/><circle cx="407.1" cy="211.4" r="0.5"/><circle cx="398.2" cy="208.3" r="0.5"/><circle cx="399.8" cy="210.4" r="0.5"/><circle cx="410.3" cy="201.6" r="0.5"/><circle cx="406.8" cy="216.6" r="0.5"/><circle cx="418.3" cy="213.1" r="0.5"/><circle cx="400.0" cy="207.3" r="0.5"/><circle cx="400.7" cy="203.9" r="0.5"/><circle cx="405.7" cy="201.4" r="0.5"/><circle cx="401.0" cy="203.0" r="0.5"/><circle cx="420.0" cy="202.0" r="0.5"/><circle cx="403.0" cy="208.7" r="0.5"/><circle cx="400.8" cy="209.2" r="0.5"/><circle cx="413.1" cy="207.1" r="0.5"/><circle cx="409.9" cy="204.2" r="0.5"/><circle cx="412.5" cy="202.3" r="0.5"/><circle cx="411.3" cy="204.8" r="0.5"/><circle cx="398.3" cy="211.6" r="0.5"/><circle cx="402.6" cy="208.7" r="0.5"/><circle cx="422.0" cy="206.0" r="0.5"/><circle cx="402.7" cy="214.9" r="0.5"/><circle cx="399.7" cy="203.3" r="0.5"/><circle cx="404.9" cy="207.5" r="0.5"/><circle cx="422.6" cy="206.6" r="0.5"/><circle cx="408.2" cy="197.2" r="0.5"/><circle cx="413.7" cy="206.1" r="0.5"/><circle cx="401.4" cy="208.8" r="0.5"/><circle cx="404.8" cy="207.7" r="0.5"/><circle cx="399.6" cy="204.8" r="0.5"/><circle cx="404.3" cy="203.5" r="0.5"/><circle cx="410.2" cy="209.4" r="0.5"/><circle cx="400.9" cy="206.1" r="0.5"/><circle cx="404.2" cy="202.9" r="0.5"/><circle cx="418.8" cy="214.1" r="0.5"/><circle cx="407.5" cy="207.4" r="0.5"/><circle cx="400.2" cy="208.4" r="0.5"/><circle cx="414.7" cy="204.2" r="0.5"/><circle cx="399.0" cy="203.6" r="0.5"/><circle cx="399.8" cy="207.2" r="0.5"/><circle cx="421.1" cy="204.6" r="0.5"/><circle cx="401.1" cy="202.3" r="0.5"/><circle cx="416.8" cy="200.3" r="0.5"/><circle cx="399.6" cy="209.9" r="0.5"/><circle cx="406.6" cy="206.9" r="0.5"/><circle cx="401.8" cy="212.7" r="0.5"/><circle cx="404.9" cy="206.3" r="0.5"/><circle cx="402.3" cy="213.4" r="0.5"/><circle cx="406.7" cy="205.1" r="0.5"/><circle cx="400.9" cy="203.1" r="0.5"/><circle cx="399.2" cy="195.0" r="0.5"/><circle cx="399.8" cy="202.5" r="0.5"/><circle cx="401.7" cy="207.1" r="0.5"/><circle cx="416.8" cy="198.4" r="0.5"/><circle cx="403.9" cy="207.2" r="0.5"/><circle cx="400.6" cy="202.9" r="0.5"/><circle cx="409.2" cy="211.1" r="0.5"/><circle cx="418.3" cy="210.5" r="0.5"/><circle cx="412.7" cy="207.6" r="0.5"/><circle cx="419.4" cy="205.6" r="0.5"/><circle cx="425.4" cy="208.1" r="0.5"/><circle cx="398.9" cy="209.8" r="0.5"/><circle cx="412.9" cy="205.7" r="0.5"/><circle cx="418.2" cy="202.1" r="0.5"/><circle cx="405.8" cy="206.1" r="0.5"/><circle cx="407.8" cy="208.6" r="0.5"/><circle cx="420.0" cy="205.8" r="0.5"/><circle cx="419.4" cy="208.9" r="0.5"/><circle cx="416.9" cy="208.7" r="0.5"/><circle cx="398.1" cy="211.3" r="0.5"/><circle cx="424.2" cy="213.8" r="0.5"/><circle cx="415.6" cy="200.3" r="0.5"/><circle cx="410.4" cy="205.4" r="0.5"/><circle cx="409.2" cy="204.5" r="0.5"/><circle cx="410.1" cy="210.0" r="0.5"/><circle cx="413.1" cy="206.9" r="0.5"/><circle cx="409.9" cy="209.9" r="0.5"/><circle cx="409.9" cy="201.1" r="0.5"/><circle cx="401.5" cy="210.3" r="0.5"/><circle cx="410.9" cy="205.3" r="0.5"/><circle cx="418.7" cy="213.0" r="0.5"/><circle cx="423.8" cy="202.3" r="0.5"/><circle cx="410.2" cy="204.1" r="0.5"/><circle cx="406.7" cy="209.3" r="0.5"/><circle cx="419.0" cy="207.8" r="0.5"/><circle cx="420.3" cy="201.3" r="0.5"/><circle cx="402.1" cy="203.4" r="0.5"/><circle cx="404.2" cy="208.2" r="0.5"/><circle cx="405.6" cy="207.1" r="0.5"/><circle cx="402.0" cy="200.4" r="0.5"/><circle cx="402.5" cy="208.5" r="0.5"/><circle cx="417.2" cy="200.0" r="0.5"/><circle cx="415.1" cy="205.0" r="0.5"/><circle cx="399.1" cy="204.3" r="0.5"/><circle cx="405.6" cy="217.4" r="0.5"/><circle cx="410.6" cy="208.7" r="0.5"/><circle cx="416.9" cy="213.4" r="0.5"/><circle cx="402.4" cy="205.6" r="0.5"/><circle cx="405.0" cy="212.8" r="0.5"/><circle cx="420.7" cy="210.4" r="0.5"/><circle cx="409.4" cy="204.3" r="0.5"/><circle cx="409.4" cy="209.0" r="0.5"/><circle cx="419.2" cy="212.3" r="0.5"/><circle cx="407.8" cy="203.5" r="0.5"/><circle cx="401.4" cy="209.1" r="0.5"/><circle cx="407.5" cy="209.3" r="0.5"/><circle cx="406.0" cy="213.6" r="0.5"/><circle cx="400.2" cy="211.0" r="0.5"/><circle cx="406.6" cy="204.2" r="0.5"/><circle cx="413.4" cy="206.2" r="0.5"/><circle cx="406.4" cy="207.7" r="0.5"/><circle cx="406.1" cy="210.9" r="0.5"/><circle cx="422.3" cy="205.8" r="0.5"/><circle cx="404.9" cy="204.4" r="0.5"/><circle cx="401.5" cy="201.9" r="0.5"/><circle cx="398.4" cy="204.8" r="0.5"/><circle cx="403.9" cy="201.9" r="0.5"/><circle cx="401.8" cy="212.9" r="0.5"/><circle cx="402.5" cy="199.9" r="0.5"/><circle cx="413.0" cy="203.0" r="0.5"/><circle cx="398.6" cy="205.8" r="0.5"/><circle cx="404.7" cy="203.5" r="0.5"/><circle cx="410.1" cy="202.0" r="0.5"/><circle cx="400.2" cy="208.2" r="0.5"/><circle cx="407.2" cy="210.3" r="0.5"/><circle cx="405.7" cy="208.6" r="0.5"/><circle cx="402.7" cy="209.1" r="0.5"/><circle cx="413.0" cy="203.8" r="0.5"/><circle cx="406.1" cy="214.1" r="0.5"/><circle cx="403.3" cy="207.9" r="0.5"/><circle cx="399.0" cy="205.2" r="0.5"/><circle cx="414.7" cy="208.2" r="0.5"/><circle cx="423.6" cy="208.4" r="0.5"/><circle cx="406.3" cy="202.4" r="0.5"/><circle cx="425.3" cy="207.9" r="0.5"/><circle cx="421.8" cy="207.6" r="0.5"/><circle cx="407.9" cy="208.5" r="0.5"/><circle cx="408.5" cy="206.6" r="0.5"/><circle cx="402.1" cy="209.0" r="0.5"/><circle cx="399.6" cy="207.4" r="0.5"/><circle cx="405.8" cy="202.3" r="0.5"/><circle cx="403.8" cy="209.1" r="0.5"/><circle cx="418.6" cy="194.0" r="0.5"/><circle cx="401.2" cy="206.0" r="0.5"/><circle cx="410.1" cy="202.5" r="0.5"/><circle cx="402.0" cy="210.0" r="0.5"/><circle cx="404.9" cy="204.2" r="0.5"/><circle cx="414.2" cy="203.0" r="0.5"/><circle cx="399.5" cy="206.0" r="0.5"/><circle cx="416.2" cy="207.6" r="0.5"/><circle cx="410.9" cy="204.7" r="0.5"/><circle cx="405.0" cy="197.8" r="0.5"/><circle cx="405.6" cy="212.1" r="0.5"/><circle cx="406.7" cy="210.1" r="0.5"/><circle cx="416.6" cy="211.3" r="0.5"/><circle cx="408.1" cy="204.2" r="0.5"/><circle cx="424.5" cy="207.1" r="0.5"/><circle cx="408.4" cy="208.7" r="0.5"/><circle cx="420.5" cy="202.2" r="0.5"/><circle cx="398.5" cy="209.5" r="0.5"/><circle cx="417.5" cy="216.4" r="0.5"/><circle cx="417.1" cy="201.2" r="0.5"/><circle cx="401.7" cy="207.3" r="0.5"/><circle cx="401.2" cy="203.3" r="0.5"/><circle cx="403.1" cy="202.0" r="0.5"/><circle cx="415.6" cy="209.9" r="0.5"/><circle cx="401.2" cy="211.6" r="0.5"/><circle cx="410.1" cy="204.5" r="0.5"/><circle cx="400.4" cy="212.2" r="0.5"/><circle cx="409.2" cy="204.9" r="0.5"/><circle cx="404.3" cy="205.5" r="0.5"/><circle cx="417.3" cy="200.4" r="0.5"/><circle cx="423.7" cy="203.8" r="0.5"/><circle cx="412.4" cy="207.1" r="0.5"/><circle cx="412.2" cy="206.4" r="0.5"/><circle cx="408.1" cy="202.7" r="0.5"/><circle cx="399.9" cy="201.9" r="0.5"/><circle cx="414.1" cy="215.8" r="0.5"/><circle cx="420.1" cy="204.8" r="0.5"/><circle cx="401.3" cy="215.3" r="0.5"/><circle cx="407.9" cy="209.8" r="0.5"/><circle cx="410.9" cy="200.8" r="0.5"/><circle cx="405.0" cy="215.5" r="0.5"/><circle cx="398.4" cy="206.7" r="0.5"/><circle cx="399.3" cy="208.7" r="0.5"/><circle cx="414.6" cy="208.0" r="0.5"/><circle cx="403.9" cy="208.7" r="0.5"/><circle cx="403.6" cy="215.1" r="0.5"/><circle cx="403.6" cy="209.8" r="0.5"/><circle cx="402.4" cy="200.8" r="0.5"/><circle cx="399.6" cy="212.1" r="0.5"/><circle cx="414.1" cy="203.8" r="0.5"/><circle cx="408.6" cy="211.8" r="0.5"/><circle cx="424.2" cy="202.7" r="0.5"/><circle cx="403.6" cy="206.8" r="0.5"/><circle cx="402.8" cy="199.2" r="0.5"/><circle cx="418.2" cy="203.5" r="0.5"/><circle cx="402.2" cy="209.0" r="0.5"/><circle cx="409.8" cy="210.2" r="0.5"/><circle cx="398.5" cy="207.6" r="0.5"/><circle cx="405.5" cy="207.9" r="0.5"/><circle cx="420.4" cy="209.5" r="0.5"/><circle cx="416.2" cy="201.8" r="0.5"/><circle cx="400.8" cy="210.1" r="0.5"/><circle cx="424.3" cy="206.3" r="0.5"/><circle cx="401.7" cy="206.5" r="0.5"/><circle cx="399.7" cy="206.4" r="0.5"/><circle cx="409.2" cy="212.5" r="0.5"/><circle cx="406.0" cy="204.3" r="0.5"/><circle cx="407.8" cy="205.3" r="0.5"/><circle cx="398.0" cy="208.5" r="0.5"/><circle cx="411.7" cy="201.7" r="0.5"/><circle cx="400.3" cy="203.8" r="0.5"/><circle cx="423.5" cy="203.3" r="0.5"/><circle cx="424.2" cy="213.5" r="0.5"/><circle cx="417.3" cy="207.7" r="0.5"/><circle cx="417.0" cy="201.9" r="0.5"/><circle cx="407.0" cy="208.6" r="0.5"/><circle cx="410.1" cy="208.3" r="0.5"/><circle cx="406.3" cy="208.4" r="0.5"/><circle cx="412.6" cy="208.5" r="0.5"/><circle cx="401.6" cy="202.1" r="0.5"/><circle cx="407.8" cy="207.5" r="0.5"/><circle cx="409.9" cy="206.9" r="0.5"/><circle cx="401.8" cy="214.2" r="0.5"/><circle cx="412.3" cy="208.1" r="0.5"/><circle cx="411.1" cy="207.9" r="0.5"/><circle cx="404.2" cy="214.2" r="0.5"/><circle cx="420.1" cy="206.5" r="0.5"/><circle cx="415.8" cy="211.5" r="0.5"/><circle cx="405.9" cy="205.3" r="0.5"/><circle cx="415.5" cy="206.3" r="0.5"/><circle cx="418.0" cy="208.9" r="0.5"/><circle cx="420.5" cy="210.1" r="0.5"/><circle cx="399.8" cy="211.9" r="0.5"/><circle cx="398.9" cy="200.2" r="0.5"/><circle cx="402.9" cy="209.9" r="0.5"/><circle cx="399.5" cy="209.0" r="0.5"/><circle cx="409.4" cy="206.6" r="0.5"/><circle cx="408.5" cy="210.2" r="0.5"/><circle cx="405.9" cy="208.5" r="0.5"/><circle cx="400.1" cy="200.8" r="0.5"/><circle cx="402.3" cy="210.9" r="0.5"/><circle cx="399.9" cy="207.5" r="0.5"/><circle cx="418.3" cy="208.5" r="0.5"/><circle cx="402.0" cy="193.5" r="0.5"/></g>
<g filter="url(#bl2)"><path d="M381.5,218.5 C381.5,209 382.5,204.2 388,204.0 C393.5,204 395.5,208 396,218.5 Z" fill="#3a78b8" opacity="0.7"/><path d="M382.5,218 C382.5,209.5 383.5,205.2 388,205.0 C392.5,205 394.5,208.5 394.8,218 Z" fill="#40ac58" opacity="0.9"/><ellipse cx="385.5" cy="210.5" rx="2.2" ry="3.6" fill="#e0d028" opacity="0.95" transform="rotate(0 385.5 210.5)"/><ellipse cx="388.5" cy="207.5" rx="2.0" ry="1.6" fill="#c8d030" opacity="0.7" transform="rotate(0 388.5 207.5)"/><path d="M386,218.5 C386,214 387.5,212 390.5,212 C393.5,212 394,214.5 394.2,218.5 Z" fill="#3aa8a8" opacity="0.8"/><ellipse cx="382.5" cy="225.0" rx="1.2" ry="4.0" fill="#d04830" opacity="0.9" transform="rotate(0 382.5 225.0)"/><ellipse cx="387.2" cy="225.0" rx="1.3" ry="6.5" fill="#7888a0" opacity="0.65" transform="rotate(0 387.2 225.0)"/><ellipse cx="391.0" cy="221.0" rx="3.0" ry="3.0" fill="#6aa0c8" opacity="0.35" transform="rotate(0 391.0 221.0)"/></g>
<rect x="380.30" y="198.60" width="15.10" height="19.00" fill="none" stroke="#555" stroke-width="0.7"/>
<rect x="378.60" y="217.60" width="8.70" height="15.40" fill="none" stroke="#555" stroke-width="0.7"/>
<rect x="387.30" y="217.60" width="9.20" height="15.40" fill="none" stroke="#555" stroke-width="0.7"/>
<text x="368.00" y="181.65" font-size="6.0" textLength="42.90" lengthAdjust="spacingAndGlyphs" fill="#2a2a2a">ELDR-EV2-HS-5</text>
<text x="378.50" y="197.33" font-size="6.5" textLength="19.20" lengthAdjust="spacingAndGlyphs" fill="#2a2a2a">S: 52.5</text>
<text x="376.20" y="239.33" font-size="6.5" textLength="23.00" lengthAdjust="spacingAndGlyphs" fill="#2a2a2a">G1: 20.6</text>
<text x="397.70" y="233.63" font-size="6.5" textLength="27.90" lengthAdjust="spacingAndGlyphs" fill="#2a2a2a">G2M: 7.65</text>
<text x="361.90" y="194.43" font-size="6.8" text-anchor="end" fill="#333">10<tspan font-size="4" dy="-2.2">5</tspan></text>
<text x="361.90" y="207.43" font-size="6.8" text-anchor="end" fill="#333">10<tspan font-size="4" dy="-2.2">4</tspan></text>
<text x="361.90" y="224.43" font-size="6.8" text-anchor="end" fill="#333">10<tspan font-size="4" dy="-2.2">3</tspan></text>
<text x="361.90" y="234.03" font-size="6.8" text-anchor="end" fill="#333">0</text>
<text x="361.90" y="243.93" font-size="6.8" text-anchor="end" fill="#333">−10<tspan font-size="4" dy="-2.2">3</tspan></text>
<line x1="366.70" y1="190.50" x2="366.70" y2="194.50" stroke="#222" stroke-width="1.2"/>
<line x1="366.70" y1="203.50" x2="366.70" y2="207.50" stroke="#222" stroke-width="1.2"/>
<line x1="366.70" y1="217.50" x2="366.70" y2="223.50" stroke="#222" stroke-width="1.2"/>
<line x1="366.70" y1="236.50" x2="366.70" y2="243.50" stroke="#222" stroke-width="1.2"/>
<line x1="365.50" y1="192.00" x2="367.70" y2="192.00" stroke="#222" stroke-width="0.9"/>
<line x1="365.50" y1="205.00" x2="367.70" y2="205.00" stroke="#222" stroke-width="0.9"/>
<line x1="365.50" y1="222.00" x2="367.70" y2="222.00" stroke="#222" stroke-width="0.9"/>
<line x1="365.50" y1="241.50" x2="367.70" y2="241.50" stroke="#222" stroke-width="0.9"/>
<rect x="365.10" y="229.60" width="2.60" height="4.00" fill="#000"/>
<line x1="375.70" y1="245.00" x2="375.70" y2="247.20" stroke="#333" stroke-width="0.7"/>
<line x1="379.80" y1="245.00" x2="379.80" y2="246.40" stroke="#333" stroke-width="0.7"/>
<line x1="383.90" y1="245.00" x2="383.90" y2="246.40" stroke="#333" stroke-width="0.7"/>
<line x1="388.00" y1="245.00" x2="388.00" y2="246.40" stroke="#333" stroke-width="0.7"/>
<line x1="392.10" y1="245.00" x2="392.10" y2="246.40" stroke="#333" stroke-width="0.7"/>
<line x1="396.20" y1="245.00" x2="396.20" y2="246.40" stroke="#333" stroke-width="0.7"/>
<line x1="400.30" y1="245.00" x2="400.30" y2="247.20" stroke="#333" stroke-width="0.7"/>
<line x1="404.40" y1="245.00" x2="404.40" y2="246.40" stroke="#333" stroke-width="0.7"/>
<line x1="408.50" y1="245.00" x2="408.50" y2="246.40" stroke="#333" stroke-width="0.7"/>
<line x1="412.60" y1="245.00" x2="412.60" y2="246.40" stroke="#333" stroke-width="0.7"/>
<line x1="416.70" y1="245.00" x2="416.70" y2="246.40" stroke="#333" stroke-width="0.7"/>
<line x1="420.80" y1="245.00" x2="420.80" y2="246.40" stroke="#333" stroke-width="0.7"/>
<line x1="424.90" y1="245.00" x2="424.90" y2="247.20" stroke="#333" stroke-width="0.7"/>
<text x="376.00" y="257.26" font-size="6.3" text-anchor="middle" fill="#333">0</text>
<text x="400.70" y="257.26" font-size="6.3" text-anchor="middle" fill="#333">2.0K</text>
<text x="425.20" y="257.26" font-size="6.3" text-anchor="middle" fill="#333">4.0K</text>
<rect x="451.70" y="185.80" width="59.0" height="59.2" fill="#fff" stroke="#7a7a7a" stroke-width="0.9"/>
<g fill="#40408c" opacity="0.42"><circle cx="478.7" cy="212.3" r="0.55"/><circle cx="494.5" cy="204.5" r="0.55"/><circle cx="481.5" cy="210.9" r="0.55"/><circle cx="496.2" cy="212.7" r="0.55"/><circle cx="482.8" cy="205.7" r="0.55"/><circle cx="487.3" cy="213.6" r="0.55"/><circle cx="489.2" cy="207.4" r="0.55"/><circle cx="481.6" cy="212.3" r="0.55"/><circle cx="491.8" cy="203.6" r="0.55"/><circle cx="483.4" cy="216.4" r="0.55"/><circle cx="482.2" cy="207.7" r="0.55"/><circle cx="483.4" cy="209.6" r="0.55"/><circle cx="490.5" cy="216.1" r="0.55"/><circle cx="491.3" cy="213.7" r="0.55"/><circle cx="501.5" cy="218.6" r="0.55"/><circle cx="484.5" cy="212.2" r="0.55"/><circle cx="489.6" cy="208.0" r="0.55"/><circle cx="480.6" cy="212.4" r="0.55"/><circle cx="486.0" cy="210.9" r="0.55"/><circle cx="484.7" cy="207.5" r="0.55"/><circle cx="484.9" cy="210.8" r="0.55"/><circle cx="482.0" cy="210.7" r="0.55"/><circle cx="480.9" cy="207.4" r="0.55"/><circle cx="479.3" cy="208.8" r="0.55"/><circle cx="485.2" cy="209.0" r="0.55"/><circle cx="480.7" cy="222.2" r="0.55"/><circle cx="483.2" cy="212.7" r="0.55"/><circle cx="486.4" cy="208.6" r="0.55"/><circle cx="478.9" cy="213.2" r="0.55"/><circle cx="486.2" cy="210.9" r="0.55"/><circle cx="481.3" cy="214.4" r="0.55"/><circle cx="482.7" cy="217.1" r="0.55"/><circle cx="481.7" cy="217.0" r="0.55"/><circle cx="480.6" cy="216.9" r="0.55"/><circle cx="499.0" cy="205.6" r="0.55"/><circle cx="480.1" cy="216.2" r="0.55"/><circle cx="499.3" cy="206.6" r="0.55"/><circle cx="489.2" cy="218.9" r="0.55"/><circle cx="481.5" cy="211.9" r="0.55"/><circle cx="479.2" cy="207.1" r="0.55"/><circle cx="478.8" cy="200.4" r="0.55"/><circle cx="479.9" cy="215.7" r="0.55"/><circle cx="482.0" cy="212.1" r="0.55"/><circle cx="479.5" cy="207.1" r="0.55"/><circle cx="482.9" cy="199.0" r="0.55"/><circle cx="492.2" cy="217.3" r="0.55"/><circle cx="480.1" cy="206.1" r="0.55"/><circle cx="478.7" cy="209.7" r="0.55"/><circle cx="482.0" cy="216.1" r="0.55"/><circle cx="483.8" cy="209.0" r="0.55"/><circle cx="485.9" cy="224.0" r="0.55"/><circle cx="479.2" cy="217.2" r="0.55"/><circle cx="480.7" cy="211.6" r="0.55"/><circle cx="481.3" cy="210.6" r="0.55"/><circle cx="479.3" cy="210.9" r="0.55"/><circle cx="479.5" cy="212.1" r="0.55"/><circle cx="480.0" cy="214.2" r="0.55"/><circle cx="479.8" cy="213.2" r="0.55"/><circle cx="482.9" cy="218.9" r="0.55"/><circle cx="481.7" cy="220.2" r="0.55"/><circle cx="480.2" cy="212.5" r="0.55"/><circle cx="478.8" cy="223.4" r="0.55"/><circle cx="486.6" cy="223.2" r="0.55"/><circle cx="481.6" cy="220.1" r="0.55"/><circle cx="484.0" cy="213.4" r="0.55"/><circle cx="478.9" cy="209.9" r="0.55"/><circle cx="485.6" cy="203.3" r="0.55"/><circle cx="480.5" cy="206.8" r="0.55"/><circle cx="482.6" cy="214.2" r="0.55"/><circle cx="480.5" cy="217.8" r="0.55"/><circle cx="483.8" cy="210.1" r="0.55"/><circle cx="484.7" cy="216.1" r="0.55"/><circle cx="479.0" cy="214.2" r="0.55"/><circle cx="480.1" cy="205.2" r="0.55"/><circle cx="479.2" cy="204.8" r="0.55"/><circle cx="486.1" cy="211.0" r="0.55"/><circle cx="481.3" cy="201.0" r="0.55"/><circle cx="480.4" cy="218.5" r="0.55"/><circle cx="502.3" cy="224.3" r="0.55"/><circle cx="495.7" cy="199.2" r="0.55"/><circle cx="480.3" cy="215.1" r="0.55"/><circle cx="479.9" cy="204.3" r="0.55"/><circle cx="483.4" cy="202.9" r="0.55"/><circle cx="479.0" cy="214.4" r="0.55"/><circle cx="480.3" cy="209.0" r="0.55"/><circle cx="484.2" cy="213.8" r="0.55"/><circle cx="486.0" cy="217.7" r="0.55"/><circle cx="479.1" cy="210.5" r="0.55"/><circle cx="482.4" cy="209.3" r="0.55"/><circle cx="484.8" cy="210.8" r="0.55"/><circle cx="479.8" cy="210.3" r="0.55"/><circle cx="497.8" cy="205.6" r="0.55"/><circle cx="481.3" cy="215.8" r="0.55"/><circle cx="485.6" cy="210.9" r="0.55"/><circle cx="481.6" cy="203.1" r="0.55"/><circle cx="483.6" cy="207.7" r="0.55"/><circle cx="496.4" cy="210.2" r="0.55"/><circle cx="498.6" cy="213.6" r="0.55"/><circle cx="482.3" cy="193.2" r="0.55"/><circle cx="489.5" cy="211.7" r="0.55"/><circle cx="486.0" cy="221.3" r="0.55"/><circle cx="495.2" cy="216.8" r="0.55"/><circle cx="480.4" cy="201.2" r="0.55"/><circle cx="487.8" cy="206.1" r="0.55"/><circle cx="481.3" cy="212.6" r="0.55"/><circle cx="488.1" cy="217.6" r="0.55"/><circle cx="485.1" cy="201.8" r="0.55"/><circle cx="479.6" cy="216.3" r="0.55"/><circle cx="479.9" cy="218.3" r="0.55"/><circle cx="481.0" cy="214.6" r="0.55"/><circle cx="486.1" cy="213.5" r="0.55"/><circle cx="480.0" cy="215.0" r="0.55"/><circle cx="489.8" cy="206.7" r="0.55"/><circle cx="480.7" cy="211.2" r="0.55"/><circle cx="478.6" cy="218.0" r="0.55"/><circle cx="481.9" cy="211.0" r="0.55"/><circle cx="490.4" cy="211.7" r="0.55"/><circle cx="481.3" cy="227.0" r="0.55"/><circle cx="480.1" cy="211.9" r="0.55"/><circle cx="480.3" cy="214.6" r="0.55"/><circle cx="485.9" cy="211.8" r="0.55"/><circle cx="483.7" cy="207.1" r="0.55"/><circle cx="480.5" cy="211.7" r="0.55"/><circle cx="499.6" cy="197.7" r="0.55"/><circle cx="491.6" cy="224.0" r="0.55"/><circle cx="479.3" cy="212.7" r="0.55"/><circle cx="485.9" cy="210.4" r="0.55"/><circle cx="488.5" cy="208.7" r="0.55"/><circle cx="488.6" cy="204.1" r="0.55"/><circle cx="479.5" cy="207.3" r="0.55"/><circle cx="481.6" cy="210.6" r="0.55"/><circle cx="479.8" cy="209.9" r="0.55"/><circle cx="487.6" cy="203.7" r="0.55"/><circle cx="484.4" cy="200.5" r="0.55"/><circle cx="488.5" cy="203.3" r="0.55"/><circle cx="483.5" cy="205.3" r="0.55"/><circle cx="481.3" cy="224.0" r="0.55"/><circle cx="479.1" cy="207.3" r="0.55"/><circle cx="494.6" cy="218.9" r="0.55"/><circle cx="484.7" cy="204.1" r="0.55"/><circle cx="487.5" cy="199.2" r="0.55"/><circle cx="482.0" cy="201.9" r="0.55"/><circle cx="480.8" cy="214.2" r="0.55"/><circle cx="479.2" cy="204.0" r="0.55"/><circle cx="480.2" cy="204.4" r="0.55"/><circle cx="485.4" cy="213.9" r="0.55"/><circle cx="479.4" cy="210.0" r="0.55"/><circle cx="482.6" cy="204.3" r="0.55"/><circle cx="482.0" cy="214.0" r="0.55"/><circle cx="479.6" cy="203.7" r="0.55"/><circle cx="499.9" cy="211.4" r="0.55"/><circle cx="482.1" cy="213.8" r="0.55"/><circle cx="478.6" cy="205.9" r="0.55"/><circle cx="497.0" cy="211.3" r="0.55"/><circle cx="481.7" cy="217.9" r="0.55"/><circle cx="483.8" cy="203.1" r="0.55"/><circle cx="480.1" cy="209.5" r="0.55"/><circle cx="481.5" cy="218.3" r="0.55"/><circle cx="484.7" cy="206.2" r="0.55"/><circle cx="484.1" cy="211.4" r="0.55"/><circle cx="478.6" cy="217.2" r="0.55"/><circle cx="479.1" cy="217.9" r="0.55"/><circle cx="489.4" cy="213.3" r="0.55"/><circle cx="485.7" cy="222.6" r="0.55"/><circle cx="483.8" cy="209.2" r="0.55"/><circle cx="483.7" cy="217.5" r="0.55"/><circle cx="480.3" cy="212.3" r="0.55"/><circle cx="484.3" cy="218.4" r="0.55"/><circle cx="481.3" cy="214.8" r="0.55"/><circle cx="482.6" cy="209.4" r="0.55"/><circle cx="486.4" cy="212.9" r="0.55"/><circle cx="488.2" cy="208.8" r="0.55"/><circle cx="484.0" cy="209.8" r="0.55"/><circle cx="490.8" cy="221.1" r="0.55"/><circle cx="478.8" cy="211.1" r="0.55"/><circle cx="491.1" cy="208.5" r="0.55"/><circle cx="493.7" cy="206.6" r="0.55"/><circle cx="489.0" cy="214.7" r="0.55"/><circle cx="483.7" cy="208.8" r="0.55"/><circle cx="481.4" cy="208.9" r="0.55"/><circle cx="484.3" cy="221.3" r="0.55"/><circle cx="480.9" cy="198.5" r="0.55"/><circle cx="483.5" cy="207.9" r="0.55"/><circle cx="493.2" cy="193.7" r="0.55"/><circle cx="478.7" cy="204.4" r="0.55"/><circle cx="482.2" cy="202.6" r="0.55"/><circle cx="499.3" cy="207.2" r="0.55"/><circle cx="484.4" cy="203.1" r="0.55"/><circle cx="483.1" cy="212.8" r="0.55"/><circle cx="485.8" cy="212.4" r="0.55"/><circle cx="480.8" cy="211.5" r="0.55"/><circle cx="491.0" cy="220.9" r="0.55"/><circle cx="478.7" cy="215.9" r="0.55"/><circle cx="484.8" cy="212.9" r="0.55"/><circle cx="481.4" cy="207.6" r="0.55"/><circle cx="480.0" cy="209.8" r="0.55"/><circle cx="484.1" cy="204.5" r="0.55"/><circle cx="480.9" cy="199.1" r="0.55"/><circle cx="487.6" cy="203.5" r="0.55"/><circle cx="496.7" cy="210.7" r="0.55"/><circle cx="481.4" cy="219.0" r="0.55"/><circle cx="481.0" cy="213.0" r="0.55"/><circle cx="483.4" cy="208.1" r="0.55"/><circle cx="487.4" cy="212.4" r="0.55"/><circle cx="480.4" cy="211.4" r="0.55"/><circle cx="482.6" cy="215.0" r="0.55"/><circle cx="489.5" cy="209.7" r="0.55"/><circle cx="481.5" cy="198.6" r="0.55"/><circle cx="478.9" cy="207.9" r="0.55"/><circle cx="480.9" cy="213.6" r="0.55"/><circle cx="480.7" cy="214.5" r="0.55"/><circle cx="485.7" cy="208.7" r="0.55"/><circle cx="488.2" cy="209.7" r="0.55"/><circle cx="482.7" cy="218.6" r="0.55"/><circle cx="488.8" cy="219.9" r="0.55"/><circle cx="480.0" cy="222.0" r="0.55"/><circle cx="480.1" cy="207.8" r="0.55"/><circle cx="478.5" cy="219.5" r="0.55"/><circle cx="479.1" cy="203.6" r="0.55"/><circle cx="487.2" cy="212.5" r="0.55"/><circle cx="489.2" cy="202.7" r="0.55"/><circle cx="503.6" cy="204.7" r="0.55"/><circle cx="493.7" cy="220.8" r="0.55"/><circle cx="480.8" cy="208.1" r="0.55"/><circle cx="489.8" cy="202.8" r="0.55"/><circle cx="483.5" cy="210.9" r="0.55"/><circle cx="483.2" cy="216.1" r="0.55"/><circle cx="479.4" cy="219.9" r="0.55"/><circle cx="480.2" cy="202.1" r="0.55"/><circle cx="485.7" cy="210.0" r="0.55"/><circle cx="487.5" cy="208.6" r="0.55"/><circle cx="487.2" cy="210.4" r="0.55"/><circle cx="480.5" cy="214.4" r="0.55"/><circle cx="487.4" cy="200.5" r="0.55"/><circle cx="479.5" cy="214.2" r="0.55"/><circle cx="479.2" cy="204.7" r="0.55"/><circle cx="479.6" cy="222.0" r="0.55"/><circle cx="479.0" cy="212.0" r="0.55"/><circle cx="485.1" cy="208.8" r="0.55"/><circle cx="479.0" cy="212.1" r="0.55"/><circle cx="490.9" cy="219.9" r="0.55"/><circle cx="481.7" cy="210.3" r="0.55"/><circle cx="481.0" cy="212.3" r="0.55"/><circle cx="480.2" cy="214.2" r="0.55"/><circle cx="487.7" cy="202.0" r="0.55"/><circle cx="483.1" cy="210.7" r="0.55"/><circle cx="481.4" cy="208.8" r="0.55"/><circle cx="480.6" cy="209.9" r="0.55"/><circle cx="479.9" cy="221.5" r="0.55"/><circle cx="480.9" cy="209.4" r="0.55"/><circle cx="484.6" cy="223.2" r="0.55"/><circle cx="482.4" cy="201.8" r="0.55"/><circle cx="495.3" cy="219.9" r="0.55"/><circle cx="482.1" cy="200.8" r="0.55"/><circle cx="480.3" cy="207.0" r="0.55"/><circle cx="480.3" cy="217.5" r="0.55"/><circle cx="487.3" cy="215.6" r="0.55"/><circle cx="479.5" cy="195.2" r="0.55"/><circle cx="482.4" cy="219.2" r="0.55"/><circle cx="481.4" cy="218.5" r="0.55"/><circle cx="481.3" cy="201.1" r="0.55"/><circle cx="479.3" cy="205.5" r="0.55"/><circle cx="493.9" cy="203.3" r="0.55"/><circle cx="485.0" cy="208.9" r="0.55"/><circle cx="480.5" cy="218.6" r="0.55"/><circle cx="482.0" cy="198.7" r="0.55"/><circle cx="492.7" cy="213.5" r="0.55"/><circle cx="494.1" cy="195.4" r="0.55"/><circle cx="479.4" cy="214.1" r="0.55"/><circle cx="493.7" cy="203.0" r="0.55"/><circle cx="481.7" cy="202.3" r="0.55"/><circle cx="506.7" cy="221.2" r="0.55"/><circle cx="488.8" cy="213.0" r="0.55"/><circle cx="481.3" cy="213.7" r="0.55"/><circle cx="486.9" cy="207.7" r="0.55"/><circle cx="482.3" cy="208.3" r="0.55"/><circle cx="488.2" cy="213.3" r="0.55"/><circle cx="486.4" cy="225.4" r="0.55"/><circle cx="480.0" cy="220.7" r="0.55"/><circle cx="481.3" cy="205.0" r="0.55"/><circle cx="491.8" cy="215.0" r="0.55"/><circle cx="495.9" cy="206.8" r="0.55"/><circle cx="479.2" cy="207.7" r="0.55"/><circle cx="478.9" cy="204.1" r="0.55"/><circle cx="482.1" cy="210.8" r="0.55"/><circle cx="502.8" cy="205.3" r="0.55"/><circle cx="481.7" cy="214.6" r="0.55"/><circle cx="479.6" cy="219.4" r="0.55"/><circle cx="483.2" cy="208.6" r="0.55"/><circle cx="481.8" cy="211.7" r="0.55"/><circle cx="482.6" cy="216.9" r="0.55"/><circle cx="482.0" cy="219.4" r="0.55"/><circle cx="479.9" cy="210.9" r="0.55"/><circle cx="478.8" cy="215.0" r="0.55"/><circle cx="487.7" cy="215.9" r="0.55"/><circle cx="491.7" cy="211.8" r="0.55"/><circle cx="482.0" cy="222.1" r="0.55"/><circle cx="483.1" cy="209.9" r="0.55"/><circle cx="478.9" cy="211.6" r="0.55"/><circle cx="485.1" cy="209.3" r="0.55"/><circle cx="493.6" cy="205.3" r="0.55"/><circle cx="488.8" cy="210.5" r="0.55"/><circle cx="483.3" cy="213.7" r="0.55"/><circle cx="484.9" cy="211.8" r="0.55"/><circle cx="482.5" cy="213.5" r="0.55"/><circle cx="478.7" cy="211.3" r="0.55"/><circle cx="480.5" cy="203.5" r="0.55"/><circle cx="482.0" cy="212.1" r="0.55"/><circle cx="479.7" cy="215.7" r="0.55"/><circle cx="488.6" cy="202.1" r="0.55"/><circle cx="481.1" cy="214.5" r="0.55"/><circle cx="488.4" cy="204.0" r="0.55"/><circle cx="481.5" cy="206.8" r="0.55"/><circle cx="483.5" cy="217.5" r="0.55"/><circle cx="485.2" cy="226.5" r="0.55"/><circle cx="483.1" cy="209.9" r="0.55"/><circle cx="480.9" cy="209.7" r="0.55"/><circle cx="480.1" cy="212.4" r="0.55"/><circle cx="482.0" cy="210.9" r="0.55"/><circle cx="490.7" cy="213.0" r="0.55"/><circle cx="480.7" cy="202.5" r="0.55"/><circle cx="480.1" cy="210.4" r="0.55"/><circle cx="486.2" cy="206.5" r="0.55"/><circle cx="481.1" cy="212.3" r="0.55"/><circle cx="488.6" cy="203.4" r="0.55"/><circle cx="504.0" cy="197.2" r="0.55"/><circle cx="478.6" cy="224.2" r="0.55"/><circle cx="491.1" cy="218.4" r="0.55"/><circle cx="481.4" cy="213.2" r="0.55"/><circle cx="487.3" cy="209.7" r="0.55"/><circle cx="487.7" cy="215.0" r="0.55"/><circle cx="483.3" cy="211.9" r="0.55"/><circle cx="478.7" cy="205.0" r="0.55"/><circle cx="487.3" cy="212.6" r="0.55"/><circle cx="478.5" cy="218.6" r="0.55"/><circle cx="480.3" cy="206.7" r="0.55"/><circle cx="484.6" cy="202.7" r="0.55"/><circle cx="482.0" cy="210.8" r="0.55"/><circle cx="479.9" cy="203.0" r="0.55"/><circle cx="483.1" cy="203.7" r="0.55"/><circle cx="479.8" cy="206.3" r="0.55"/><circle cx="480.7" cy="210.3" r="0.55"/><circle cx="481.1" cy="214.0" r="0.55"/><circle cx="486.3" cy="208.1" r="0.55"/><circle cx="486.4" cy="209.6" r="0.55"/><circle cx="479.2" cy="212.0" r="0.55"/><circle cx="479.1" cy="208.6" r="0.55"/><circle cx="480.2" cy="207.1" r="0.55"/><circle cx="491.4" cy="210.5" r="0.55"/><circle cx="495.2" cy="208.6" r="0.55"/><circle cx="485.6" cy="221.2" r="0.55"/><circle cx="483.4" cy="211.2" r="0.55"/><circle cx="497.3" cy="225.2" r="0.55"/><circle cx="478.6" cy="209.4" r="0.55"/><circle cx="479.8" cy="216.5" r="0.55"/><circle cx="481.9" cy="212.8" r="0.55"/><circle cx="489.3" cy="210.3" r="0.55"/><circle cx="480.7" cy="224.6" r="0.55"/><circle cx="480.4" cy="212.9" r="0.55"/><circle cx="479.9" cy="216.2" r="0.55"/><circle cx="479.3" cy="215.8" r="0.55"/><circle cx="479.7" cy="211.9" r="0.55"/><circle cx="482.0" cy="219.6" r="0.55"/><circle cx="480.7" cy="201.6" r="0.55"/><circle cx="486.2" cy="209.7" r="0.55"/><circle cx="481.0" cy="221.0" r="0.55"/><circle cx="483.5" cy="206.4" r="0.55"/><circle cx="482.4" cy="210.1" r="0.55"/><circle cx="491.5" cy="213.8" r="0.55"/><circle cx="484.1" cy="222.7" r="0.55"/><circle cx="491.6" cy="218.9" r="0.55"/><circle cx="478.7" cy="210.6" r="0.55"/><circle cx="483.1" cy="207.4" r="0.55"/><circle cx="489.3" cy="207.0" r="0.55"/><circle cx="485.1" cy="217.2" r="0.55"/><circle cx="479.8" cy="207.5" r="0.55"/><circle cx="502.8" cy="205.6" r="0.55"/><circle cx="479.7" cy="211.5" r="0.55"/><circle cx="480.4" cy="210.2" r="0.55"/><circle cx="479.3" cy="216.3" r="0.55"/><circle cx="479.7" cy="217.8" r="0.55"/><circle cx="488.0" cy="218.1" r="0.55"/><circle cx="490.3" cy="215.8" r="0.55"/><circle cx="479.3" cy="214.0" r="0.55"/><circle cx="482.3" cy="221.7" r="0.55"/><circle cx="494.6" cy="207.5" r="0.55"/><circle cx="497.5" cy="215.6" r="0.55"/><circle cx="481.0" cy="224.1" r="0.55"/><circle cx="479.8" cy="209.2" r="0.55"/><circle cx="483.2" cy="214.4" r="0.55"/><circle cx="489.8" cy="210.0" r="0.55"/><circle cx="487.4" cy="211.3" r="0.55"/><circle cx="479.1" cy="203.8" r="0.55"/><circle cx="497.6" cy="218.9" r="0.55"/><circle cx="486.2" cy="217.7" r="0.55"/><circle cx="480.8" cy="209.4" r="0.55"/><circle cx="486.8" cy="205.7" r="0.55"/><circle cx="478.8" cy="217.4" r="0.55"/><circle cx="488.3" cy="208.8" r="0.55"/><circle cx="482.3" cy="213.6" r="0.55"/><circle cx="483.2" cy="206.9" r="0.55"/><circle cx="478.7" cy="209.6" r="0.55"/><circle cx="490.3" cy="211.2" r="0.55"/><circle cx="485.3" cy="197.0" r="0.55"/><circle cx="496.1" cy="218.0" r="0.55"/><circle cx="497.3" cy="218.6" r="0.55"/><circle cx="486.3" cy="216.0" r="0.55"/><circle cx="484.1" cy="225.1" r="0.55"/><circle cx="482.0" cy="213.1" r="0.55"/><circle cx="483.9" cy="213.5" r="0.55"/><circle cx="478.7" cy="207.6" r="0.55"/><circle cx="493.9" cy="210.5" r="0.55"/><circle cx="479.4" cy="213.7" r="0.55"/><circle cx="479.5" cy="207.8" r="0.55"/><circle cx="492.2" cy="206.9" r="0.55"/><circle cx="479.3" cy="205.1" r="0.55"/><circle cx="481.7" cy="212.2" r="0.55"/><circle cx="481.8" cy="211.6" r="0.55"/><circle cx="478.9" cy="214.8" r="0.55"/><circle cx="496.9" cy="210.5" r="0.55"/><circle cx="489.5" cy="210.9" r="0.55"/><circle cx="485.6" cy="209.7" r="0.55"/><circle cx="482.6" cy="208.3" r="0.55"/><circle cx="482.8" cy="211.8" r="0.55"/><circle cx="488.2" cy="219.5" r="0.55"/><circle cx="481.8" cy="220.8" r="0.55"/><circle cx="480.4" cy="212.3" r="0.55"/><circle cx="484.8" cy="218.1" r="0.55"/><circle cx="483.6" cy="217.1" r="0.55"/><circle cx="482.8" cy="207.1" r="0.55"/><circle cx="505.5" cy="210.1" r="0.55"/><circle cx="480.9" cy="212.9" r="0.55"/><circle cx="480.8" cy="216.3" r="0.55"/><circle cx="478.7" cy="216.4" r="0.55"/><circle cx="493.7" cy="198.5" r="0.55"/><circle cx="485.7" cy="212.6" r="0.55"/><circle cx="486.4" cy="211.6" r="0.55"/><circle cx="486.3" cy="206.3" r="0.55"/><circle cx="479.9" cy="204.3" r="0.55"/><circle cx="487.5" cy="208.6" r="0.55"/><circle cx="479.6" cy="205.7" r="0.55"/><circle cx="488.3" cy="220.5" r="0.55"/><circle cx="501.4" cy="213.2" r="0.55"/><circle cx="479.2" cy="214.7" r="0.55"/><circle cx="486.2" cy="211.1" r="0.55"/><circle cx="487.6" cy="202.6" r="0.55"/><circle cx="482.9" cy="199.2" r="0.55"/><circle cx="484.8" cy="206.3" r="0.55"/><circle cx="484.9" cy="205.5" r="0.55"/><circle cx="487.0" cy="207.6" r="0.55"/><circle cx="483.6" cy="215.9" r="0.55"/><circle cx="481.8" cy="216.3" r="0.55"/><circle cx="481.9" cy="206.5" r="0.55"/><circle cx="481.5" cy="209.6" r="0.55"/><circle cx="481.8" cy="200.7" r="0.55"/><circle cx="479.1" cy="223.5" r="0.55"/><circle cx="478.6" cy="210.9" r="0.55"/><circle cx="482.1" cy="205.8" r="0.55"/><circle cx="483.9" cy="208.6" r="0.55"/><circle cx="478.6" cy="215.3" r="0.55"/><circle cx="490.9" cy="215.6" r="0.55"/><circle cx="482.3" cy="209.9" r="0.55"/><circle cx="480.8" cy="223.6" r="0.55"/><circle cx="489.4" cy="215.7" r="0.55"/><circle cx="480.2" cy="211.6" r="0.55"/><circle cx="488.1" cy="220.5" r="0.55"/><circle cx="482.3" cy="208.4" r="0.55"/><circle cx="488.1" cy="214.1" r="0.55"/><circle cx="490.5" cy="212.9" r="0.55"/><circle cx="483.9" cy="209.3" r="0.55"/><circle cx="503.8" cy="208.5" r="0.55"/><circle cx="479.4" cy="205.4" r="0.55"/><circle cx="478.9" cy="211.7" r="0.55"/><circle cx="488.4" cy="209.0" r="0.55"/><circle cx="485.1" cy="199.0" r="0.55"/><circle cx="494.7" cy="212.8" r="0.55"/><circle cx="484.3" cy="218.0" r="0.55"/><circle cx="481.8" cy="216.4" r="0.55"/><circle cx="480.2" cy="220.6" r="0.55"/><circle cx="479.3" cy="207.7" r="0.55"/><circle cx="480.1" cy="207.6" r="0.55"/><circle cx="480.9" cy="218.3" r="0.55"/><circle cx="482.0" cy="213.2" r="0.55"/><circle cx="486.1" cy="207.9" r="0.55"/><circle cx="480.9" cy="225.7" r="0.55"/><circle cx="480.9" cy="206.8" r="0.55"/><circle cx="484.1" cy="216.3" r="0.55"/><circle cx="484.4" cy="215.5" r="0.55"/><circle cx="484.6" cy="210.6" r="0.55"/><circle cx="479.3" cy="213.3" r="0.55"/><circle cx="483.4" cy="214.0" r="0.55"/><circle cx="484.3" cy="216.0" r="0.55"/><circle cx="492.4" cy="206.3" r="0.55"/><circle cx="483.8" cy="211.1" r="0.55"/><circle cx="480.4" cy="212.5" r="0.55"/><circle cx="480.3" cy="208.4" r="0.55"/></g>
<g fill="#6a6aa8" opacity="0.32"><circle cx="490.2" cy="212.0" r="0.5"/><circle cx="484.4" cy="207.9" r="0.5"/><circle cx="483.3" cy="210.9" r="0.5"/><circle cx="489.0" cy="214.2" r="0.5"/><circle cx="503.8" cy="203.0" r="0.5"/><circle cx="489.1" cy="212.9" r="0.5"/><circle cx="504.8" cy="212.8" r="0.5"/><circle cx="485.6" cy="216.3" r="0.5"/><circle cx="499.3" cy="207.6" r="0.5"/><circle cx="488.7" cy="209.0" r="0.5"/><circle cx="488.1" cy="207.5" r="0.5"/><circle cx="493.0" cy="203.2" r="0.5"/><circle cx="484.7" cy="211.9" r="0.5"/><circle cx="499.3" cy="213.0" r="0.5"/><circle cx="493.5" cy="217.7" r="0.5"/><circle cx="490.1" cy="209.4" r="0.5"/><circle cx="482.1" cy="209.7" r="0.5"/><circle cx="508.7" cy="211.6" r="0.5"/><circle cx="493.8" cy="207.0" r="0.5"/><circle cx="486.5" cy="213.2" r="0.5"/><circle cx="486.3" cy="204.0" r="0.5"/><circle cx="505.9" cy="216.0" r="0.5"/><circle cx="500.2" cy="214.5" r="0.5"/><circle cx="482.9" cy="204.5" r="0.5"/><circle cx="481.7" cy="212.1" r="0.5"/><circle cx="493.0" cy="212.7" r="0.5"/><circle cx="508.6" cy="202.8" r="0.5"/><circle cx="485.4" cy="206.7" r="0.5"/><circle cx="481.8" cy="204.9" r="0.5"/><circle cx="483.0" cy="220.5" r="0.5"/><circle cx="497.9" cy="201.5" r="0.5"/><circle cx="486.6" cy="218.6" r="0.5"/><circle cx="482.7" cy="213.0" r="0.5"/><circle cx="497.5" cy="206.8" r="0.5"/><circle cx="486.1" cy="205.5" r="0.5"/><circle cx="482.5" cy="211.5" r="0.5"/><circle cx="496.2" cy="208.6" r="0.5"/><circle cx="487.9" cy="211.7" r="0.5"/><circle cx="485.6" cy="213.6" r="0.5"/><circle cx="498.1" cy="215.3" r="0.5"/><circle cx="492.4" cy="213.9" r="0.5"/><circle cx="482.9" cy="220.0" r="0.5"/><circle cx="484.1" cy="210.1" r="0.5"/><circle cx="491.4" cy="215.8" r="0.5"/><circle cx="493.9" cy="207.3" r="0.5"/><circle cx="491.1" cy="197.7" r="0.5"/><circle cx="481.7" cy="210.5" r="0.5"/><circle cx="487.1" cy="208.6" r="0.5"/><circle cx="483.5" cy="202.1" r="0.5"/><circle cx="483.2" cy="204.1" r="0.5"/><circle cx="486.6" cy="214.5" r="0.5"/><circle cx="482.8" cy="203.1" r="0.5"/><circle cx="499.6" cy="210.1" r="0.5"/><circle cx="483.7" cy="204.4" r="0.5"/><circle cx="498.2" cy="207.4" r="0.5"/><circle cx="483.9" cy="212.4" r="0.5"/><circle cx="489.2" cy="213.1" r="0.5"/><circle cx="493.8" cy="212.9" r="0.5"/><circle cx="493.9" cy="200.9" r="0.5"/><circle cx="482.5" cy="215.5" r="0.5"/><circle cx="487.4" cy="219.5" r="0.5"/><circle cx="504.2" cy="198.7" r="0.5"/><circle cx="494.6" cy="206.8" r="0.5"/><circle cx="483.0" cy="209.8" r="0.5"/><circle cx="487.2" cy="203.8" r="0.5"/><circle cx="482.7" cy="213.6" r="0.5"/><circle cx="500.6" cy="211.2" r="0.5"/><circle cx="487.1" cy="215.2" r="0.5"/><circle cx="499.9" cy="215.9" r="0.5"/><circle cx="488.4" cy="207.6" r="0.5"/><circle cx="509.5" cy="210.4" r="0.5"/><circle cx="490.9" cy="211.1" r="0.5"/><circle cx="487.2" cy="204.9" r="0.5"/><circle cx="492.5" cy="208.8" r="0.5"/><circle cx="488.0" cy="198.1" r="0.5"/><circle cx="499.9" cy="199.5" r="0.5"/><circle cx="503.8" cy="214.4" r="0.5"/><circle cx="494.0" cy="206.1" r="0.5"/><circle cx="506.8" cy="207.1" r="0.5"/><circle cx="484.5" cy="211.9" r="0.5"/><circle cx="493.0" cy="211.5" r="0.5"/><circle cx="493.9" cy="203.5" r="0.5"/><circle cx="494.0" cy="207.6" r="0.5"/><circle cx="482.5" cy="212.1" r="0.5"/><circle cx="483.4" cy="208.6" r="0.5"/><circle cx="498.9" cy="202.3" r="0.5"/><circle cx="499.9" cy="200.8" r="0.5"/><circle cx="485.3" cy="209.9" r="0.5"/><circle cx="505.1" cy="212.0" r="0.5"/><circle cx="504.5" cy="213.7" r="0.5"/><circle cx="483.7" cy="198.1" r="0.5"/><circle cx="503.0" cy="206.2" r="0.5"/><circle cx="489.1" cy="205.0" r="0.5"/><circle cx="505.4" cy="206.1" r="0.5"/><circle cx="502.1" cy="204.1" r="0.5"/><circle cx="491.7" cy="210.7" r="0.5"/><circle cx="499.5" cy="201.8" r="0.5"/><circle cx="507.1" cy="210.1" r="0.5"/><circle cx="493.1" cy="209.7" r="0.5"/><circle cx="501.0" cy="197.7" r="0.5"/><circle cx="483.6" cy="210.5" r="0.5"/><circle cx="487.6" cy="207.2" r="0.5"/><circle cx="488.5" cy="199.4" r="0.5"/><circle cx="483.1" cy="208.5" r="0.5"/><circle cx="482.3" cy="205.5" r="0.5"/><circle cx="485.8" cy="207.5" r="0.5"/><circle cx="490.5" cy="219.9" r="0.5"/><circle cx="494.1" cy="204.5" r="0.5"/><circle cx="495.8" cy="210.4" r="0.5"/><circle cx="487.8" cy="223.0" r="0.5"/><circle cx="501.8" cy="206.2" r="0.5"/><circle cx="509.0" cy="210.3" r="0.5"/><circle cx="487.8" cy="210.7" r="0.5"/><circle cx="483.2" cy="195.6" r="0.5"/><circle cx="481.4" cy="213.8" r="0.5"/><circle cx="486.1" cy="215.9" r="0.5"/><circle cx="486.7" cy="211.9" r="0.5"/><circle cx="498.9" cy="201.7" r="0.5"/><circle cx="486.7" cy="206.8" r="0.5"/><circle cx="502.2" cy="205.1" r="0.5"/><circle cx="491.2" cy="201.1" r="0.5"/><circle cx="491.0" cy="208.8" r="0.5"/><circle cx="491.0" cy="210.7" r="0.5"/><circle cx="496.3" cy="213.0" r="0.5"/><circle cx="484.1" cy="203.9" r="0.5"/><circle cx="486.1" cy="208.4" r="0.5"/><circle cx="482.9" cy="194.0" r="0.5"/><circle cx="481.1" cy="206.9" r="0.5"/><circle cx="495.6" cy="212.9" r="0.5"/><circle cx="482.9" cy="212.6" r="0.5"/><circle cx="487.4" cy="208.3" r="0.5"/><circle cx="495.2" cy="209.8" r="0.5"/><circle cx="493.5" cy="207.2" r="0.5"/><circle cx="502.1" cy="221.2" r="0.5"/><circle cx="482.8" cy="208.6" r="0.5"/><circle cx="488.5" cy="216.2" r="0.5"/><circle cx="485.7" cy="222.8" r="0.5"/><circle cx="485.9" cy="211.7" r="0.5"/><circle cx="494.2" cy="204.3" r="0.5"/><circle cx="508.5" cy="204.8" r="0.5"/><circle cx="481.3" cy="198.5" r="0.5"/><circle cx="485.7" cy="216.2" r="0.5"/><circle cx="488.3" cy="205.9" r="0.5"/><circle cx="500.7" cy="206.4" r="0.5"/><circle cx="497.9" cy="218.9" r="0.5"/><circle cx="482.2" cy="216.9" r="0.5"/><circle cx="500.1" cy="206.7" r="0.5"/><circle cx="482.3" cy="212.4" r="0.5"/><circle cx="506.3" cy="202.2" r="0.5"/><circle cx="486.1" cy="206.6" r="0.5"/><circle cx="492.7" cy="217.9" r="0.5"/><circle cx="498.7" cy="207.5" r="0.5"/><circle cx="484.6" cy="210.5" r="0.5"/><circle cx="493.3" cy="208.1" r="0.5"/><circle cx="494.7" cy="216.4" r="0.5"/><circle cx="490.3" cy="219.1" r="0.5"/><circle cx="484.3" cy="203.5" r="0.5"/><circle cx="490.0" cy="213.2" r="0.5"/><circle cx="481.0" cy="217.3" r="0.5"/><circle cx="483.3" cy="214.6" r="0.5"/><circle cx="485.7" cy="213.5" r="0.5"/><circle cx="484.1" cy="219.0" r="0.5"/><circle cx="495.6" cy="209.1" r="0.5"/><circle cx="488.3" cy="215.2" r="0.5"/><circle cx="485.3" cy="210.3" r="0.5"/><circle cx="495.2" cy="212.6" r="0.5"/><circle cx="482.2" cy="209.4" r="0.5"/><circle cx="500.0" cy="211.5" r="0.5"/><circle cx="490.3" cy="211.7" r="0.5"/><circle cx="491.3" cy="213.5" r="0.5"/><circle cx="483.8" cy="202.8" r="0.5"/><circle cx="487.3" cy="214.4" r="0.5"/><circle cx="506.5" cy="209.0" r="0.5"/><circle cx="496.8" cy="211.1" r="0.5"/><circle cx="490.7" cy="211.5" r="0.5"/><circle cx="502.9" cy="207.0" r="0.5"/><circle cx="498.7" cy="206.6" r="0.5"/><circle cx="496.1" cy="210.9" r="0.5"/><circle cx="503.7" cy="202.1" r="0.5"/><circle cx="499.5" cy="209.6" r="0.5"/><circle cx="496.0" cy="205.7" r="0.5"/><circle cx="491.0" cy="210.8" r="0.5"/><circle cx="493.8" cy="223.2" r="0.5"/><circle cx="494.0" cy="198.2" r="0.5"/><circle cx="487.4" cy="210.8" r="0.5"/><circle cx="502.5" cy="215.9" r="0.5"/><circle cx="485.6" cy="202.0" r="0.5"/><circle cx="488.9" cy="190.0" r="0.5"/><circle cx="484.6" cy="200.8" r="0.5"/><circle cx="482.1" cy="223.0" r="0.5"/><circle cx="486.8" cy="200.5" r="0.5"/><circle cx="496.9" cy="210.1" r="0.5"/><circle cx="482.2" cy="209.6" r="0.5"/><circle cx="481.6" cy="208.8" r="0.5"/><circle cx="492.9" cy="209.6" r="0.5"/><circle cx="497.0" cy="211.9" r="0.5"/><circle cx="489.5" cy="219.7" r="0.5"/><circle cx="493.5" cy="215.0" r="0.5"/><circle cx="485.9" cy="209.7" r="0.5"/><circle cx="485.6" cy="209.1" r="0.5"/><circle cx="487.2" cy="214.3" r="0.5"/><circle cx="481.6" cy="205.6" r="0.5"/><circle cx="486.7" cy="201.8" r="0.5"/><circle cx="482.8" cy="203.5" r="0.5"/><circle cx="505.2" cy="202.9" r="0.5"/><circle cx="489.7" cy="213.6" r="0.5"/><circle cx="490.2" cy="221.6" r="0.5"/><circle cx="502.3" cy="207.4" r="0.5"/><circle cx="481.6" cy="207.1" r="0.5"/><circle cx="509.4" cy="204.1" r="0.5"/><circle cx="487.0" cy="202.6" r="0.5"/><circle cx="486.0" cy="215.6" r="0.5"/><circle cx="481.3" cy="206.7" r="0.5"/><circle cx="487.7" cy="208.3" r="0.5"/><circle cx="489.6" cy="208.8" r="0.5"/><circle cx="482.9" cy="208.3" r="0.5"/><circle cx="505.9" cy="198.1" r="0.5"/><circle cx="506.1" cy="208.6" r="0.5"/><circle cx="482.6" cy="210.5" r="0.5"/><circle cx="485.3" cy="203.8" r="0.5"/><circle cx="481.0" cy="213.3" r="0.5"/><circle cx="506.9" cy="212.7" r="0.5"/><circle cx="494.9" cy="218.3" r="0.5"/><circle cx="485.1" cy="214.2" r="0.5"/><circle cx="487.3" cy="200.6" r="0.5"/><circle cx="482.0" cy="223.7" r="0.5"/><circle cx="490.1" cy="222.4" r="0.5"/><circle cx="492.0" cy="222.8" r="0.5"/><circle cx="500.4" cy="199.1" r="0.5"/><circle cx="487.6" cy="208.3" r="0.5"/><circle cx="489.5" cy="209.0" r="0.5"/><circle cx="486.9" cy="214.7" r="0.5"/><circle cx="494.6" cy="201.6" r="0.5"/><circle cx="489.4" cy="207.3" r="0.5"/><circle cx="482.6" cy="209.0" r="0.5"/><circle cx="487.0" cy="210.8" r="0.5"/><circle cx="501.2" cy="209.6" r="0.5"/><circle cx="502.0" cy="205.5" r="0.5"/><circle cx="501.5" cy="205.9" r="0.5"/><circle cx="509.0" cy="204.9" r="0.5"/><circle cx="494.3" cy="206.2" r="0.5"/><circle cx="489.0" cy="209.0" r="0.5"/><circle cx="497.0" cy="211.8" r="0.5"/><circle cx="485.9" cy="208.2" r="0.5"/><circle cx="492.4" cy="213.4" r="0.5"/><circle cx="493.4" cy="210.7" r="0.5"/><circle cx="491.5" cy="215.2" r="0.5"/><circle cx="497.2" cy="204.8" r="0.5"/><circle cx="495.1" cy="210.0" r="0.5"/><circle cx="481.0" cy="204.9" r="0.5"/><circle cx="482.9" cy="207.1" r="0.5"/><circle cx="485.0" cy="208.1" r="0.5"/><circle cx="481.3" cy="207.5" r="0.5"/><circle cx="491.9" cy="213.4" r="0.5"/><circle cx="488.7" cy="209.5" r="0.5"/><circle cx="484.7" cy="214.0" r="0.5"/><circle cx="485.5" cy="209.7" r="0.5"/><circle cx="487.3" cy="205.0" r="0.5"/><circle cx="487.3" cy="212.2" r="0.5"/><circle cx="481.3" cy="214.7" r="0.5"/><circle cx="491.9" cy="201.4" r="0.5"/><circle cx="481.0" cy="211.2" r="0.5"/><circle cx="490.8" cy="221.0" r="0.5"/><circle cx="484.7" cy="214.6" r="0.5"/><circle cx="483.1" cy="199.3" r="0.5"/><circle cx="492.1" cy="206.6" r="0.5"/><circle cx="487.2" cy="208.5" r="0.5"/><circle cx="496.4" cy="205.2" r="0.5"/><circle cx="496.5" cy="201.9" r="0.5"/><circle cx="488.6" cy="210.3" r="0.5"/><circle cx="504.5" cy="206.9" r="0.5"/><circle cx="484.0" cy="207.7" r="0.5"/><circle cx="508.4" cy="210.5" r="0.5"/><circle cx="485.8" cy="202.3" r="0.5"/><circle cx="485.3" cy="206.0" r="0.5"/><circle cx="488.7" cy="217.3" r="0.5"/><circle cx="484.3" cy="215.5" r="0.5"/><circle cx="483.3" cy="208.4" r="0.5"/><circle cx="497.2" cy="216.4" r="0.5"/><circle cx="492.9" cy="214.6" r="0.5"/><circle cx="484.8" cy="202.4" r="0.5"/><circle cx="493.2" cy="211.0" r="0.5"/><circle cx="483.5" cy="213.4" r="0.5"/><circle cx="482.3" cy="203.1" r="0.5"/><circle cx="498.1" cy="217.9" r="0.5"/><circle cx="482.5" cy="211.3" r="0.5"/><circle cx="493.1" cy="216.3" r="0.5"/><circle cx="481.4" cy="215.9" r="0.5"/><circle cx="495.7" cy="212.8" r="0.5"/><circle cx="482.3" cy="210.5" r="0.5"/><circle cx="495.2" cy="204.8" r="0.5"/><circle cx="493.1" cy="201.9" r="0.5"/><circle cx="489.1" cy="220.6" r="0.5"/><circle cx="489.8" cy="199.1" r="0.5"/><circle cx="504.5" cy="199.6" r="0.5"/><circle cx="497.3" cy="206.6" r="0.5"/><circle cx="484.9" cy="208.0" r="0.5"/><circle cx="494.4" cy="205.2" r="0.5"/><circle cx="505.3" cy="209.5" r="0.5"/><circle cx="485.0" cy="208.1" r="0.5"/><circle cx="489.9" cy="203.1" r="0.5"/><circle cx="500.6" cy="205.8" r="0.5"/><circle cx="506.7" cy="207.2" r="0.5"/><circle cx="491.9" cy="217.3" r="0.5"/><circle cx="481.4" cy="211.7" r="0.5"/><circle cx="491.2" cy="204.6" r="0.5"/><circle cx="482.8" cy="208.9" r="0.5"/><circle cx="491.6" cy="212.2" r="0.5"/><circle cx="490.4" cy="210.7" r="0.5"/><circle cx="487.8" cy="202.7" r="0.5"/><circle cx="488.9" cy="209.4" r="0.5"/><circle cx="483.3" cy="216.8" r="0.5"/><circle cx="486.3" cy="206.7" r="0.5"/><circle cx="502.7" cy="212.1" r="0.5"/><circle cx="491.9" cy="209.3" r="0.5"/><circle cx="483.3" cy="209.3" r="0.5"/><circle cx="484.7" cy="205.9" r="0.5"/><circle cx="488.8" cy="213.5" r="0.5"/><circle cx="497.4" cy="200.1" r="0.5"/><circle cx="487.5" cy="203.7" r="0.5"/><circle cx="481.6" cy="216.5" r="0.5"/><circle cx="495.0" cy="207.1" r="0.5"/><circle cx="482.1" cy="209.7" r="0.5"/><circle cx="497.5" cy="203.4" r="0.5"/><circle cx="486.3" cy="214.2" r="0.5"/><circle cx="486.2" cy="207.0" r="0.5"/><circle cx="491.7" cy="213.5" r="0.5"/><circle cx="506.4" cy="210.5" r="0.5"/><circle cx="482.3" cy="201.6" r="0.5"/><circle cx="501.0" cy="213.3" r="0.5"/><circle cx="506.2" cy="216.5" r="0.5"/><circle cx="488.1" cy="217.2" r="0.5"/><circle cx="507.9" cy="196.4" r="0.5"/><circle cx="491.4" cy="211.2" r="0.5"/><circle cx="485.8" cy="213.4" r="0.5"/><circle cx="481.8" cy="215.2" r="0.5"/><circle cx="483.9" cy="214.8" r="0.5"/><circle cx="483.6" cy="203.7" r="0.5"/><circle cx="482.8" cy="210.6" r="0.5"/><circle cx="485.9" cy="217.4" r="0.5"/><circle cx="492.4" cy="204.9" r="0.5"/><circle cx="496.0" cy="217.5" r="0.5"/><circle cx="495.4" cy="198.4" r="0.5"/><circle cx="481.8" cy="212.2" r="0.5"/><circle cx="485.4" cy="207.3" r="0.5"/><circle cx="483.4" cy="202.6" r="0.5"/><circle cx="490.9" cy="208.7" r="0.5"/><circle cx="491.2" cy="214.7" r="0.5"/><circle cx="493.3" cy="215.8" r="0.5"/><circle cx="486.9" cy="216.1" r="0.5"/><circle cx="490.6" cy="211.5" r="0.5"/><circle cx="485.7" cy="209.2" r="0.5"/><circle cx="483.4" cy="197.9" r="0.5"/><circle cx="492.3" cy="220.4" r="0.5"/><circle cx="490.6" cy="206.9" r="0.5"/><circle cx="482.8" cy="203.5" r="0.5"/><circle cx="505.6" cy="209.8" r="0.5"/></g>
<g filter="url(#bl2)"><ellipse cx="471.6" cy="214.0" rx="4.5" ry="8.0" fill="#8ab0d8" opacity="0.55" transform="rotate(0 471.6 214.0)"/><path d="M466.5,232 L466.5,211 Q466.5,204.2 471.8,204.2 Q477,204.2 477,211 L477,232" fill="none" stroke="#38a850" stroke-width="4.2" opacity="0.9"/><path d="M468.8,232 L468.8,212 Q468.8,207.8 471.8,207.8 Q474.8,207.8 474.8,212 L474.8,232" fill="none" stroke="#3068b0" stroke-width="2.0" opacity="0.85"/><ellipse cx="471.6" cy="226.0" rx="1.6" ry="6.0" fill="#3a5aa8" opacity="0.8" transform="rotate(0 471.6 226.0)"/><ellipse cx="476.5" cy="225.0" rx="2.5" ry="6.0" fill="#48b050" opacity="0.7" transform="rotate(0 476.5 225.0)"/><ellipse cx="466.4" cy="226.8" rx="1.6" ry="3.2" fill="#d8d820" opacity="1" transform="rotate(0 466.4 226.8)"/></g>
<rect x="463.30" y="198.40" width="15.70" height="19.20" fill="none" stroke="#555" stroke-width="0.7"/>
<rect x="462.30" y="217.60" width="8.20" height="15.40" fill="none" stroke="#555" stroke-width="0.7"/>
<rect x="470.50" y="217.60" width="8.50" height="15.40" fill="none" stroke="#555" stroke-width="0.7"/>
<text x="452.00" y="181.65" font-size="6.0" textLength="42.80" lengthAdjust="spacingAndGlyphs" fill="#2a2a2a">ELDR-C7-HS-5</text>
<text x="461.90" y="197.33" font-size="6.5" textLength="19.30" lengthAdjust="spacingAndGlyphs" fill="#2a2a2a">S: 23.0</text>
<text x="458.50" y="239.33" font-size="6.5" textLength="23.40" lengthAdjust="spacingAndGlyphs" fill="#2a2a2a">G1: 44.9</text>
<text x="481.20" y="233.63" font-size="6.5" textLength="28.80" lengthAdjust="spacingAndGlyphs" fill="#2a2a2a">G2M: 16.9</text>
<text x="445.90" y="194.43" font-size="6.8" text-anchor="end" fill="#333">10<tspan font-size="4" dy="-2.2">5</tspan></text>
<text x="445.90" y="207.43" font-size="6.8" text-anchor="end" fill="#333">10<tspan font-size="4" dy="-2.2">4</tspan></text>
<text x="445.90" y="224.43" font-size="6.8" text-anchor="end" fill="#333">10<tspan font-size="4" dy="-2.2">3</tspan></text>
<text x="445.90" y="234.03" font-size="6.8" text-anchor="end" fill="#333">0</text>
<text x="445.90" y="243.93" font-size="6.8" text-anchor="end" fill="#333">−10<tspan font-size="4" dy="-2.2">3</tspan></text>
<line x1="450.70" y1="190.50" x2="450.70" y2="194.50" stroke="#222" stroke-width="1.2"/>
<line x1="450.70" y1="203.50" x2="450.70" y2="207.50" stroke="#222" stroke-width="1.2"/>
<line x1="450.70" y1="217.50" x2="450.70" y2="223.50" stroke="#222" stroke-width="1.2"/>
<line x1="450.70" y1="236.50" x2="450.70" y2="243.50" stroke="#222" stroke-width="1.2"/>
<line x1="449.50" y1="192.00" x2="451.70" y2="192.00" stroke="#222" stroke-width="0.9"/>
<line x1="449.50" y1="205.00" x2="451.70" y2="205.00" stroke="#222" stroke-width="0.9"/>
<line x1="449.50" y1="222.00" x2="451.70" y2="222.00" stroke="#222" stroke-width="0.9"/>
<line x1="449.50" y1="241.50" x2="451.70" y2="241.50" stroke="#222" stroke-width="0.9"/>
<rect x="449.10" y="229.60" width="2.60" height="4.00" fill="#000"/>
<line x1="459.70" y1="245.00" x2="459.70" y2="247.20" stroke="#333" stroke-width="0.7"/>
<line x1="463.80" y1="245.00" x2="463.80" y2="246.40" stroke="#333" stroke-width="0.7"/>
<line x1="467.90" y1="245.00" x2="467.90" y2="246.40" stroke="#333" stroke-width="0.7"/>
<line x1="472.00" y1="245.00" x2="472.00" y2="246.40" stroke="#333" stroke-width="0.7"/>
<line x1="476.10" y1="245.00" x2="476.10" y2="246.40" stroke="#333" stroke-width="0.7"/>
<line x1="480.20" y1="245.00" x2="480.20" y2="246.40" stroke="#333" stroke-width="0.7"/>
<line x1="484.30" y1="245.00" x2="484.30" y2="247.20" stroke="#333" stroke-width="0.7"/>
<line x1="488.40" y1="245.00" x2="488.40" y2="246.40" stroke="#333" stroke-width="0.7"/>
<line x1="492.50" y1="245.00" x2="492.50" y2="246.40" stroke="#333" stroke-width="0.7"/>
<line x1="496.60" y1="245.00" x2="496.60" y2="246.40" stroke="#333" stroke-width="0.7"/>
<line x1="500.70" y1="245.00" x2="500.70" y2="246.40" stroke="#333" stroke-width="0.7"/>
<line x1="504.80" y1="245.00" x2="504.80" y2="246.40" stroke="#333" stroke-width="0.7"/>
<line x1="508.90" y1="245.00" x2="508.90" y2="247.20" stroke="#333" stroke-width="0.7"/>
<text x="460.00" y="257.26" font-size="6.3" text-anchor="middle" fill="#333">0</text>
<text x="484.70" y="257.26" font-size="6.3" text-anchor="middle" fill="#333">2.0K</text>
<text x="509.20" y="257.26" font-size="6.3" text-anchor="middle" fill="#333">4.0K</text>
<text x="271.50" y="171.68" font-size="8.6" text-anchor="middle" textLength="21.00" lengthAdjust="spacingAndGlyphs" fill="#222">THP-1</text>
<text x="438.70" y="171.68" font-size="8.6" text-anchor="middle" textLength="43.40" lengthAdjust="spacingAndGlyphs" fill="#222">Mono-Mac-1</text>
<text x="0" y="2.51" font-size="7.0" text-anchor="middle" textLength="7.80" lengthAdjust="spacingAndGlyphs" fill="#222" stroke="#222" stroke-width="0.12" transform="translate(178.40,214.00) rotate(-90)">EdU</text>
<text x="356.00" y="267.94" font-size="8.2" text-anchor="middle" font-weight="bold" textLength="12.00" lengthAdjust="spacingAndGlyphs" fill="#2a2a2a">DAPI</text>
<line x1="35.50" y1="307.80" x2="35.50" y2="376.90" stroke="#333" stroke-width="1.3"/>
<line x1="34.90" y1="376.30" x2="88.70" y2="376.30" stroke="#2a2a2a" stroke-width="1.25"/>
<line x1="31.90" y1="376.30" x2="35.50" y2="376.30" stroke="#2a2a2a" stroke-width="1.0"/>
<text x="30.10" y="378.77" font-size="6.9" text-anchor="end" fill="#444">0</text>
<line x1="31.90" y1="354.10" x2="35.50" y2="354.10" stroke="#2a2a2a" stroke-width="1.0"/>
<text x="30.10" y="356.57" font-size="6.9" text-anchor="end" fill="#444">20</text>
<line x1="31.90" y1="331.90" x2="35.50" y2="331.90" stroke="#2a2a2a" stroke-width="1.0"/>
<text x="30.10" y="334.37" font-size="6.9" text-anchor="end" fill="#444">40</text>
<line x1="31.90" y1="309.70" x2="35.50" y2="309.70" stroke="#2a2a2a" stroke-width="1.0"/>
<text x="30.10" y="312.17" font-size="6.9" text-anchor="end" fill="#444">60</text>
<line x1="49.40" y1="376.30" x2="49.40" y2="378.70" stroke="#2a2a2a" stroke-width="1.0"/>
<text x="49.40" y="387.79" font-size="6.4" text-anchor="middle" fill="#2a2a2a">NM</text>
<line x1="74.00" y1="376.30" x2="74.00" y2="378.70" stroke="#2a2a2a" stroke-width="1.0"/>
<text x="74.00" y="387.79" font-size="6.4" text-anchor="middle" fill="#2a2a2a">HS5</text>
<text x="61.40" y="299.75" font-size="8.8" text-anchor="middle" textLength="10.40" lengthAdjust="spacingAndGlyphs" fill="#222">G1</text>
<text x="0" y="2.72" font-size="7.6" text-anchor="middle" textLength="20.50" lengthAdjust="spacingAndGlyphs" fill="#2a2a2a" stroke="#2a2a2a" stroke-width="0.1" transform="translate(15.60,343.00) rotate(-90)">Percent</text>
<rect x="41.20" y="335.70" width="7.60" height="40.60" fill="#96c896" stroke="#3c9a48" stroke-opacity="0.25" stroke-width="0.8"/>
<line x1="45.00" y1="332.20" x2="45.00" y2="339.00" stroke="#3c9a48" stroke-width="0.8"/>
<line x1="43.70" y1="332.20" x2="46.30" y2="332.20" stroke="#3c9a48" stroke-width="0.8"/>
<line x1="43.70" y1="339.00" x2="46.30" y2="339.00" stroke="#3c9a48" stroke-width="0.6"/>
<circle cx="43.40" cy="334.76" r="0.75" fill="#3c9a48"/>
<circle cx="45.00" cy="335.04" r="0.75" fill="#3c9a48"/>
<circle cx="46.60" cy="337.15" r="0.75" fill="#3c9a48"/>
<rect x="51.10" y="342.90" width="7.50" height="33.40" fill="#dc8296" stroke="#c81e3c" stroke-opacity="0.25" stroke-width="0.8"/>
<line x1="54.85" y1="341.00" x2="54.85" y2="345.00" stroke="#c81e3c" stroke-width="0.8"/>
<line x1="53.55" y1="341.00" x2="56.15" y2="341.00" stroke="#c81e3c" stroke-width="0.8"/>
<line x1="53.55" y1="345.00" x2="56.15" y2="345.00" stroke="#c81e3c" stroke-width="0.6"/>
<circle cx="53.25" cy="341.44" r="0.75" fill="#c81e3c"/>
<circle cx="54.85" cy="343.23" r="0.75" fill="#c81e3c"/>
<circle cx="56.45" cy="341.68" r="0.75" fill="#c81e3c"/>
<rect x="65.30" y="340.20" width="7.60" height="36.10" fill="#d8d8d8" stroke="#b0b0b0" stroke-opacity="0.25" stroke-width="0.8"/>
<line x1="69.10" y1="331.50" x2="69.10" y2="349.00" stroke="#b0b0b0" stroke-width="0.8"/>
<line x1="67.80" y1="331.50" x2="70.40" y2="331.50" stroke="#b0b0b0" stroke-width="0.8"/>
<line x1="67.80" y1="349.00" x2="70.40" y2="349.00" stroke="#b0b0b0" stroke-width="0.6"/>
<circle cx="67.50" cy="340.95" r="0.75" fill="#b0b0b0"/>
<circle cx="69.10" cy="339.97" r="0.75" fill="#b0b0b0"/>
<circle cx="70.70" cy="341.48" r="0.75" fill="#b0b0b0"/>
<rect x="75.30" y="321.80" width="7.50" height="54.50" fill="#b9b9dc" stroke="#7a7ac0" stroke-opacity="0.25" stroke-width="0.8"/>
<line x1="79.05" y1="319.20" x2="79.05" y2="324.50" stroke="#7a7ac0" stroke-width="0.8"/>
<line x1="77.75" y1="319.20" x2="80.35" y2="319.20" stroke="#7a7ac0" stroke-width="0.8"/>
<line x1="77.75" y1="324.50" x2="80.35" y2="324.50" stroke="#7a7ac0" stroke-width="0.6"/>
<circle cx="77.45" cy="320.97" r="0.75" fill="#7a7ac0"/>
<circle cx="79.05" cy="322.93" r="0.75" fill="#7a7ac0"/>
<circle cx="80.65" cy="320.98" r="0.75" fill="#7a7ac0"/>
<line x1="45.80" y1="308.20" x2="78.70" y2="308.20" stroke="#6a6a6a" stroke-width="0.9"/>
<text x="62.25" y="309.42" font-size="6.2" text-anchor="middle" fill="#333" stroke="#333" stroke-width="0.1">*</text>
<line x1="55.40" y1="313.20" x2="78.70" y2="313.20" stroke="#6a6a6a" stroke-width="0.9"/>
<text x="67.05" y="314.42" font-size="6.2" text-anchor="middle" fill="#333" stroke="#333" stroke-width="0.1">**</text>
<line x1="69.20" y1="318.20" x2="78.70" y2="318.20" stroke="#6a6a6a" stroke-width="0.9"/>
<text x="73.95" y="319.42" font-size="6.2" text-anchor="middle" fill="#333" stroke="#333" stroke-width="0.1">**</text>
<line x1="119.40" y1="307.80" x2="119.40" y2="376.90" stroke="#333" stroke-width="1.3"/>
<line x1="118.80" y1="376.30" x2="170.40" y2="376.30" stroke="#2a2a2a" stroke-width="1.25"/>
<line x1="115.80" y1="376.30" x2="119.40" y2="376.30" stroke="#2a2a2a" stroke-width="1.0"/>
<text x="114.00" y="378.77" font-size="6.9" text-anchor="end" fill="#444">0</text>
<line x1="115.80" y1="354.10" x2="119.40" y2="354.10" stroke="#2a2a2a" stroke-width="1.0"/>
<text x="114.00" y="356.57" font-size="6.9" text-anchor="end" fill="#444">20</text>
<line x1="115.80" y1="331.90" x2="119.40" y2="331.90" stroke="#2a2a2a" stroke-width="1.0"/>
<text x="114.00" y="334.37" font-size="6.9" text-anchor="end" fill="#444">40</text>
<line x1="115.80" y1="309.70" x2="119.40" y2="309.70" stroke="#2a2a2a" stroke-width="1.0"/>
<text x="114.00" y="312.17" font-size="6.9" text-anchor="end" fill="#444">60</text>
<line x1="133.00" y1="376.30" x2="133.00" y2="378.70" stroke="#2a2a2a" stroke-width="1.0"/>
<text x="133.00" y="387.79" font-size="6.4" text-anchor="middle" fill="#2a2a2a">NM</text>
<line x1="155.00" y1="376.30" x2="155.00" y2="378.70" stroke="#2a2a2a" stroke-width="1.0"/>
<text x="155.00" y="387.79" font-size="6.4" text-anchor="middle" fill="#2a2a2a">HS5</text>
<text x="145.40" y="299.45" font-size="8.8" text-anchor="middle" fill="#222">S</text>
<text x="0" y="2.72" font-size="7.6" text-anchor="middle" textLength="20.50" lengthAdjust="spacingAndGlyphs" fill="#2a2a2a" stroke="#2a2a2a" stroke-width="0.1" transform="translate(99.20,342.00) rotate(-90)">Percent</text>
<rect x="124.20" y="334.80" width="7.70" height="41.50" fill="#96c896" stroke="#3c9a48" stroke-opacity="0.25" stroke-width="0.8"/>
<line x1="128.05" y1="332.50" x2="128.05" y2="337.00" stroke="#3c9a48" stroke-width="0.8"/>
<line x1="126.75" y1="332.50" x2="129.35" y2="332.50" stroke="#3c9a48" stroke-width="0.8"/>
<line x1="126.75" y1="337.00" x2="129.35" y2="337.00" stroke="#3c9a48" stroke-width="0.6"/>
<circle cx="126.45" cy="333.44" r="0.75" fill="#3c9a48"/>
<circle cx="128.05" cy="333.56" r="0.75" fill="#3c9a48"/>
<circle cx="129.65" cy="333.53" r="0.75" fill="#3c9a48"/>
<rect x="134.20" y="335.80" width="7.70" height="40.50" fill="#dc8296" stroke="#c81e3c" stroke-opacity="0.25" stroke-width="0.8"/>
<line x1="138.05" y1="335.00" x2="138.05" y2="337.00" stroke="#c81e3c" stroke-width="0.8"/>
<line x1="136.75" y1="335.00" x2="139.35" y2="335.00" stroke="#c81e3c" stroke-width="0.8"/>
<line x1="136.75" y1="337.00" x2="139.35" y2="337.00" stroke="#c81e3c" stroke-width="0.6"/>
<circle cx="136.45" cy="335.47" r="0.75" fill="#c81e3c"/>
<circle cx="138.05" cy="337.22" r="0.75" fill="#c81e3c"/>
<circle cx="139.65" cy="335.36" r="0.75" fill="#c81e3c"/>
<rect x="148.80" y="333.50" width="7.70" height="42.80" fill="#d8d8d8" stroke="#b0b0b0" stroke-opacity="0.25" stroke-width="0.8"/>
<line x1="152.65" y1="325.60" x2="152.65" y2="341.00" stroke="#b0b0b0" stroke-width="0.8"/>
<line x1="151.35" y1="325.60" x2="153.95" y2="325.60" stroke="#b0b0b0" stroke-width="0.8"/>
<line x1="151.35" y1="341.00" x2="153.95" y2="341.00" stroke="#b0b0b0" stroke-width="0.6"/>
<circle cx="151.05" cy="334.15" r="0.75" fill="#b0b0b0"/>
<circle cx="152.65" cy="332.10" r="0.75" fill="#b0b0b0"/>
<circle cx="154.25" cy="333.55" r="0.75" fill="#b0b0b0"/>
<rect x="158.50" y="349.20" width="7.70" height="27.10" fill="#b9b9dc" stroke="#7a7ac0" stroke-opacity="0.25" stroke-width="0.8"/>
<line x1="162.35" y1="347.00" x2="162.35" y2="351.00" stroke="#7a7ac0" stroke-width="0.8"/>
<line x1="161.05" y1="347.00" x2="163.65" y2="347.00" stroke="#7a7ac0" stroke-width="0.8"/>
<line x1="161.05" y1="351.00" x2="163.65" y2="351.00" stroke="#7a7ac0" stroke-width="0.6"/>
<circle cx="160.75" cy="349.32" r="0.75" fill="#7a7ac0"/>
<circle cx="162.35" cy="347.99" r="0.75" fill="#7a7ac0"/>
<circle cx="163.95" cy="349.44" r="0.75" fill="#7a7ac0"/>
<line x1="129.00" y1="314.20" x2="161.70" y2="314.20" stroke="#6a6a6a" stroke-width="0.9"/>
<text x="145.35" y="315.42" font-size="6.2" text-anchor="middle" fill="#333" stroke="#333" stroke-width="0.1">**</text>
<line x1="138.00" y1="319.00" x2="161.70" y2="319.00" stroke="#6a6a6a" stroke-width="0.9"/>
<text x="149.85" y="320.22" font-size="6.2" text-anchor="middle" fill="#333" stroke="#333" stroke-width="0.1">*</text>
<line x1="153.00" y1="323.80" x2="161.70" y2="323.80" stroke="#6a6a6a" stroke-width="0.9"/>
<text x="157.35" y="325.02" font-size="6.2" text-anchor="middle" fill="#333" stroke="#333" stroke-width="0.1">**</text>
<line x1="201.90" y1="307.80" x2="201.90" y2="376.90" stroke="#333" stroke-width="1.3"/>
<line x1="201.30" y1="376.30" x2="254.20" y2="376.30" stroke="#2a2a2a" stroke-width="1.25"/>
<line x1="198.30" y1="376.30" x2="201.90" y2="376.30" stroke="#2a2a2a" stroke-width="1.0"/>
<text x="196.50" y="378.77" font-size="6.9" text-anchor="end" fill="#444">0</text>
<line x1="198.30" y1="354.10" x2="201.90" y2="354.10" stroke="#2a2a2a" stroke-width="1.0"/>
<text x="196.50" y="356.57" font-size="6.9" text-anchor="end" fill="#444">20</text>
<line x1="198.30" y1="331.90" x2="201.90" y2="331.90" stroke="#2a2a2a" stroke-width="1.0"/>
<text x="196.50" y="334.37" font-size="6.9" text-anchor="end" fill="#444">40</text>
<line x1="198.30" y1="309.70" x2="201.90" y2="309.70" stroke="#2a2a2a" stroke-width="1.0"/>
<text x="196.50" y="312.17" font-size="6.9" text-anchor="end" fill="#444">60</text>
<line x1="216.20" y1="376.30" x2="216.20" y2="378.70" stroke="#2a2a2a" stroke-width="1.0"/>
<text x="216.20" y="387.79" font-size="6.4" text-anchor="middle" fill="#2a2a2a">NM</text>
<line x1="240.80" y1="376.30" x2="240.80" y2="378.70" stroke="#2a2a2a" stroke-width="1.0"/>
<text x="240.80" y="387.79" font-size="6.4" text-anchor="middle" fill="#2a2a2a">HS5</text>
<text x="228.80" y="299.45" font-size="8.8" text-anchor="middle" textLength="18.30" lengthAdjust="spacingAndGlyphs" fill="#222">G2M</text>
<text x="0" y="2.72" font-size="7.6" text-anchor="middle" textLength="20.50" lengthAdjust="spacingAndGlyphs" fill="#2a2a2a" stroke="#2a2a2a" stroke-width="0.1" transform="translate(181.50,342.00) rotate(-90)">Percent</text>
<rect x="207.10" y="366.90" width="7.70" height="9.40" fill="#96c896" stroke="#3c9a48" stroke-opacity="0.25" stroke-width="0.8"/>
<line x1="210.95" y1="365.50" x2="210.95" y2="368.00" stroke="#3c9a48" stroke-width="0.8"/>
<line x1="209.65" y1="365.50" x2="212.25" y2="365.50" stroke="#3c9a48" stroke-width="0.8"/>
<line x1="209.65" y1="368.00" x2="212.25" y2="368.00" stroke="#3c9a48" stroke-width="0.6"/>
<circle cx="209.35" cy="366.74" r="0.75" fill="#3c9a48"/>
<circle cx="210.95" cy="366.38" r="0.75" fill="#3c9a48"/>
<circle cx="212.55" cy="367.89" r="0.75" fill="#3c9a48"/>
<rect x="217.10" y="360.80" width="8.30" height="15.50" fill="#dc8296" stroke="#c81e3c" stroke-opacity="0.25" stroke-width="0.8"/>
<line x1="221.25" y1="359.80" x2="221.25" y2="362.00" stroke="#c81e3c" stroke-width="0.8"/>
<line x1="219.95" y1="359.80" x2="222.55" y2="359.80" stroke="#c81e3c" stroke-width="0.8"/>
<line x1="219.95" y1="362.00" x2="222.55" y2="362.00" stroke="#c81e3c" stroke-width="0.6"/>
<circle cx="219.65" cy="361.37" r="0.75" fill="#c81e3c"/>
<circle cx="221.25" cy="359.66" r="0.75" fill="#c81e3c"/>
<circle cx="222.85" cy="359.62" r="0.75" fill="#c81e3c"/>
<rect x="232.10" y="359.20" width="7.70" height="17.10" fill="#d8d8d8" stroke="#b0b0b0" stroke-opacity="0.25" stroke-width="0.8"/>
<line x1="235.95" y1="352.50" x2="235.95" y2="366.00" stroke="#b0b0b0" stroke-width="0.8"/>
<line x1="234.65" y1="352.50" x2="237.25" y2="352.50" stroke="#b0b0b0" stroke-width="0.8"/>
<line x1="234.65" y1="366.00" x2="237.25" y2="366.00" stroke="#b0b0b0" stroke-width="0.6"/>
<circle cx="234.35" cy="357.86" r="0.75" fill="#b0b0b0"/>
<circle cx="235.95" cy="358.49" r="0.75" fill="#b0b0b0"/>
<circle cx="237.55" cy="359.61" r="0.75" fill="#b0b0b0"/>
<rect x="241.70" y="364.00" width="7.70" height="12.30" fill="#b9b9dc" stroke="#7a7ac0" stroke-opacity="0.25" stroke-width="0.8"/>
<line x1="245.55" y1="363.00" x2="245.55" y2="365.00" stroke="#7a7ac0" stroke-width="0.8"/>
<line x1="244.25" y1="363.00" x2="246.85" y2="363.00" stroke="#7a7ac0" stroke-width="0.8"/>
<line x1="244.25" y1="365.00" x2="246.85" y2="365.00" stroke="#7a7ac0" stroke-width="0.6"/>
<circle cx="243.95" cy="365.41" r="0.75" fill="#7a7ac0"/>
<circle cx="245.55" cy="365.41" r="0.75" fill="#7a7ac0"/>
<circle cx="247.15" cy="365.09" r="0.75" fill="#7a7ac0"/>
<line x1="211.50" y1="349.00" x2="235.00" y2="349.00" stroke="#6a6a6a" stroke-width="0.9"/>
<text x="223.25" y="350.22" font-size="6.2" text-anchor="middle" fill="#333" stroke="#333" stroke-width="0.1">*</text>
<line x1="294.60" y1="307.80" x2="294.60" y2="376.90" stroke="#333" stroke-width="1.3"/>
<line x1="294.00" y1="376.30" x2="346.20" y2="376.30" stroke="#2a2a2a" stroke-width="1.25"/>
<line x1="291.00" y1="376.30" x2="294.60" y2="376.30" stroke="#2a2a2a" stroke-width="1.0"/>
<text x="289.20" y="378.77" font-size="6.9" text-anchor="end" fill="#444">0</text>
<line x1="291.00" y1="354.10" x2="294.60" y2="354.10" stroke="#2a2a2a" stroke-width="1.0"/>
<text x="289.20" y="356.57" font-size="6.9" text-anchor="end" fill="#444">20</text>
<line x1="291.00" y1="331.90" x2="294.60" y2="331.90" stroke="#2a2a2a" stroke-width="1.0"/>
<text x="289.20" y="334.37" font-size="6.9" text-anchor="end" fill="#444">40</text>
<line x1="291.00" y1="309.70" x2="294.60" y2="309.70" stroke="#2a2a2a" stroke-width="1.0"/>
<text x="289.20" y="312.17" font-size="6.9" text-anchor="end" fill="#444">60</text>
<line x1="308.00" y1="376.30" x2="308.00" y2="378.70" stroke="#2a2a2a" stroke-width="1.0"/>
<text x="308.00" y="387.79" font-size="6.4" text-anchor="middle" fill="#2a2a2a">NM</text>
<line x1="332.70" y1="376.30" x2="332.70" y2="378.70" stroke="#2a2a2a" stroke-width="1.0"/>
<text x="332.70" y="387.79" font-size="6.4" text-anchor="middle" fill="#2a2a2a">HS5</text>
<text x="319.90" y="299.45" font-size="8.8" text-anchor="middle" textLength="11.00" lengthAdjust="spacingAndGlyphs" fill="#222">G1</text>
<text x="0" y="2.72" font-size="7.6" text-anchor="middle" textLength="20.50" lengthAdjust="spacingAndGlyphs" fill="#2a2a2a" stroke="#2a2a2a" stroke-width="0.1" transform="translate(273.50,342.00) rotate(-90)">Percent</text>
<rect x="299.40" y="345.40" width="7.70" height="30.90" fill="#96c896" stroke="#3c9a48" stroke-opacity="0.25" stroke-width="0.8"/>
<line x1="303.25" y1="342.00" x2="303.25" y2="349.00" stroke="#3c9a48" stroke-width="0.8"/>
<line x1="301.95" y1="342.00" x2="304.55" y2="342.00" stroke="#3c9a48" stroke-width="0.8"/>
<line x1="301.95" y1="349.00" x2="304.55" y2="349.00" stroke="#3c9a48" stroke-width="0.6"/>
<circle cx="301.65" cy="344.27" r="0.75" fill="#3c9a48"/>
<circle cx="303.25" cy="346.28" r="0.75" fill="#3c9a48"/>
<circle cx="304.85" cy="346.19" r="0.75" fill="#3c9a48"/>
<rect x="309.20" y="344.00" width="7.70" height="32.30" fill="#dc8296" stroke="#c81e3c" stroke-opacity="0.25" stroke-width="0.8"/>
<line x1="313.05" y1="339.50" x2="313.05" y2="349.00" stroke="#c81e3c" stroke-width="0.8"/>
<line x1="311.75" y1="339.50" x2="314.35" y2="339.50" stroke="#c81e3c" stroke-width="0.8"/>
<line x1="311.75" y1="349.00" x2="314.35" y2="349.00" stroke="#c81e3c" stroke-width="0.6"/>
<circle cx="311.45" cy="343.92" r="0.75" fill="#c81e3c"/>
<circle cx="313.05" cy="345.49" r="0.75" fill="#c81e3c"/>
<circle cx="314.65" cy="344.30" r="0.75" fill="#c81e3c"/>
<rect x="324.00" y="353.50" width="7.70" height="22.80" fill="#d8d8d8" stroke="#b0b0b0" stroke-opacity="0.25" stroke-width="0.8"/>
<line x1="327.85" y1="350.00" x2="327.85" y2="356.00" stroke="#b0b0b0" stroke-width="0.8"/>
<line x1="326.55" y1="350.00" x2="329.15" y2="350.00" stroke="#b0b0b0" stroke-width="0.8"/>
<line x1="326.55" y1="356.00" x2="329.15" y2="356.00" stroke="#b0b0b0" stroke-width="0.6"/>
<circle cx="326.25" cy="352.36" r="0.75" fill="#b0b0b0"/>
<circle cx="327.85" cy="352.65" r="0.75" fill="#b0b0b0"/>
<circle cx="329.45" cy="352.39" r="0.75" fill="#b0b0b0"/>
<rect x="334.00" y="326.20" width="7.70" height="50.10" fill="#b9b9dc" stroke="#7a7ac0" stroke-opacity="0.25" stroke-width="0.8"/>
<line x1="337.85" y1="323.50" x2="337.85" y2="329.00" stroke="#7a7ac0" stroke-width="0.8"/>
<line x1="336.55" y1="323.50" x2="339.15" y2="323.50" stroke="#7a7ac0" stroke-width="0.8"/>
<line x1="336.55" y1="329.00" x2="339.15" y2="329.00" stroke="#7a7ac0" stroke-width="0.6"/>
<circle cx="336.25" cy="326.53" r="0.75" fill="#7a7ac0"/>
<circle cx="337.85" cy="326.57" r="0.75" fill="#7a7ac0"/>
<circle cx="339.45" cy="327.27" r="0.75" fill="#7a7ac0"/>
<line x1="305.80" y1="310.40" x2="337.50" y2="310.40" stroke="#6a6a6a" stroke-width="0.9"/>
<text x="321.65" y="311.62" font-size="6.2" text-anchor="middle" fill="#333" stroke="#333" stroke-width="0.1">****</text>
<line x1="314.80" y1="315.20" x2="337.50" y2="315.20" stroke="#6a6a6a" stroke-width="0.9"/>
<text x="326.15" y="316.42" font-size="6.2" text-anchor="middle" fill="#333" stroke="#333" stroke-width="0.1">****</text>
<line x1="327.90" y1="321.00" x2="337.50" y2="321.00" stroke="#6a6a6a" stroke-width="0.9"/>
<text x="332.70" y="322.22" font-size="6.2" text-anchor="middle" fill="#333" stroke="#333" stroke-width="0.1">****</text>
<line x1="303.80" y1="332.90" x2="326.90" y2="332.90" stroke="#6a6a6a" stroke-width="0.9"/>
<text x="315.35" y="334.12" font-size="6.2" text-anchor="middle" fill="#333" stroke="#333" stroke-width="0.1">*</text>
<line x1="313.50" y1="338.10" x2="326.90" y2="338.10" stroke="#6a6a6a" stroke-width="0.9"/>
<text x="320.20" y="339.32" font-size="6.2" text-anchor="middle" fill="#333" stroke="#333" stroke-width="0.1">**</text>
<line x1="377.70" y1="307.80" x2="377.70" y2="376.90" stroke="#333" stroke-width="1.3"/>
<line x1="377.10" y1="376.30" x2="430.00" y2="376.30" stroke="#2a2a2a" stroke-width="1.25"/>
<line x1="374.10" y1="376.30" x2="377.70" y2="376.30" stroke="#2a2a2a" stroke-width="1.0"/>
<text x="372.30" y="378.77" font-size="6.9" text-anchor="end" fill="#444">0</text>
<line x1="374.10" y1="354.10" x2="377.70" y2="354.10" stroke="#2a2a2a" stroke-width="1.0"/>
<text x="372.30" y="356.57" font-size="6.9" text-anchor="end" fill="#444">20</text>
<line x1="374.10" y1="331.90" x2="377.70" y2="331.90" stroke="#2a2a2a" stroke-width="1.0"/>
<text x="372.30" y="334.37" font-size="6.9" text-anchor="end" fill="#444">40</text>
<line x1="374.10" y1="309.70" x2="377.70" y2="309.70" stroke="#2a2a2a" stroke-width="1.0"/>
<text x="372.30" y="312.17" font-size="6.9" text-anchor="end" fill="#444">60</text>
<line x1="391.50" y1="376.30" x2="391.50" y2="378.70" stroke="#2a2a2a" stroke-width="1.0"/>
<text x="391.50" y="387.79" font-size="6.4" text-anchor="middle" fill="#2a2a2a">NM</text>
<line x1="415.60" y1="376.30" x2="415.60" y2="378.70" stroke="#2a2a2a" stroke-width="1.0"/>
<text x="415.60" y="387.79" font-size="6.4" text-anchor="middle" fill="#2a2a2a">HS5</text>
<text x="404.00" y="298.15" font-size="8.8" text-anchor="middle" fill="#222">S</text>
<text x="0" y="2.72" font-size="7.6" text-anchor="middle" textLength="20.50" lengthAdjust="spacingAndGlyphs" fill="#2a2a2a" stroke="#2a2a2a" stroke-width="0.1" transform="translate(356.90,342.00) rotate(-90)">Percent</text>
<rect x="382.90" y="324.20" width="7.40" height="52.10" fill="#96c896" stroke="#3c9a48" stroke-opacity="0.25" stroke-width="0.8"/>
<line x1="386.60" y1="322.50" x2="386.60" y2="326.00" stroke="#3c9a48" stroke-width="0.8"/>
<line x1="385.30" y1="322.50" x2="387.90" y2="322.50" stroke="#3c9a48" stroke-width="0.8"/>
<line x1="385.30" y1="326.00" x2="387.90" y2="326.00" stroke="#3c9a48" stroke-width="0.6"/>
<circle cx="385.00" cy="322.73" r="0.75" fill="#3c9a48"/>
<circle cx="386.60" cy="322.73" r="0.75" fill="#3c9a48"/>
<circle cx="388.20" cy="325.62" r="0.75" fill="#3c9a48"/>
<rect x="392.50" y="336.30" width="7.80" height="40.00" fill="#dc8296" stroke="#c81e3c" stroke-opacity="0.25" stroke-width="0.8"/>
<line x1="396.40" y1="335.50" x2="396.40" y2="337.00" stroke="#c81e3c" stroke-width="0.8"/>
<line x1="395.10" y1="335.50" x2="397.70" y2="335.50" stroke="#c81e3c" stroke-width="0.8"/>
<line x1="395.10" y1="337.00" x2="397.70" y2="337.00" stroke="#c81e3c" stroke-width="0.6"/>
<circle cx="394.80" cy="335.59" r="0.75" fill="#c81e3c"/>
<circle cx="396.40" cy="335.59" r="0.75" fill="#c81e3c"/>
<circle cx="398.00" cy="337.40" r="0.75" fill="#c81e3c"/>
<rect x="407.50" y="322.70" width="7.50" height="53.60" fill="#d8d8d8" stroke="#b0b0b0" stroke-opacity="0.25" stroke-width="0.8"/>
<line x1="411.25" y1="316.50" x2="411.25" y2="329.00" stroke="#b0b0b0" stroke-width="0.8"/>
<line x1="409.95" y1="316.50" x2="412.55" y2="316.50" stroke="#b0b0b0" stroke-width="0.8"/>
<line x1="409.95" y1="329.00" x2="412.55" y2="329.00" stroke="#b0b0b0" stroke-width="0.6"/>
<circle cx="409.65" cy="321.53" r="0.75" fill="#b0b0b0"/>
<circle cx="411.25" cy="323.58" r="0.75" fill="#b0b0b0"/>
<circle cx="412.85" cy="323.89" r="0.75" fill="#b0b0b0"/>
<rect x="416.90" y="354.00" width="7.70" height="22.30" fill="#b9b9dc" stroke="#7a7ac0" stroke-opacity="0.25" stroke-width="0.8"/>
<line x1="420.75" y1="349.80" x2="420.75" y2="358.00" stroke="#7a7ac0" stroke-width="0.8"/>
<line x1="419.45" y1="349.80" x2="422.05" y2="349.80" stroke="#7a7ac0" stroke-width="0.8"/>
<line x1="419.45" y1="358.00" x2="422.05" y2="358.00" stroke="#7a7ac0" stroke-width="0.6"/>
<circle cx="419.15" cy="354.19" r="0.75" fill="#7a7ac0"/>
<circle cx="420.75" cy="354.33" r="0.75" fill="#7a7ac0"/>
<circle cx="422.35" cy="352.52" r="0.75" fill="#7a7ac0"/>
<line x1="388.70" y1="305.00" x2="421.30" y2="305.00" stroke="#6a6a6a" stroke-width="0.9"/>
<text x="405.00" y="306.22" font-size="6.2" text-anchor="middle" fill="#333" stroke="#333" stroke-width="0.1">****</text>
<line x1="398.30" y1="310.20" x2="421.30" y2="310.20" stroke="#6a6a6a" stroke-width="0.9"/>
<text x="409.80" y="311.42" font-size="6.2" text-anchor="middle" fill="#333" stroke="#333" stroke-width="0.1">***</text>
<line x1="385.80" y1="315.20" x2="408.80" y2="315.20" stroke="#6a6a6a" stroke-width="0.9"/>
<text x="397.30" y="316.42" font-size="6.2" text-anchor="middle" fill="#333" stroke="#333" stroke-width="0.1">**</text>
<line x1="411.70" y1="315.20" x2="421.30" y2="315.20" stroke="#6a6a6a" stroke-width="0.9"/>
<text x="416.50" y="316.42" font-size="6.2" text-anchor="middle" fill="#333" stroke="#333" stroke-width="0.1">****</text>
<line x1="396.30" y1="320.40" x2="408.80" y2="320.40" stroke="#6a6a6a" stroke-width="0.9"/>
<text x="402.55" y="321.62" font-size="6.2" text-anchor="middle" fill="#333" stroke="#333" stroke-width="0.1">**</text>
<line x1="460.40" y1="307.80" x2="460.40" y2="376.90" stroke="#333" stroke-width="1.3"/>
<line x1="459.80" y1="376.30" x2="513.30" y2="376.30" stroke="#2a2a2a" stroke-width="1.25"/>
<line x1="456.80" y1="376.30" x2="460.40" y2="376.30" stroke="#2a2a2a" stroke-width="1.0"/>
<text x="455.00" y="378.77" font-size="6.9" text-anchor="end" fill="#444">0</text>
<line x1="456.80" y1="354.10" x2="460.40" y2="354.10" stroke="#2a2a2a" stroke-width="1.0"/>
<text x="455.00" y="356.57" font-size="6.9" text-anchor="end" fill="#444">20</text>
<line x1="456.80" y1="331.90" x2="460.40" y2="331.90" stroke="#2a2a2a" stroke-width="1.0"/>
<text x="455.00" y="334.37" font-size="6.9" text-anchor="end" fill="#444">40</text>
<line x1="456.80" y1="309.70" x2="460.40" y2="309.70" stroke="#2a2a2a" stroke-width="1.0"/>
<text x="455.00" y="312.17" font-size="6.9" text-anchor="end" fill="#444">60</text>
<line x1="474.20" y1="376.30" x2="474.20" y2="378.70" stroke="#2a2a2a" stroke-width="1.0"/>
<text x="474.20" y="387.79" font-size="6.4" text-anchor="middle" fill="#2a2a2a">NM</text>
<line x1="498.80" y1="376.30" x2="498.80" y2="378.70" stroke="#2a2a2a" stroke-width="1.0"/>
<text x="498.80" y="387.79" font-size="6.4" text-anchor="middle" fill="#2a2a2a">HS5</text>
<text x="487.00" y="297.55" font-size="8.8" text-anchor="middle" textLength="18.00" lengthAdjust="spacingAndGlyphs" fill="#222">G2M</text>
<text x="0" y="2.72" font-size="7.6" text-anchor="middle" textLength="20.50" lengthAdjust="spacingAndGlyphs" fill="#2a2a2a" stroke="#2a2a2a" stroke-width="0.1" transform="translate(439.20,342.00) rotate(-90)">Percent</text>
<rect x="465.80" y="367.50" width="7.70" height="8.80" fill="#96c896" stroke="#3c9a48" stroke-opacity="0.25" stroke-width="0.8"/>
<line x1="469.65" y1="366.00" x2="469.65" y2="369.00" stroke="#3c9a48" stroke-width="0.8"/>
<line x1="468.35" y1="366.00" x2="470.95" y2="366.00" stroke="#3c9a48" stroke-width="0.8"/>
<line x1="468.35" y1="369.00" x2="470.95" y2="369.00" stroke="#3c9a48" stroke-width="0.6"/>
<circle cx="468.05" cy="367.82" r="0.75" fill="#3c9a48"/>
<circle cx="469.65" cy="367.84" r="0.75" fill="#3c9a48"/>
<circle cx="471.25" cy="368.31" r="0.75" fill="#3c9a48"/>
<rect x="475.80" y="357.70" width="7.70" height="18.60" fill="#dc8296" stroke="#c81e3c" stroke-opacity="0.25" stroke-width="0.8"/>
<line x1="479.65" y1="356.50" x2="479.65" y2="359.00" stroke="#c81e3c" stroke-width="0.8"/>
<line x1="478.35" y1="356.50" x2="480.95" y2="356.50" stroke="#c81e3c" stroke-width="0.8"/>
<line x1="478.35" y1="359.00" x2="480.95" y2="359.00" stroke="#c81e3c" stroke-width="0.6"/>
<circle cx="478.05" cy="357.75" r="0.75" fill="#c81e3c"/>
<circle cx="479.65" cy="356.54" r="0.75" fill="#c81e3c"/>
<circle cx="481.25" cy="356.87" r="0.75" fill="#c81e3c"/>
<rect x="490.80" y="367.90" width="7.70" height="8.40" fill="#d8d8d8" stroke="#b0b0b0" stroke-opacity="0.25" stroke-width="0.8"/>
<line x1="494.65" y1="364.50" x2="494.65" y2="371.00" stroke="#b0b0b0" stroke-width="0.8"/>
<line x1="493.35" y1="364.50" x2="495.95" y2="364.50" stroke="#b0b0b0" stroke-width="0.8"/>
<line x1="493.35" y1="371.00" x2="495.95" y2="371.00" stroke="#b0b0b0" stroke-width="0.6"/>
<circle cx="493.05" cy="368.36" r="0.75" fill="#b0b0b0"/>
<circle cx="494.65" cy="366.64" r="0.75" fill="#b0b0b0"/>
<circle cx="496.25" cy="366.72" r="0.75" fill="#b0b0b0"/>
<rect x="500.40" y="357.70" width="7.60" height="18.60" fill="#b9b9dc" stroke="#7a7ac0" stroke-opacity="0.25" stroke-width="0.8"/>
<line x1="504.20" y1="356.50" x2="504.20" y2="359.00" stroke="#7a7ac0" stroke-width="0.8"/>
<line x1="502.90" y1="356.50" x2="505.50" y2="356.50" stroke="#7a7ac0" stroke-width="0.8"/>
<line x1="502.90" y1="359.00" x2="505.50" y2="359.00" stroke="#7a7ac0" stroke-width="0.6"/>
<circle cx="502.60" cy="356.95" r="0.75" fill="#7a7ac0"/>
<circle cx="504.20" cy="358.59" r="0.75" fill="#7a7ac0"/>
<circle cx="505.80" cy="357.84" r="0.75" fill="#7a7ac0"/>
<line x1="470.00" y1="337.30" x2="503.70" y2="337.30" stroke="#6a6a6a" stroke-width="0.9"/>
<text x="486.85" y="338.52" font-size="6.2" text-anchor="middle" fill="#333" stroke="#333" stroke-width="0.1">***</text>
<line x1="494.60" y1="342.90" x2="503.70" y2="342.90" stroke="#6a6a6a" stroke-width="0.9"/>
<text x="499.15" y="344.12" font-size="6.2" text-anchor="middle" fill="#333" stroke="#333" stroke-width="0.1">***</text>
<line x1="480.00" y1="348.30" x2="493.50" y2="348.30" stroke="#6a6a6a" stroke-width="0.9"/>
<text x="486.75" y="349.52" font-size="6.2" text-anchor="middle" fill="#333" stroke="#333" stroke-width="0.1">***</text>
<line x1="469.60" y1="353.70" x2="479.20" y2="353.70" stroke="#6a6a6a" stroke-width="0.9"/>
<text x="474.40" y="354.92" font-size="6.2" text-anchor="middle" fill="#333" stroke="#333" stroke-width="0.1">**</text>
<text x="83.80" y="398.31" font-size="7.0" textLength="15.50" lengthAdjust="spacingAndGlyphs" fill="#333">THP-1</text>
<rect x="83.80" y="402.30" width="5.40" height="5.40" fill="#3aa050"/>
<text x="91.90" y="407.51" font-size="7.0" textLength="10.10" lengthAdjust="spacingAndGlyphs" fill="#333">EV1</text>
<rect x="109.20" y="402.30" width="5.40" height="5.40" fill="#c8102e"/>
<text x="117.50" y="407.51" font-size="7.0" textLength="24.40" lengthAdjust="spacingAndGlyphs" fill="#333">ELDR-C1</text>
<rect x="148.80" y="402.30" width="5.40" height="5.40" fill="#d0d0d0"/>
<text x="156.90" y="407.51" font-size="7.0" textLength="10.60" lengthAdjust="spacingAndGlyphs" fill="#333">EV1</text>
<rect x="174.40" y="402.30" width="5.40" height="5.40" fill="#8a86c8"/>
<text x="182.10" y="407.51" font-size="7.0" textLength="25.00" lengthAdjust="spacingAndGlyphs" fill="#333">ELDR-C1</text>
<text x="341.90" y="398.31" font-size="7.0" textLength="30.40" lengthAdjust="spacingAndGlyphs" fill="#333">Mono-Mac1</text>
<rect x="341.90" y="402.30" width="5.40" height="5.40" fill="#3aa050"/>
<text x="350.20" y="407.51" font-size="7.0" textLength="10.60" lengthAdjust="spacingAndGlyphs" fill="#333">EV2</text>
<rect x="367.50" y="402.30" width="5.40" height="5.40" fill="#c8102e"/>
<text x="375.80" y="407.51" font-size="7.0" textLength="25.00" lengthAdjust="spacingAndGlyphs" fill="#333">ELDR-C7</text>
<rect x="407.50" y="402.30" width="5.40" height="5.40" fill="#d0d0d0"/>
<text x="415.60" y="407.51" font-size="7.0" textLength="10.60" lengthAdjust="spacingAndGlyphs" fill="#333">EV2</text>
<rect x="432.50" y="402.30" width="5.40" height="5.40" fill="#8a86c8"/>
<text x="440.80" y="407.51" font-size="7.0" textLength="25.00" lengthAdjust="spacingAndGlyphs" fill="#333">ELDR-C7</text>
<line x1="119.80" y1="443.80" x2="119.80" y2="515.40" stroke="#333" stroke-width="1.3"/>
<line x1="119.20" y1="514.80" x2="174.60" y2="514.80" stroke="#2a2a2a" stroke-width="1.25"/>
<line x1="116.20" y1="514.80" x2="119.80" y2="514.80" stroke="#2a2a2a" stroke-width="1.0"/>
<text x="114.40" y="517.27" font-size="6.9" text-anchor="end" fill="#444">0</text>
<line x1="116.20" y1="500.90" x2="119.80" y2="500.90" stroke="#2a2a2a" stroke-width="1.0"/>
<text x="114.40" y="503.37" font-size="6.9" text-anchor="end" fill="#444">10</text>
<line x1="116.20" y1="487.00" x2="119.80" y2="487.00" stroke="#2a2a2a" stroke-width="1.0"/>
<text x="114.40" y="489.47" font-size="6.9" text-anchor="end" fill="#444">20</text>
<line x1="116.20" y1="473.10" x2="119.80" y2="473.10" stroke="#2a2a2a" stroke-width="1.0"/>
<text x="114.40" y="475.57" font-size="6.9" text-anchor="end" fill="#444">30</text>
<line x1="116.20" y1="459.20" x2="119.80" y2="459.20" stroke="#2a2a2a" stroke-width="1.0"/>
<text x="114.40" y="461.67" font-size="6.9" text-anchor="end" fill="#444">40</text>
<line x1="116.20" y1="445.30" x2="119.80" y2="445.30" stroke="#2a2a2a" stroke-width="1.0"/>
<text x="114.40" y="447.77" font-size="6.9" text-anchor="end" fill="#444">50</text>
<line x1="134.20" y1="514.80" x2="134.20" y2="517.20" stroke="#2a2a2a" stroke-width="1.0"/>
<text x="134.20" y="526.29" font-size="6.4" text-anchor="middle" fill="#2a2a2a">ctrl</text>
<line x1="159.60" y1="514.80" x2="159.60" y2="517.20" stroke="#2a2a2a" stroke-width="1.0"/>
<text x="159.60" y="526.29" font-size="6.4" text-anchor="middle" fill="#2a2a2a">del ELDR</text>
<text x="146.90" y="424.65" font-size="8.8" text-anchor="middle" textLength="10.00" lengthAdjust="spacingAndGlyphs" fill="#222">G1</text>
<text x="0" y="2.72" font-size="7.6" text-anchor="middle" textLength="18.80" lengthAdjust="spacingAndGlyphs" fill="#2a2a2a" stroke="#2a2a2a" stroke-width="0.1" transform="translate(99.50,478.50) rotate(-90)">Percent</text>
<rect x="125.20" y="470.80" width="7.70" height="44.00" fill="#6592b8" stroke="#2f5f8f" stroke-opacity="0.25" stroke-width="0.8"/>
<line x1="129.05" y1="467.50" x2="129.05" y2="473.00" stroke="#2f5f8f" stroke-width="0.8"/>
<line x1="127.75" y1="467.50" x2="130.35" y2="467.50" stroke="#2f5f8f" stroke-width="0.8"/>
<line x1="127.75" y1="473.00" x2="130.35" y2="473.00" stroke="#2f5f8f" stroke-width="0.6"/>
<circle cx="127.45" cy="470.37" r="0.75" fill="#2f5f8f"/>
<circle cx="129.05" cy="472.19" r="0.75" fill="#2f5f8f"/>
<circle cx="130.65" cy="471.04" r="0.75" fill="#2f5f8f"/>
<rect x="135.40" y="454.00" width="8.20" height="60.80" fill="#e66ea6" stroke="#c8307a" stroke-opacity="0.25" stroke-width="0.8"/>
<line x1="139.50" y1="448.00" x2="139.50" y2="460.00" stroke="#c8307a" stroke-width="0.8"/>
<line x1="138.20" y1="448.00" x2="140.80" y2="448.00" stroke="#c8307a" stroke-width="0.8"/>
<line x1="138.20" y1="460.00" x2="140.80" y2="460.00" stroke="#c8307a" stroke-width="0.6"/>
<circle cx="137.90" cy="453.22" r="0.75" fill="#c8307a"/>
<circle cx="139.50" cy="454.20" r="0.75" fill="#c8307a"/>
<circle cx="141.10" cy="455.07" r="0.75" fill="#c8307a"/>
<rect x="150.00" y="469.20" width="8.20" height="45.60" fill="#9fbdd2" stroke="#5f8db5" stroke-opacity="0.25" stroke-width="0.8"/>
<line x1="154.10" y1="468.00" x2="154.10" y2="470.50" stroke="#5f8db5" stroke-width="0.8"/>
<line x1="152.80" y1="468.00" x2="155.40" y2="468.00" stroke="#5f8db5" stroke-width="0.8"/>
<line x1="152.80" y1="470.50" x2="155.40" y2="470.50" stroke="#5f8db5" stroke-width="0.6"/>
<circle cx="152.50" cy="468.81" r="0.75" fill="#5f8db5"/>
<circle cx="154.10" cy="469.00" r="0.75" fill="#5f8db5"/>
<circle cx="155.70" cy="469.43" r="0.75" fill="#5f8db5"/>
<rect x="160.60" y="471.70" width="8.20" height="43.10" fill="#f3b4cf" stroke="#e0609a" stroke-opacity="0.25" stroke-width="0.8"/>
<line x1="164.70" y1="466.00" x2="164.70" y2="475.00" stroke="#e0609a" stroke-width="0.8"/>
<line x1="163.40" y1="466.00" x2="166.00" y2="466.00" stroke="#e0609a" stroke-width="0.8"/>
<line x1="163.40" y1="475.00" x2="166.00" y2="475.00" stroke="#e0609a" stroke-width="0.6"/>
<circle cx="163.10" cy="473.16" r="0.75" fill="#e0609a"/>
<circle cx="164.70" cy="472.12" r="0.75" fill="#e0609a"/>
<circle cx="166.30" cy="470.74" r="0.75" fill="#e0609a"/>
<line x1="129.40" y1="435.20" x2="154.40" y2="435.20" stroke="#6a6a6a" stroke-width="0.9"/>
<text x="141.90" y="434.22" font-size="6.2" text-anchor="middle" fill="#333">ns</text>
<line x1="141.00" y1="441.30" x2="165.40" y2="441.30" stroke="#6a6a6a" stroke-width="0.9"/>
<text x="153.20" y="442.52" font-size="6.2" text-anchor="middle" fill="#333" stroke="#333" stroke-width="0.1">***</text>
<line x1="129.40" y1="446.20" x2="140.00" y2="446.20" stroke="#6a6a6a" stroke-width="0.9"/>
<text x="134.70" y="447.42" font-size="6.2" text-anchor="middle" fill="#333" stroke="#333" stroke-width="0.1">***</text>
<line x1="155.00" y1="460.20" x2="165.40" y2="460.20" stroke="#6a6a6a" stroke-width="0.9"/>
<text x="160.20" y="459.22" font-size="6.2" text-anchor="middle" fill="#333">ns</text>
<line x1="220.00" y1="443.80" x2="220.00" y2="515.40" stroke="#333" stroke-width="1.3"/>
<line x1="219.40" y1="514.80" x2="274.20" y2="514.80" stroke="#2a2a2a" stroke-width="1.25"/>
<line x1="216.40" y1="514.80" x2="220.00" y2="514.80" stroke="#2a2a2a" stroke-width="1.0"/>
<text x="214.60" y="517.27" font-size="6.9" text-anchor="end" fill="#444">0</text>
<line x1="216.40" y1="500.90" x2="220.00" y2="500.90" stroke="#2a2a2a" stroke-width="1.0"/>
<text x="214.60" y="503.37" font-size="6.9" text-anchor="end" fill="#444">10</text>
<line x1="216.40" y1="487.00" x2="220.00" y2="487.00" stroke="#2a2a2a" stroke-width="1.0"/>
<text x="214.60" y="489.47" font-size="6.9" text-anchor="end" fill="#444">20</text>
<line x1="216.40" y1="473.10" x2="220.00" y2="473.10" stroke="#2a2a2a" stroke-width="1.0"/>
<text x="214.60" y="475.57" font-size="6.9" text-anchor="end" fill="#444">30</text>
<line x1="216.40" y1="459.20" x2="220.00" y2="459.20" stroke="#2a2a2a" stroke-width="1.0"/>
<text x="214.60" y="461.67" font-size="6.9" text-anchor="end" fill="#444">40</text>
<line x1="216.40" y1="445.30" x2="220.00" y2="445.30" stroke="#2a2a2a" stroke-width="1.0"/>
<text x="214.60" y="447.77" font-size="6.9" text-anchor="end" fill="#444">50</text>
<line x1="233.80" y1="514.80" x2="233.80" y2="517.20" stroke="#2a2a2a" stroke-width="1.0"/>
<text x="233.80" y="526.29" font-size="6.4" text-anchor="middle" fill="#2a2a2a">ctrl</text>
<line x1="258.80" y1="514.80" x2="258.80" y2="517.20" stroke="#2a2a2a" stroke-width="1.0"/>
<text x="258.80" y="526.29" font-size="6.4" text-anchor="middle" fill="#2a2a2a">del ELDR</text>
<text x="247.30" y="424.45" font-size="8.8" text-anchor="middle" fill="#222">S</text>
<text x="0" y="2.72" font-size="7.6" text-anchor="middle" textLength="18.80" lengthAdjust="spacingAndGlyphs" fill="#2a2a2a" stroke="#2a2a2a" stroke-width="0.1" transform="translate(199.40,478.50) rotate(-90)">Percent</text>
<rect x="225.20" y="456.90" width="7.70" height="57.90" fill="#6592b8" stroke="#2f5f8f" stroke-opacity="0.25" stroke-width="0.8"/>
<line x1="229.05" y1="454.00" x2="229.05" y2="460.00" stroke="#2f5f8f" stroke-width="0.8"/>
<line x1="227.75" y1="454.00" x2="230.35" y2="454.00" stroke="#2f5f8f" stroke-width="0.8"/>
<line x1="227.75" y1="460.00" x2="230.35" y2="460.00" stroke="#2f5f8f" stroke-width="0.6"/>
<circle cx="227.45" cy="457.15" r="0.75" fill="#2f5f8f"/>
<circle cx="229.05" cy="456.36" r="0.75" fill="#2f5f8f"/>
<circle cx="230.65" cy="456.82" r="0.75" fill="#2f5f8f"/>
<rect x="235.40" y="490.80" width="8.10" height="24.00" fill="#e66ea6" stroke="#c8307a" stroke-opacity="0.25" stroke-width="0.8"/>
<line x1="239.45" y1="487.50" x2="239.45" y2="494.00" stroke="#c8307a" stroke-width="0.8"/>
<line x1="238.15" y1="487.50" x2="240.75" y2="487.50" stroke="#c8307a" stroke-width="0.8"/>
<line x1="238.15" y1="494.00" x2="240.75" y2="494.00" stroke="#c8307a" stroke-width="0.6"/>
<circle cx="237.85" cy="491.44" r="0.75" fill="#c8307a"/>
<circle cx="239.45" cy="489.36" r="0.75" fill="#c8307a"/>
<circle cx="241.05" cy="490.82" r="0.75" fill="#c8307a"/>
<rect x="250.80" y="459.60" width="8.00" height="55.20" fill="#9fbdd2" stroke="#5f8db5" stroke-opacity="0.25" stroke-width="0.8"/>
<line x1="254.80" y1="457.50" x2="254.80" y2="462.00" stroke="#5f8db5" stroke-width="0.8"/>
<line x1="253.50" y1="457.50" x2="256.10" y2="457.50" stroke="#5f8db5" stroke-width="0.8"/>
<line x1="253.50" y1="462.00" x2="256.10" y2="462.00" stroke="#5f8db5" stroke-width="0.6"/>
<circle cx="253.20" cy="459.04" r="0.75" fill="#5f8db5"/>
<circle cx="254.80" cy="459.90" r="0.75" fill="#5f8db5"/>
<circle cx="256.40" cy="460.56" r="0.75" fill="#5f8db5"/>
<rect x="260.80" y="455.40" width="8.00" height="59.40" fill="#f3b4cf" stroke="#e0609a" stroke-opacity="0.25" stroke-width="0.8"/>
<line x1="264.80" y1="454.00" x2="264.80" y2="457.00" stroke="#e0609a" stroke-width="0.8"/>
<line x1="263.50" y1="454.00" x2="266.10" y2="454.00" stroke="#e0609a" stroke-width="0.8"/>
<line x1="263.50" y1="457.00" x2="266.10" y2="457.00" stroke="#e0609a" stroke-width="0.6"/>
<circle cx="263.20" cy="455.30" r="0.75" fill="#e0609a"/>
<circle cx="264.80" cy="455.79" r="0.75" fill="#e0609a"/>
<circle cx="266.40" cy="454.77" r="0.75" fill="#e0609a"/>
<line x1="228.00" y1="441.00" x2="253.00" y2="441.00" stroke="#6a6a6a" stroke-width="0.9"/>
<text x="240.50" y="440.02" font-size="6.2" text-anchor="middle" fill="#333">ns</text>
<line x1="240.60" y1="446.20" x2="263.70" y2="446.20" stroke="#6a6a6a" stroke-width="0.9"/>
<text x="252.15" y="447.42" font-size="6.2" text-anchor="middle" fill="#333" stroke="#333" stroke-width="0.1">****</text>
<line x1="227.70" y1="451.00" x2="237.70" y2="451.00" stroke="#6a6a6a" stroke-width="0.9"/>
<text x="232.70" y="452.22" font-size="6.2" text-anchor="middle" fill="#333" stroke="#333" stroke-width="0.1">****</text>
<line x1="254.00" y1="452.10" x2="263.70" y2="452.10" stroke="#6a6a6a" stroke-width="0.9"/>
<text x="258.85" y="451.12" font-size="6.2" text-anchor="middle" fill="#333">ns</text>
<line x1="317.20" y1="443.80" x2="317.20" y2="515.40" stroke="#333" stroke-width="1.3"/>
<line x1="316.60" y1="514.80" x2="371.50" y2="514.80" stroke="#2a2a2a" stroke-width="1.25"/>
<line x1="313.60" y1="514.80" x2="317.20" y2="514.80" stroke="#2a2a2a" stroke-width="1.0"/>
<text x="311.80" y="517.27" font-size="6.9" text-anchor="end" fill="#444">0</text>
<line x1="313.60" y1="497.45" x2="317.20" y2="497.45" stroke="#2a2a2a" stroke-width="1.0"/>
<text x="311.80" y="499.92" font-size="6.9" text-anchor="end" fill="#444">5</text>
<line x1="313.60" y1="480.10" x2="317.20" y2="480.10" stroke="#2a2a2a" stroke-width="1.0"/>
<text x="311.80" y="482.57" font-size="6.9" text-anchor="end" fill="#444">10</text>
<line x1="313.60" y1="462.75" x2="317.20" y2="462.75" stroke="#2a2a2a" stroke-width="1.0"/>
<text x="311.80" y="465.22" font-size="6.9" text-anchor="end" fill="#444">15</text>
<line x1="313.60" y1="445.40" x2="317.20" y2="445.40" stroke="#2a2a2a" stroke-width="1.0"/>
<text x="311.80" y="447.87" font-size="6.9" text-anchor="end" fill="#444">20</text>
<line x1="331.20" y1="514.80" x2="331.20" y2="517.20" stroke="#2a2a2a" stroke-width="1.0"/>
<text x="331.20" y="526.29" font-size="6.4" text-anchor="middle" fill="#2a2a2a">ctrl</text>
<line x1="356.50" y1="514.80" x2="356.50" y2="517.20" stroke="#2a2a2a" stroke-width="1.0"/>
<text x="356.50" y="526.29" font-size="6.4" text-anchor="middle" fill="#2a2a2a">del ELDR</text>
<text x="344.80" y="424.45" font-size="8.8" text-anchor="middle" textLength="17.90" lengthAdjust="spacingAndGlyphs" fill="#222">G2M</text>
<text x="0" y="2.72" font-size="7.6" text-anchor="middle" textLength="18.80" lengthAdjust="spacingAndGlyphs" fill="#2a2a2a" stroke="#2a2a2a" stroke-width="0.1" transform="translate(296.50,478.50) rotate(-90)">Percent</text>
<rect x="322.30" y="483.80" width="8.30" height="31.00" fill="#6592b8" stroke="#2f5f8f" stroke-opacity="0.25" stroke-width="0.8"/>
<line x1="326.45" y1="480.00" x2="326.45" y2="487.00" stroke="#2f5f8f" stroke-width="0.8"/>
<line x1="325.15" y1="480.00" x2="327.75" y2="480.00" stroke="#2f5f8f" stroke-width="0.8"/>
<line x1="325.15" y1="487.00" x2="327.75" y2="487.00" stroke="#2f5f8f" stroke-width="0.6"/>
<circle cx="324.85" cy="483.07" r="0.75" fill="#2f5f8f"/>
<circle cx="326.45" cy="483.83" r="0.75" fill="#2f5f8f"/>
<circle cx="328.05" cy="483.90" r="0.75" fill="#2f5f8f"/>
<rect x="332.50" y="466.90" width="8.30" height="47.90" fill="#e66ea6" stroke="#c8307a" stroke-opacity="0.25" stroke-width="0.8"/>
<line x1="336.65" y1="460.00" x2="336.65" y2="472.00" stroke="#c8307a" stroke-width="0.8"/>
<line x1="335.35" y1="460.00" x2="337.95" y2="460.00" stroke="#c8307a" stroke-width="0.8"/>
<line x1="335.35" y1="472.00" x2="337.95" y2="472.00" stroke="#c8307a" stroke-width="0.6"/>
<circle cx="335.05" cy="466.07" r="0.75" fill="#c8307a"/>
<circle cx="336.65" cy="467.70" r="0.75" fill="#c8307a"/>
<circle cx="338.25" cy="466.90" r="0.75" fill="#c8307a"/>
<rect x="347.90" y="484.60" width="8.30" height="30.20" fill="#9fbdd2" stroke="#5f8db5" stroke-opacity="0.25" stroke-width="0.8"/>
<line x1="352.05" y1="481.00" x2="352.05" y2="487.50" stroke="#5f8db5" stroke-width="0.8"/>
<line x1="350.75" y1="481.00" x2="353.35" y2="481.00" stroke="#5f8db5" stroke-width="0.8"/>
<line x1="350.75" y1="487.50" x2="353.35" y2="487.50" stroke="#5f8db5" stroke-width="0.6"/>
<circle cx="350.45" cy="484.17" r="0.75" fill="#5f8db5"/>
<circle cx="352.05" cy="483.86" r="0.75" fill="#5f8db5"/>
<circle cx="353.65" cy="485.61" r="0.75" fill="#5f8db5"/>
<rect x="358.00" y="486.90" width="8.20" height="27.90" fill="#f3b4cf" stroke="#e0609a" stroke-opacity="0.25" stroke-width="0.8"/>
<line x1="362.10" y1="485.50" x2="362.10" y2="488.00" stroke="#e0609a" stroke-width="0.8"/>
<line x1="360.80" y1="485.50" x2="363.40" y2="485.50" stroke="#e0609a" stroke-width="0.8"/>
<line x1="360.80" y1="488.00" x2="363.40" y2="488.00" stroke="#e0609a" stroke-width="0.6"/>
<circle cx="360.50" cy="488.11" r="0.75" fill="#e0609a"/>
<circle cx="362.10" cy="488.21" r="0.75" fill="#e0609a"/>
<circle cx="363.70" cy="486.14" r="0.75" fill="#e0609a"/>
<line x1="325.80" y1="446.70" x2="351.70" y2="446.70" stroke="#6a6a6a" stroke-width="0.9"/>
<text x="338.75" y="445.72" font-size="6.2" text-anchor="middle" fill="#333">ns</text>
<line x1="337.30" y1="452.50" x2="362.30" y2="452.50" stroke="#6a6a6a" stroke-width="0.9"/>
<text x="349.80" y="453.72" font-size="6.2" text-anchor="middle" fill="#333" stroke="#333" stroke-width="0.1">**</text>
<line x1="326.70" y1="457.70" x2="337.30" y2="457.70" stroke="#6a6a6a" stroke-width="0.9"/>
<text x="332.00" y="458.92" font-size="6.2" text-anchor="middle" fill="#333" stroke="#333" stroke-width="0.1">**</text>
<line x1="351.70" y1="476.90" x2="362.70" y2="476.90" stroke="#6a6a6a" stroke-width="0.9"/>
<text x="357.20" y="475.92" font-size="6.2" text-anchor="middle" fill="#333">ns</text>
<text x="389.80" y="457.71" font-size="7.0" textLength="16.40" lengthAdjust="spacingAndGlyphs" fill="#333">THP-1</text>
<rect x="389.80" y="461.30" width="5.40" height="5.40" fill="#6592b8"/>
<text x="398.10" y="466.51" font-size="7.0" textLength="10.40" lengthAdjust="spacingAndGlyphs" fill="#333">EV1</text>
<text x="409.10" y="463.36" font-size="3.8" textLength="6.30" lengthAdjust="spacingAndGlyphs" fill="#555">ctrl</text>
<rect x="389.80" y="470.85" width="5.40" height="5.40" fill="#e66ea6"/>
<text x="398.10" y="476.06" font-size="7.0" textLength="25.40" lengthAdjust="spacingAndGlyphs" fill="#333">ELDR-C1</text>
<text x="424.10" y="472.91" font-size="3.8" textLength="4.80" lengthAdjust="spacingAndGlyphs" fill="#555">ctrl</text>
<rect x="389.80" y="480.40" width="5.40" height="5.40" fill="#9fbdd2"/>
<text x="398.10" y="485.61" font-size="7.0" textLength="10.40" lengthAdjust="spacingAndGlyphs" fill="#333">EV1</text>
<text x="409.10" y="482.46" font-size="3.8" textLength="13.50" lengthAdjust="spacingAndGlyphs" fill="#555">del ELDR</text>
<rect x="389.80" y="489.95" width="5.40" height="5.40" fill="#f3b4cf"/>
<text x="398.10" y="495.16" font-size="7.0" textLength="25.40" lengthAdjust="spacingAndGlyphs" fill="#333">ELDR-C1</text>
<text x="424.10" y="492.01" font-size="3.8" textLength="13.50" lengthAdjust="spacingAndGlyphs" fill="#555">del ELDR</text>
<rect x="0.5" y="0.5" width="519" height="533" fill="none" stroke="#5a5a5a" stroke-width="1"/>
<line x1="0" y1="533.2" x2="520" y2="533.2" stroke="#444" stroke-width="1.6"/>
</svg></body></html>
